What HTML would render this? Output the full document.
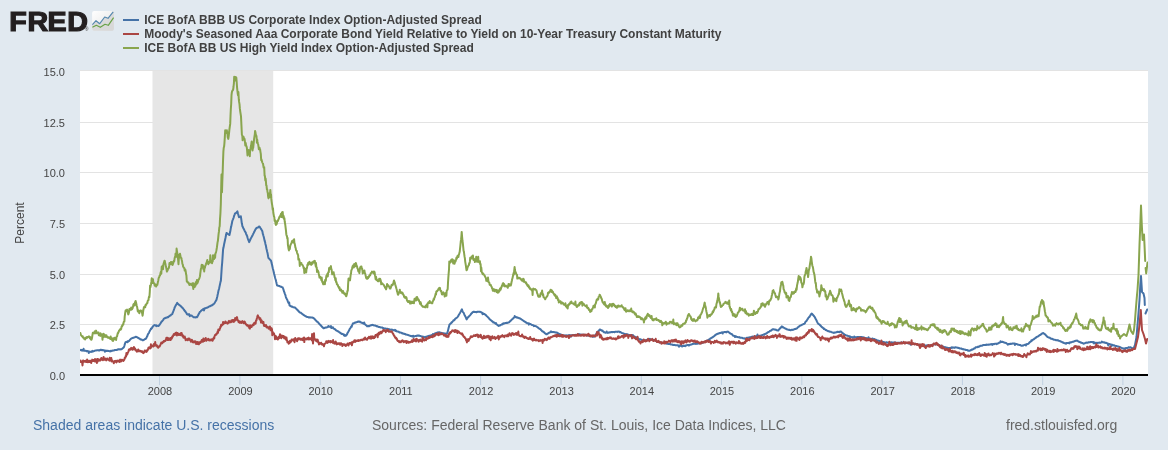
<!DOCTYPE html>
<html><head><meta charset="utf-8"><title>FRED Graph</title>
<style>
html,body{margin:0;padding:0;background:#e1e9f0;}
body{width:1168px;height:450px;overflow:hidden;}
svg text{font-family:"Liberation Sans",sans-serif;}
.ax{font-size:11px;fill:#444;}
.yt{font-size:12px;fill:#444;}
.lg{font-size:12px;font-weight:bold;fill:#414141;}
.ft{font-size:14px;}
.logo{font-size:27.3px;font-weight:bold;fill:#231f20;stroke:#231f20;stroke-width:1.2px;stroke-linejoin:miter;}
</style></head><body>
<svg width="1168" height="450" viewBox="0 0 1168 450" style="display:block">
<defs><linearGradient id="ig" x1="0" y1="0" x2="1" y2="1"><stop offset="0" stop-color="#ffffff"/><stop offset="0.6" stop-color="#eeeeee"/><stop offset="1" stop-color="#dddddd"/></linearGradient><clipPath id="pc"><rect x="80" y="71" width="1068" height="305"/></clipPath></defs>
<rect width="1168" height="450" fill="#e1e9f0"/>
<rect x="80" y="71" width="1068" height="304" fill="#ffffff"/>
<rect x="80" y="70" width="1068" height="1" fill="#e3e3e3"/>
<rect x="80" y="122.0" width="1068" height="1" fill="#e3e3e3"/>
<rect x="80" y="172.0" width="1068" height="1" fill="#e3e3e3"/>
<rect x="80" y="223.0" width="1068" height="1" fill="#e3e3e3"/>
<rect x="80" y="274.0" width="1068" height="1" fill="#e3e3e3"/>
<rect x="80" y="324.0" width="1068" height="1" fill="#e3e3e3"/>
<rect x="152.5" y="71" width="120.7" height="304" fill="#e6e6e6"/>
<rect x="159.0" y="376" width="1" height="9" fill="#c0d0e0"/>
<text x="160.0" y="394.7" text-anchor="middle" class="ax">2008</text>
<rect x="239.4" y="376" width="1" height="9" fill="#c0d0e0"/>
<text x="240.4" y="394.7" text-anchor="middle" class="ax">2009</text>
<rect x="319.7" y="376" width="1" height="9" fill="#c0d0e0"/>
<text x="320.7" y="394.7" text-anchor="middle" class="ax">2010</text>
<rect x="399.9" y="376" width="1" height="9" fill="#c0d0e0"/>
<text x="400.9" y="394.7" text-anchor="middle" class="ax">2011</text>
<rect x="480.1" y="376" width="1" height="9" fill="#c0d0e0"/>
<text x="481.1" y="394.7" text-anchor="middle" class="ax">2012</text>
<rect x="560.6" y="376" width="1" height="9" fill="#c0d0e0"/>
<text x="561.6" y="394.7" text-anchor="middle" class="ax">2013</text>
<rect x="640.8" y="376" width="1" height="9" fill="#c0d0e0"/>
<text x="641.8" y="394.7" text-anchor="middle" class="ax">2014</text>
<rect x="721.0" y="376" width="1" height="9" fill="#c0d0e0"/>
<text x="722.0" y="394.7" text-anchor="middle" class="ax">2015</text>
<rect x="801.3" y="376" width="1" height="9" fill="#c0d0e0"/>
<text x="802.3" y="394.7" text-anchor="middle" class="ax">2016</text>
<rect x="881.7" y="376" width="1" height="9" fill="#c0d0e0"/>
<text x="882.7" y="394.7" text-anchor="middle" class="ax">2017</text>
<rect x="961.9" y="376" width="1" height="9" fill="#c0d0e0"/>
<text x="962.9" y="394.7" text-anchor="middle" class="ax">2018</text>
<rect x="1042.2" y="376" width="1" height="9" fill="#c0d0e0"/>
<text x="1043.2" y="394.7" text-anchor="middle" class="ax">2019</text>
<rect x="1122.4" y="376" width="1" height="9" fill="#c0d0e0"/>
<text x="1123.4" y="394.7" text-anchor="middle" class="ax">2020</text>
<text x="65" y="76.0" text-anchor="end" class="ax">15.0</text>
<text x="65" y="126.7" text-anchor="end" class="ax">12.5</text>
<text x="65" y="177.3" text-anchor="end" class="ax">10.0</text>
<text x="65" y="228.0" text-anchor="end" class="ax">7.5</text>
<text x="65" y="278.7" text-anchor="end" class="ax">5.0</text>
<text x="65" y="329.3" text-anchor="end" class="ax">2.5</text>
<text x="65" y="380.0" text-anchor="end" class="ax">0.0</text>
<text transform="translate(24,223) rotate(-90)" text-anchor="middle" class="yt">Percent</text>
<g clip-path="url(#pc)" fill="none" stroke-width="2" stroke-linejoin="round" stroke-linecap="round">
<path d="M80.0 349.8 L80.3 350.1 L80.7 350.1 L81.0 350.2 L81.3 350.2 L81.6 349.9 L82.0 350.6 L82.3 350.1 L82.6 350.1 L82.9 350.4 L83.3 350.5 L83.6 348.8 L83.9 350.7 L84.2 350.6 L84.6 350.8 L84.9 350.8 L85.2 350.8 L85.5 350.8 L85.9 350.8 L86.2 351.1 L86.5 351.1 L86.8 351.4 L87.1 351.3 L87.5 351.0 L87.8 351.1 L88.1 351.3 L88.4 351.3 L88.8 353.0 L89.1 351.4 L89.4 351.5 L89.7 351.5 L90.0 351.7 L90.4 351.8 L90.7 351.9 L91.0 352.0 L91.3 351.9 L91.7 351.5 L92.0 351.7 L92.3 350.9 L92.6 351.4 L93.0 351.4 L93.3 351.2 L93.6 351.2 L93.9 351.1 L94.3 350.9 L94.6 350.9 L94.9 350.6 L95.2 350.6 L95.6 350.5 L95.9 350.4 L96.2 350.5 L96.5 350.4 L96.9 350.3 L97.2 350.3 L97.5 350.2 L97.8 350.2 L98.1 350.2 L98.5 350.2 L98.8 350.5 L99.1 350.2 L99.4 350.2 L99.8 350.4 L100.1 350.1 L100.4 349.7 L100.7 349.7 L101.0 350.0 L101.4 349.8 L101.7 350.2 L102.0 350.0 L102.3 350.1 L102.6 350.2 L103.0 350.0 L103.3 350.3 L103.6 350.2 L103.9 350.2 L104.2 350.4 L104.5 350.4 L104.9 351.8 L105.2 350.5 L105.5 350.6 L105.8 350.7 L106.1 350.7 L106.4 350.9 L106.8 350.9 L107.1 350.8 L107.4 350.8 L107.7 351.0 L108.0 350.8 L108.3 351.1 L108.7 351.1 L109.0 351.0 L109.3 351.1 L109.6 351.2 L109.9 351.2 L110.2 351.4 L110.6 350.9 L110.9 351.2 L111.2 351.1 L111.5 350.8 L111.8 350.8 L112.2 350.8 L112.5 350.6 L112.8 350.6 L113.1 350.5 L113.5 350.5 L113.8 350.5 L114.1 350.2 L114.4 350.2 L114.7 349.9 L115.1 350.0 L115.4 349.9 L115.7 350.0 L116.0 350.0 L116.4 350.1 L116.7 349.9 L117.0 349.9 L117.3 349.7 L117.7 349.6 L118.0 349.3 L118.3 349.4 L118.6 349.2 L119.0 349.3 L119.3 349.3 L119.6 349.4 L119.9 349.4 L120.3 349.3 L120.6 349.4 L120.9 349.2 L121.2 349.2 L121.6 349.2 L121.9 349.0 L122.3 348.6 L122.6 348.4 L123.0 348.0 L123.3 347.8 L123.7 347.3 L124.0 347.0 L124.4 345.8 L124.7 344.6 L125.1 343.4 L125.5 342.2 L125.8 342.1 L126.1 342.0 L126.4 342.0 L126.7 341.9 L127.0 341.7 L127.3 341.5 L127.7 342.1 L128.0 341.1 L128.3 341.2 L128.6 341.1 L128.9 341.0 L129.2 340.9 L129.6 340.3 L129.9 339.9 L130.3 339.4 L130.6 339.0 L131.0 338.9 L131.3 338.5 L131.7 338.2 L132.0 338.2 L132.3 338.0 L132.6 338.1 L133.0 337.8 L133.3 337.8 L133.6 337.6 L134.0 337.5 L134.3 337.5 L134.6 337.4 L134.9 337.3 L135.3 337.0 L135.6 336.8 L135.9 336.8 L136.2 336.8 L136.6 337.0 L136.9 337.2 L137.2 337.4 L137.6 337.5 L137.9 337.7 L138.2 338.0 L138.6 338.2 L138.9 338.4 L139.2 338.5 L139.6 338.7 L139.9 338.9 L140.2 339.2 L140.6 339.6 L140.9 339.6 L141.3 339.5 L141.6 339.5 L141.9 339.8 L142.3 340.1 L142.6 340.3 L143.0 340.3 L143.3 339.9 L143.6 339.9 L144.0 339.9 L144.3 339.6 L144.7 339.1 L145.0 339.0 L145.3 339.0 L145.7 338.8 L146.0 338.7 L146.3 338.0 L146.7 337.2 L147.0 336.5 L147.3 336.1 L147.7 334.9 L148.0 334.2 L148.3 333.6 L148.7 333.2 L149.0 332.6 L149.3 331.9 L149.7 331.1 L150.0 330.7 L150.3 330.0 L150.7 329.5 L151.0 328.5 L151.3 328.9 L151.7 328.4 L152.0 327.9 L152.3 327.3 L152.6 327.0 L153.0 326.4 L153.3 326.0 L153.6 325.6 L154.0 325.2 L154.3 325.2 L154.6 325.0 L154.9 325.2 L155.3 325.4 L155.6 325.6 L155.9 325.2 L156.2 325.3 L156.6 326.2 L156.9 325.6 L157.2 325.8 L157.5 325.8 L157.9 325.8 L158.2 325.7 L158.5 326.0 L158.9 325.7 L159.2 325.0 L159.5 324.8 L159.9 324.3 L160.2 323.8 L160.6 323.3 L160.9 322.6 L161.3 322.1 L161.6 321.5 L162.0 321.4 L162.3 320.9 L162.7 320.5 L163.0 320.0 L163.3 319.8 L163.7 319.0 L164.0 318.6 L164.4 318.4 L164.7 318.3 L165.0 318.2 L165.4 317.9 L165.7 317.9 L166.0 317.6 L166.4 317.7 L166.7 317.6 L167.0 317.5 L167.4 317.1 L167.7 317.3 L168.0 317.3 L168.3 317.0 L168.7 316.6 L169.0 316.3 L169.3 316.1 L169.7 315.8 L170.0 315.6 L170.3 315.6 L170.7 315.4 L171.0 315.0 L171.3 314.4 L171.6 314.4 L172.0 314.2 L172.3 314.1 L172.6 313.0 L173.0 312.2 L173.3 311.2 L173.7 310.4 L174.0 309.5 L174.4 308.4 L174.7 307.4 L175.1 306.8 L175.4 306.0 L175.8 305.4 L176.1 304.8 L176.5 304.3 L176.8 303.5 L177.2 302.9 L177.6 303.4 L178.0 303.8 L178.3 304.2 L178.7 304.5 L179.0 304.7 L179.3 305.1 L179.6 305.1 L180.0 305.5 L180.3 305.7 L180.6 306.1 L180.9 306.3 L181.3 306.7 L181.6 306.9 L181.9 307.3 L182.2 307.8 L182.6 307.9 L182.9 308.2 L183.2 308.6 L183.5 309.1 L183.9 309.7 L184.2 310.0 L184.5 310.7 L184.9 311.2 L185.2 311.0 L185.5 311.9 L185.9 312.2 L186.2 312.7 L186.5 313.2 L186.8 313.9 L187.2 314.5 L187.5 314.5 L187.8 314.4 L188.2 314.6 L188.5 314.7 L188.8 314.8 L189.1 314.1 L189.5 314.7 L189.8 316.2 L190.1 315.3 L190.5 315.5 L190.8 315.6 L191.1 315.5 L191.4 315.4 L191.8 315.8 L192.1 315.9 L192.5 316.3 L192.8 316.5 L193.2 317.0 L193.5 317.2 L193.9 317.3 L194.2 317.3 L194.6 317.3 L194.9 317.4 L195.3 317.5 L195.6 317.4 L195.9 317.1 L196.3 317.1 L196.6 317.2 L196.9 317.2 L197.3 316.8 L197.6 316.1 L198.0 315.5 L198.3 314.8 L198.6 314.2 L199.0 313.6 L199.3 313.0 L199.7 312.4 L200.0 311.8 L200.3 311.8 L200.7 311.2 L201.0 310.7 L201.3 310.6 L201.7 310.3 L202.0 310.0 L202.3 309.9 L202.7 309.7 L203.0 309.2 L203.3 309.0 L203.7 308.7 L204.0 310.4 L204.3 308.5 L204.7 308.6 L205.0 308.6 L205.3 308.3 L205.6 308.0 L206.0 308.0 L206.3 307.7 L206.6 307.7 L206.9 307.7 L207.3 307.7 L207.6 307.3 L207.9 307.3 L208.2 307.1 L208.6 306.9 L208.9 306.7 L209.2 306.5 L209.5 306.3 L209.9 306.3 L210.2 306.1 L210.5 305.9 L210.8 305.8 L211.2 305.6 L211.5 305.3 L211.8 305.4 L212.1 305.2 L212.4 305.1 L212.8 304.8 L213.1 304.4 L213.4 304.2 L213.7 304.0 L214.1 303.9 L214.4 303.3 L214.8 302.7 L215.1 302.0 L215.5 301.5 L215.8 300.9 L216.2 300.2 L216.5 299.8 L216.9 298.1 L217.4 296.2 L217.7 294.4 L218.0 293.2 L218.3 291.6 L218.6 290.3 L219.0 289.0 L219.3 287.6 L219.6 286.1 L219.9 284.8 L220.2 283.4 L220.5 281.9 L220.9 280.6 L221.2 276.0 L221.5 271.4 L221.8 266.8 L222.2 262.5 L222.5 258.0 L222.8 253.6 L223.1 249.2 L223.5 247.6 L223.8 246.0 L224.1 244.3 L224.5 242.5 L224.8 241.0 L225.2 239.2 L225.5 237.8 L225.8 236.2 L226.2 234.6 L226.5 233.0 L226.9 233.2 L227.2 233.5 L227.5 233.7 L227.8 233.9 L228.2 234.1 L228.5 234.4 L228.8 234.6 L229.1 234.9 L229.5 235.0 L229.8 233.4 L230.2 231.8 L230.5 230.1 L230.8 228.3 L231.2 226.6 L231.5 225.1 L231.9 223.3 L232.2 221.5 L232.5 220.4 L232.9 219.6 L233.2 218.7 L233.6 217.8 L233.9 216.7 L234.2 215.6 L234.6 214.6 L234.9 213.7 L235.2 213.4 L235.5 213.2 L235.9 213.2 L236.2 212.7 L236.5 212.4 L236.8 212.0 L237.1 211.8 L237.4 211.4 L237.7 212.5 L238.0 213.7 L238.4 215.0 L238.7 216.2 L239.0 217.2 L239.4 217.1 L239.7 216.8 L240.1 216.7 L240.4 216.5 L240.8 216.2 L241.1 218.2 L241.4 220.2 L241.8 223.3 L242.1 224.4 L242.4 226.4 L242.7 226.7 L243.1 227.5 L243.4 228.5 L243.8 228.9 L244.1 229.5 L244.4 230.3 L244.8 231.2 L245.1 231.6 L245.5 232.2 L245.8 232.8 L246.1 233.8 L246.5 234.8 L246.8 235.4 L247.2 236.2 L247.5 237.5 L247.8 238.5 L248.2 239.6 L248.5 240.4 L248.9 241.2 L249.2 242.1 L249.5 241.4 L249.9 240.6 L250.2 239.9 L250.6 239.0 L250.9 238.2 L251.2 237.9 L251.6 237.1 L251.9 236.5 L252.3 235.9 L252.6 235.2 L252.9 234.6 L253.3 233.7 L253.6 233.2 L254.0 232.3 L254.3 231.7 L254.6 231.1 L255.0 230.5 L255.3 229.7 L255.7 229.2 L256.0 228.6 L256.3 228.2 L256.7 228.0 L257.0 227.7 L257.4 227.6 L257.7 227.6 L258.0 227.5 L258.4 227.1 L258.7 226.9 L259.1 226.5 L259.4 226.4 L259.7 227.0 L260.1 227.3 L260.4 228.0 L260.8 228.7 L261.1 229.1 L261.4 229.6 L261.8 230.1 L262.1 230.7 L262.5 231.8 L262.8 233.9 L263.1 234.5 L263.4 235.8 L263.8 237.0 L264.1 238.4 L264.4 239.7 L264.7 241.1 L265.1 242.1 L265.4 243.9 L265.8 245.3 L266.1 246.8 L266.4 248.5 L266.8 250.1 L267.1 251.5 L267.5 252.9 L267.8 254.7 L268.1 256.4 L268.5 257.9 L268.8 258.4 L269.2 258.6 L269.5 259.0 L269.8 259.4 L270.2 259.8 L270.5 260.3 L270.9 260.7 L271.2 261.1 L271.5 262.8 L271.9 264.2 L272.2 265.5 L272.5 267.1 L272.8 268.4 L273.2 269.8 L273.5 271.1 L273.8 272.3 L274.1 273.8 L274.5 275.2 L274.8 276.4 L275.1 277.7 L275.4 278.8 L275.8 280.0 L276.1 281.4 L276.4 282.5 L276.7 284.0 L277.1 285.4 L277.4 285.5 L277.7 285.5 L278.0 285.7 L278.3 285.7 L278.6 285.7 L279.0 286.0 L279.3 286.1 L279.6 286.1 L279.9 286.3 L280.2 286.5 L280.5 286.6 L280.8 286.7 L281.2 286.9 L281.5 286.8 L281.8 287.1 L282.1 287.2 L282.4 287.2 L282.7 287.5 L283.1 288.5 L283.4 289.4 L283.8 290.7 L284.1 291.7 L284.4 292.4 L284.8 293.6 L285.1 294.4 L285.5 295.4 L285.8 296.7 L286.1 297.8 L286.5 298.4 L286.8 299.0 L287.2 299.7 L287.5 300.5 L287.8 301.4 L288.2 302.3 L288.5 302.9 L288.9 303.6 L289.2 302.5 L289.5 305.5 L289.9 305.6 L290.2 305.7 L290.5 306.1 L290.8 306.1 L291.1 306.2 L291.4 306.6 L291.7 306.7 L292.1 306.6 L292.4 306.8 L292.7 306.9 L293.0 306.9 L293.3 307.3 L293.6 307.3 L294.0 307.2 L294.3 307.5 L294.6 307.4 L294.9 307.5 L295.2 307.7 L295.5 308.0 L295.9 308.3 L296.2 308.7 L296.5 309.0 L296.8 309.4 L297.2 309.7 L297.5 309.9 L297.8 310.4 L298.1 310.5 L298.5 311.1 L298.8 311.3 L299.1 311.8 L299.4 312.2 L299.7 312.3 L300.1 312.5 L300.4 312.6 L300.7 312.7 L301.0 312.9 L301.4 313.3 L301.7 313.6 L302.0 313.7 L302.3 314.0 L302.7 314.3 L303.0 314.4 L303.3 314.8 L303.6 315.1 L304.0 315.1 L304.3 315.5 L304.6 315.7 L304.9 315.9 L305.3 316.0 L305.6 316.2 L305.9 316.4 L306.2 316.5 L306.5 316.8 L306.9 316.9 L307.2 317.0 L307.5 317.0 L307.8 317.0 L308.2 317.0 L308.5 317.4 L308.8 317.4 L309.1 317.4 L309.5 317.3 L309.8 317.5 L310.1 317.6 L310.4 317.5 L310.8 317.6 L311.1 317.5 L311.4 317.4 L311.7 317.6 L312.1 317.5 L312.4 317.7 L312.7 317.6 L313.0 317.8 L313.4 317.9 L313.7 318.2 L314.0 318.5 L314.3 318.7 L314.6 319.0 L314.9 319.5 L315.2 319.7 L315.6 320.2 L315.9 320.5 L316.2 320.7 L316.5 321.1 L316.8 321.3 L317.1 321.8 L317.4 321.9 L317.8 322.0 L318.1 322.5 L318.4 322.8 L318.7 323.1 L319.0 323.5 L319.3 324.1 L319.7 324.2 L320.0 324.5 L320.3 324.9 L320.6 325.3 L321.0 325.7 L321.3 325.9 L321.6 326.3 L321.9 326.8 L322.3 327.0 L322.6 327.3 L322.9 327.6 L323.2 328.1 L323.6 328.3 L323.9 328.1 L324.2 328.1 L324.5 327.9 L324.8 327.8 L325.1 327.7 L325.4 327.4 L325.8 327.5 L326.1 327.4 L326.4 327.4 L326.7 327.5 L327.0 327.3 L327.3 327.1 L327.6 327.0 L328.0 326.8 L328.3 326.0 L328.6 326.7 L328.9 326.7 L329.2 326.5 L329.5 326.7 L329.9 326.8 L330.2 326.2 L330.5 327.0 L330.8 327.1 L331.1 326.3 L331.4 328.1 L331.7 327.3 L332.1 327.4 L332.4 327.7 L332.7 327.8 L333.0 327.3 L333.3 328.3 L333.6 328.5 L333.9 328.7 L334.3 329.0 L334.6 329.1 L334.9 329.1 L335.2 329.3 L335.5 329.8 L335.8 330.2 L336.2 330.3 L336.5 330.5 L336.8 330.8 L337.1 330.8 L337.4 331.0 L337.7 331.2 L338.0 331.3 L338.4 331.5 L338.7 331.8 L339.0 331.8 L339.3 332.2 L339.6 332.3 L339.9 332.6 L340.2 332.8 L340.6 333.2 L340.9 333.4 L341.2 333.6 L341.5 333.7 L341.8 334.0 L342.1 333.8 L342.5 334.0 L342.8 334.1 L343.1 334.4 L343.4 334.3 L343.7 334.4 L344.0 335.5 L344.3 334.8 L344.7 334.8 L345.0 336.0 L345.3 335.3 L345.6 335.4 L345.9 335.5 L346.2 335.6 L346.6 334.9 L346.9 334.5 L347.3 333.7 L347.6 332.8 L347.9 332.5 L348.3 331.8 L348.6 331.3 L349.0 330.6 L349.3 329.9 L349.6 329.2 L350.0 328.7 L350.3 328.2 L350.7 327.5 L351.0 326.9 L351.3 326.4 L351.7 326.8 L352.0 325.3 L352.4 324.7 L352.7 324.0 L353.0 323.3 L353.3 323.3 L353.7 323.3 L354.0 323.2 L354.3 323.0 L354.6 322.8 L354.9 322.6 L355.2 322.7 L355.6 322.6 L355.9 322.4 L356.2 322.2 L356.5 322.2 L356.8 322.1 L357.1 322.1 L357.4 321.8 L357.8 321.9 L358.1 321.6 L358.4 321.5 L358.7 321.5 L359.0 321.7 L359.4 321.8 L359.7 321.5 L360.0 321.7 L360.3 322.2 L360.6 322.1 L361.0 322.3 L361.3 322.6 L361.6 322.8 L361.9 322.7 L362.3 322.9 L362.6 323.1 L362.9 323.3 L363.2 323.3 L363.6 323.6 L363.9 323.8 L364.2 322.4 L364.5 324.0 L364.9 324.1 L365.2 324.5 L365.5 324.8 L365.8 325.1 L366.2 325.3 L366.5 325.5 L366.8 325.6 L367.1 326.3 L367.4 326.0 L367.8 326.3 L368.1 326.1 L368.4 326.1 L368.7 325.9 L369.1 326.2 L369.4 325.9 L369.7 325.8 L370.0 325.7 L370.4 325.5 L370.7 325.4 L371.0 325.3 L371.3 325.1 L371.7 325.2 L372.0 325.0 L372.3 324.8 L372.6 325.0 L373.0 325.0 L373.3 325.1 L373.6 325.3 L373.9 325.3 L374.3 325.5 L374.6 325.5 L374.9 325.5 L375.2 325.6 L375.5 325.6 L375.9 325.8 L376.2 326.1 L376.5 326.2 L376.8 326.1 L377.2 326.4 L377.5 326.3 L377.8 326.4 L378.1 326.6 L378.5 326.8 L378.8 327.1 L379.1 327.0 L379.4 326.9 L379.8 327.0 L380.1 327.3 L380.4 327.4 L380.7 327.4 L381.1 327.4 L381.4 327.4 L381.7 327.4 L382.0 327.4 L382.4 327.7 L382.7 327.9 L383.0 327.9 L383.3 328.1 L383.6 328.2 L384.0 328.4 L384.3 328.4 L384.6 328.4 L384.9 328.4 L385.3 328.4 L385.6 328.6 L385.9 328.7 L386.2 328.7 L386.6 328.7 L386.9 328.8 L387.2 328.8 L387.5 328.8 L387.9 330.9 L388.2 329.1 L388.5 329.3 L388.8 329.4 L389.2 329.5 L389.5 329.3 L389.8 329.4 L390.1 329.4 L390.4 329.7 L390.8 329.6 L391.1 329.5 L391.4 329.7 L391.7 329.6 L392.1 329.7 L392.4 329.7 L392.7 329.7 L393.0 330.0 L393.4 330.1 L393.7 330.3 L394.0 330.3 L394.3 330.4 L394.7 330.5 L395.0 329.8 L395.3 330.7 L395.6 330.9 L396.0 330.5 L396.3 331.1 L396.6 331.3 L396.9 331.3 L397.3 331.5 L397.6 331.4 L397.9 331.5 L398.2 331.6 L398.5 331.7 L398.9 331.8 L399.2 332.2 L399.5 332.5 L399.8 332.5 L400.2 332.4 L400.5 332.5 L400.8 332.6 L401.1 332.7 L401.5 332.8 L401.8 333.1 L402.1 333.5 L402.4 333.3 L402.8 333.4 L403.1 333.6 L403.4 333.5 L403.7 333.8 L404.1 333.9 L404.4 333.8 L404.7 334.1 L405.0 334.0 L405.4 334.2 L405.7 334.5 L406.0 334.4 L406.3 334.6 L406.6 334.6 L407.0 334.7 L407.3 334.8 L407.6 334.9 L407.9 335.0 L408.3 335.1 L408.6 335.1 L408.9 335.4 L409.2 335.5 L409.6 335.5 L409.9 335.7 L410.2 335.9 L410.5 336.0 L410.9 335.9 L411.2 336.1 L411.5 336.2 L411.8 336.1 L412.2 336.0 L412.5 336.2 L412.8 336.6 L413.1 335.8 L413.4 336.8 L413.8 336.6 L414.1 336.4 L414.4 336.4 L414.7 336.2 L415.0 336.1 L415.3 336.1 L415.6 336.1 L416.0 335.9 L416.3 335.9 L416.6 335.7 L416.9 335.8 L417.2 335.6 L417.5 335.6 L417.8 335.5 L418.2 335.7 L418.5 335.7 L418.8 335.5 L419.1 335.4 L419.4 335.7 L419.7 335.9 L420.1 336.0 L420.4 336.1 L420.7 336.0 L421.0 336.1 L421.3 336.5 L421.6 336.4 L421.9 336.4 L422.3 336.6 L422.6 336.6 L422.9 336.9 L423.2 336.7 L423.5 336.9 L423.8 337.3 L424.1 337.3 L424.5 337.4 L424.8 337.0 L425.1 336.8 L425.4 337.0 L425.8 336.8 L426.1 336.8 L426.4 336.7 L426.7 336.6 L427.1 336.4 L427.4 336.3 L427.7 336.3 L428.0 336.2 L428.3 336.1 L428.7 336.3 L429.0 335.7 L429.3 335.9 L429.6 335.9 L430.0 335.8 L430.3 335.8 L430.6 335.6 L430.9 335.9 L431.3 335.2 L431.6 335.1 L431.9 335.9 L432.2 334.8 L432.6 334.9 L432.9 334.0 L433.2 334.4 L433.5 334.3 L433.9 334.1 L434.2 334.0 L434.5 333.9 L434.8 333.5 L435.2 333.4 L435.5 333.2 L435.8 333.3 L436.1 333.1 L436.4 333.0 L436.8 332.9 L437.1 332.7 L437.4 332.7 L437.7 332.4 L438.1 332.3 L438.4 332.4 L438.7 332.6 L439.0 332.4 L439.4 332.3 L439.7 332.4 L440.0 332.6 L440.3 332.6 L440.7 332.8 L441.0 332.8 L441.3 332.9 L441.6 333.1 L442.0 333.0 L442.3 333.1 L442.6 333.2 L442.9 333.3 L443.3 333.3 L443.6 333.2 L443.9 333.2 L444.2 333.5 L444.5 333.4 L444.9 333.6 L445.2 333.6 L445.5 333.6 L445.8 333.7 L446.2 333.6 L446.5 333.7 L446.8 333.6 L447.1 333.7 L447.5 332.4 L447.8 331.4 L448.1 330.1 L448.4 328.7 L448.8 327.4 L449.1 326.1 L449.4 324.8 L449.7 324.5 L450.1 324.0 L450.4 323.7 L450.7 323.5 L451.0 323.3 L451.3 322.7 L451.7 322.3 L452.0 322.4 L452.3 321.6 L452.6 321.5 L453.0 321.1 L453.3 320.6 L453.6 320.2 L453.9 320.1 L454.3 320.3 L454.6 319.7 L454.9 319.4 L455.2 318.8 L455.6 318.5 L455.9 318.3 L456.2 318.1 L456.5 317.8 L456.9 317.6 L457.2 317.4 L457.5 317.1 L457.8 316.6 L458.2 316.0 L458.5 315.6 L458.8 314.8 L459.2 314.2 L459.5 313.7 L459.8 313.2 L460.2 312.6 L460.5 312.1 L460.9 311.4 L461.2 310.7 L461.5 310.0 L461.9 309.4 L462.2 310.4 L462.5 310.9 L462.8 311.6 L463.1 312.2 L463.5 312.6 L463.8 313.0 L464.1 313.9 L464.4 314.7 L464.7 315.3 L465.0 315.9 L465.4 316.5 L465.7 317.2 L466.0 317.9 L466.3 318.7 L466.6 319.4 L466.9 318.9 L467.3 318.3 L467.6 317.7 L467.9 317.3 L468.2 317.2 L468.6 316.8 L468.9 316.5 L469.2 315.9 L469.5 315.8 L469.8 315.5 L470.2 315.1 L470.5 314.8 L470.8 314.3 L471.1 314.0 L471.5 313.4 L471.8 313.2 L472.1 313.0 L472.4 312.4 L472.7 312.0 L473.1 312.0 L473.4 311.8 L473.7 311.7 L474.0 311.9 L474.3 311.7 L474.6 312.0 L475.0 311.9 L475.3 311.9 L475.6 311.9 L475.9 311.9 L476.2 312.1 L476.5 312.3 L476.9 311.9 L477.2 311.9 L477.5 311.7 L477.8 311.8 L478.1 311.7 L478.5 311.7 L478.8 311.8 L479.1 311.8 L479.4 311.8 L479.7 311.9 L480.0 311.8 L480.4 311.9 L480.7 312.0 L481.0 312.2 L481.3 312.4 L481.6 312.6 L482.0 312.8 L482.3 312.8 L482.6 314.2 L482.9 313.3 L483.3 313.4 L483.6 313.7 L483.9 314.0 L484.2 313.9 L484.6 314.2 L484.9 314.4 L485.2 314.4 L485.5 314.8 L485.9 315.2 L486.2 315.5 L486.5 315.9 L486.8 316.2 L487.2 316.4 L487.5 316.8 L487.8 317.1 L488.1 317.5 L488.5 317.8 L488.8 318.0 L489.1 318.4 L489.4 318.9 L489.7 319.3 L490.1 319.6 L490.4 319.9 L490.7 320.1 L491.0 320.4 L491.4 320.5 L491.7 320.9 L492.0 321.1 L492.3 321.5 L492.7 321.7 L493.0 321.9 L493.3 322.4 L493.6 322.3 L494.0 322.4 L494.3 322.6 L494.6 323.0 L494.9 323.0 L495.3 323.5 L495.6 323.8 L495.9 323.0 L496.2 324.1 L496.5 324.4 L496.9 324.5 L497.2 324.7 L497.5 325.0 L497.8 325.3 L498.2 325.6 L498.5 325.9 L498.8 325.9 L499.1 325.4 L499.4 325.6 L499.8 325.4 L500.1 325.4 L500.4 325.3 L500.7 325.0 L501.0 324.7 L501.3 324.7 L501.7 324.5 L502.0 324.6 L502.3 324.0 L502.6 324.2 L502.9 323.7 L503.2 323.3 L503.5 323.8 L503.9 323.6 L504.2 323.5 L504.5 323.3 L504.8 323.3 L505.1 323.0 L505.5 323.1 L505.8 322.9 L506.1 323.0 L506.4 322.8 L506.8 322.8 L507.1 323.0 L507.4 322.9 L507.7 322.7 L508.0 322.6 L508.4 322.5 L508.7 322.6 L509.0 322.3 L509.3 322.0 L509.7 321.7 L510.0 321.3 L510.3 321.0 L510.6 320.9 L510.9 320.6 L511.2 320.2 L511.5 319.9 L511.9 319.5 L512.2 319.2 L512.5 318.8 L512.8 318.8 L513.1 318.5 L513.4 318.1 L513.7 317.8 L514.1 317.6 L514.4 317.3 L514.7 316.0 L515.0 317.0 L515.3 317.1 L515.6 317.1 L515.9 317.1 L516.3 317.4 L516.6 317.4 L516.9 317.3 L517.2 317.6 L517.5 317.7 L517.8 317.6 L518.2 317.8 L518.5 317.9 L518.8 318.0 L519.1 318.3 L519.4 318.2 L519.7 318.2 L520.0 318.6 L520.4 318.6 L520.7 318.8 L521.0 319.1 L521.3 319.4 L521.6 319.5 L521.9 319.7 L522.2 319.7 L522.6 320.3 L522.9 320.3 L523.2 320.7 L523.5 320.7 L523.8 321.1 L524.1 321.2 L524.5 321.7 L524.8 321.7 L525.1 321.8 L525.4 322.0 L525.7 322.0 L526.0 322.5 L526.3 322.8 L526.7 322.8 L527.0 323.1 L527.3 323.3 L527.6 323.3 L527.9 323.3 L528.2 323.3 L528.5 323.4 L528.9 324.6 L529.2 323.5 L529.5 323.8 L529.8 323.7 L530.1 324.0 L530.4 324.0 L530.8 324.1 L531.1 324.5 L531.4 324.7 L531.7 324.9 L532.0 325.0 L532.3 325.0 L532.6 325.1 L533.0 325.2 L533.3 325.4 L533.6 325.5 L533.9 326.2 L534.2 325.8 L534.5 325.8 L534.8 326.0 L535.2 326.1 L535.5 326.1 L535.8 326.2 L536.1 326.3 L536.4 326.5 L536.7 326.7 L537.1 327.0 L537.4 327.2 L537.7 327.4 L538.0 327.4 L538.3 327.7 L538.6 328.2 L538.9 328.4 L539.3 328.4 L539.6 328.7 L539.9 329.0 L540.2 329.0 L540.5 329.2 L540.8 329.7 L541.1 330.1 L541.5 330.3 L541.8 330.7 L542.1 331.1 L542.4 331.3 L542.7 331.5 L543.0 331.6 L543.4 331.9 L543.7 331.8 L544.1 332.4 L544.4 332.7 L544.7 333.2 L545.1 333.3 L545.4 333.5 L545.8 333.9 L546.1 334.1 L546.4 334.3 L546.8 334.3 L547.1 334.0 L547.4 333.8 L547.7 333.4 L548.1 333.4 L548.4 333.3 L548.7 333.1 L549.0 332.8 L549.4 332.5 L549.7 332.6 L550.0 332.3 L550.3 332.1 L550.6 332.0 L551.0 331.4 L551.3 331.7 L551.6 331.7 L551.9 332.1 L552.2 331.9 L552.5 331.9 L552.9 332.0 L553.2 332.0 L553.5 332.1 L553.8 332.1 L554.1 332.1 L554.4 332.3 L554.7 332.2 L555.1 332.3 L555.4 332.5 L555.7 332.4 L556.0 332.4 L556.3 332.4 L556.6 332.6 L557.0 332.6 L557.3 332.8 L557.6 333.5 L557.9 333.2 L558.2 333.2 L558.5 333.5 L558.8 334.4 L559.2 333.8 L559.5 334.1 L559.8 334.1 L560.1 334.3 L560.4 334.3 L560.7 334.6 L561.0 334.6 L561.4 334.7 L561.7 334.9 L562.0 335.0 L562.3 335.2 L562.6 335.4 L562.9 335.3 L563.2 335.3 L563.6 335.3 L563.9 335.6 L564.2 335.5 L564.5 335.4 L564.8 335.6 L565.1 335.6 L565.4 335.6 L565.7 335.5 L566.1 335.3 L566.4 335.4 L566.7 335.6 L567.0 335.5 L567.3 335.4 L567.6 335.6 L567.9 335.4 L568.3 335.3 L568.6 335.3 L568.9 335.3 L569.2 335.3 L569.5 335.1 L569.8 335.3 L570.1 335.4 L570.4 335.5 L570.8 336.8 L571.1 335.4 L571.4 335.3 L571.7 335.3 L572.0 335.3 L572.3 335.2 L572.6 335.1 L572.9 335.3 L573.3 335.4 L573.6 335.1 L573.9 335.1 L574.2 335.1 L574.5 335.0 L574.8 335.0 L575.1 334.9 L575.4 334.8 L575.8 335.0 L576.1 335.1 L576.4 334.9 L576.7 334.9 L577.0 334.8 L577.3 334.9 L577.6 334.9 L577.9 335.0 L578.3 334.9 L578.6 334.8 L578.9 334.0 L579.2 334.7 L579.5 334.6 L579.8 334.5 L580.1 334.5 L580.4 334.4 L580.8 334.7 L581.1 334.8 L581.4 334.8 L581.7 334.8 L582.0 334.8 L582.4 334.8 L582.7 334.9 L583.0 334.9 L583.3 334.7 L583.6 334.7 L583.9 334.7 L584.3 334.8 L584.6 334.8 L584.9 335.0 L585.2 335.0 L585.5 334.9 L585.8 335.0 L586.2 335.1 L586.5 335.1 L586.8 335.3 L587.1 335.4 L587.4 335.5 L587.8 335.4 L588.1 335.6 L588.4 335.3 L588.7 335.3 L589.0 335.4 L589.3 335.5 L589.6 335.4 L590.0 335.5 L590.3 335.7 L590.6 335.9 L590.9 336.2 L591.2 336.2 L591.5 336.2 L591.8 336.2 L592.2 336.4 L592.5 336.7 L592.8 336.5 L593.1 336.5 L593.4 336.6 L593.7 336.7 L594.1 336.7 L594.4 336.4 L594.7 335.9 L595.0 335.4 L595.3 335.0 L595.6 334.7 L595.9 334.3 L596.3 333.7 L596.6 333.3 L596.9 334.5 L597.2 332.7 L597.5 332.3 L597.8 331.9 L598.1 331.3 L598.5 331.2 L598.8 330.8 L599.1 330.4 L599.4 329.9 L599.7 329.4 L600.0 329.5 L600.4 329.9 L600.7 329.8 L601.0 330.2 L601.3 330.2 L601.6 330.4 L601.9 330.7 L602.2 330.8 L602.6 330.6 L602.9 331.3 L603.2 331.6 L603.5 331.6 L603.8 332.1 L604.1 332.3 L604.4 332.2 L604.8 332.4 L605.1 332.6 L605.4 332.7 L605.7 332.6 L606.0 332.7 L606.4 332.6 L606.7 331.5 L607.0 332.6 L607.3 332.6 L607.7 332.8 L608.0 333.0 L608.3 332.6 L608.6 332.4 L609.0 332.5 L609.3 332.3 L609.6 332.4 L609.9 332.5 L610.3 332.4 L610.6 332.2 L610.9 332.2 L611.2 332.0 L611.5 331.9 L611.9 332.0 L612.2 332.2 L612.5 332.1 L612.8 332.0 L613.2 332.1 L613.5 332.1 L613.8 332.1 L614.1 332.1 L614.5 332.2 L614.8 332.1 L615.1 331.8 L615.4 331.8 L615.8 331.7 L616.1 331.8 L616.4 331.8 L616.7 331.8 L617.1 331.9 L617.4 331.9 L617.7 331.6 L618.0 331.7 L618.3 331.6 L618.7 331.5 L619.0 331.5 L619.3 331.7 L619.6 331.8 L620.0 332.3 L620.3 332.1 L620.6 332.3 L620.9 332.4 L621.3 332.5 L621.6 332.9 L621.9 333.0 L622.2 333.1 L622.6 333.2 L622.9 333.3 L623.2 333.4 L623.5 333.5 L623.9 333.7 L624.2 333.9 L624.5 334.0 L624.8 333.9 L625.2 334.0 L625.5 334.2 L625.8 334.2 L626.1 334.3 L626.4 334.4 L626.8 334.4 L627.1 334.2 L627.4 334.4 L627.7 334.6 L628.1 334.8 L628.4 334.7 L628.7 334.9 L629.0 335.1 L629.4 335.2 L629.7 335.1 L630.0 335.2 L630.3 335.0 L630.7 336.1 L631.0 335.3 L631.3 335.2 L631.6 335.2 L632.0 335.1 L632.3 335.1 L632.6 335.2 L632.9 335.6 L633.3 335.4 L633.6 336.1 L633.9 336.4 L634.2 336.4 L634.5 337.5 L634.9 336.7 L635.2 337.0 L635.5 337.1 L635.8 337.4 L636.2 337.3 L636.5 337.4 L636.8 337.8 L637.1 338.1 L637.5 338.3 L637.8 338.1 L638.1 338.3 L638.4 338.5 L638.8 339.0 L639.1 338.9 L639.4 339.2 L639.7 339.5 L640.1 339.4 L640.4 339.3 L640.7 339.4 L641.0 339.8 L641.3 339.7 L641.7 339.8 L642.0 339.9 L642.3 340.2 L642.6 340.4 L643.0 340.2 L643.3 340.4 L643.6 340.4 L643.9 340.6 L644.3 340.4 L644.6 340.5 L644.9 340.5 L645.2 340.2 L645.5 340.2 L645.8 340.2 L646.1 340.1 L646.5 340.2 L646.8 340.1 L647.1 339.8 L647.4 339.7 L647.7 339.8 L648.0 339.7 L648.4 339.6 L648.7 339.2 L649.0 339.2 L649.3 339.1 L649.6 339.1 L649.9 338.9 L650.2 339.3 L650.6 339.4 L650.9 339.4 L651.2 339.7 L651.5 339.7 L651.8 339.7 L652.1 339.8 L652.4 339.7 L652.8 339.7 L653.1 339.9 L653.4 340.0 L653.7 340.3 L654.0 340.3 L654.3 340.2 L654.6 340.2 L655.0 340.2 L655.3 340.4 L655.6 340.7 L656.0 341.0 L656.4 341.3 L656.7 341.5 L657.1 341.9 L657.4 341.8 L657.7 341.8 L658.0 342.1 L658.3 342.1 L658.6 342.0 L658.9 342.0 L659.3 342.2 L659.6 342.5 L659.9 342.5 L660.2 342.6 L660.5 342.5 L660.8 342.5 L661.1 342.6 L661.4 342.8 L661.8 342.7 L662.1 342.9 L662.4 342.6 L662.7 342.9 L663.0 342.9 L663.3 343.0 L663.6 343.1 L664.0 343.1 L664.3 343.1 L664.6 343.1 L664.9 343.1 L665.2 343.3 L665.5 343.3 L665.8 343.3 L666.1 343.5 L666.5 343.5 L666.8 343.6 L667.1 343.8 L667.4 343.7 L667.7 343.8 L668.0 343.9 L668.3 344.0 L668.6 343.9 L669.0 344.0 L669.3 344.1 L669.6 344.0 L669.9 344.1 L670.2 344.1 L670.5 344.3 L670.8 344.4 L671.1 344.6 L671.5 344.6 L671.8 344.4 L672.1 344.6 L672.4 344.6 L672.7 344.8 L673.0 345.0 L673.3 345.0 L673.6 345.0 L674.0 344.7 L674.3 345.0 L674.6 345.0 L674.9 345.0 L675.2 345.1 L675.5 345.2 L675.8 345.3 L676.1 345.2 L676.5 345.2 L676.8 345.2 L677.1 345.3 L677.4 345.2 L677.7 345.4 L678.0 345.4 L678.3 345.6 L678.7 345.5 L679.0 346.8 L679.3 345.4 L679.6 345.4 L679.9 345.6 L680.2 345.7 L680.5 345.6 L680.8 345.2 L681.2 346.0 L681.5 345.9 L681.8 345.9 L682.1 346.5 L682.4 345.8 L682.7 345.8 L683.0 346.0 L683.3 346.0 L683.7 346.0 L684.0 346.0 L684.3 345.9 L684.6 345.7 L684.9 345.6 L685.2 346.1 L685.5 345.5 L685.8 345.5 L686.2 345.6 L686.5 345.5 L686.8 345.2 L687.1 345.1 L687.4 345.1 L687.7 345.1 L688.0 345.1 L688.3 344.9 L688.7 344.9 L689.0 345.6 L689.3 345.0 L689.6 345.0 L689.9 344.8 L690.2 344.7 L690.5 344.7 L690.8 344.6 L691.2 344.6 L691.5 344.6 L691.8 344.4 L692.1 344.1 L692.4 344.1 L692.7 344.1 L693.0 344.0 L693.4 343.9 L693.7 343.8 L694.0 343.7 L694.3 343.8 L694.6 343.8 L694.9 343.7 L695.2 343.6 L695.5 343.6 L695.9 343.9 L696.2 343.7 L696.5 343.8 L696.8 343.7 L697.1 343.8 L697.4 343.7 L697.7 343.6 L698.0 343.5 L698.4 343.4 L698.7 343.3 L699.0 343.5 L699.3 343.5 L699.6 343.2 L699.9 343.1 L700.2 343.0 L700.5 343.1 L700.9 343.1 L701.2 343.2 L701.5 343.2 L701.8 343.0 L702.1 342.6 L702.4 342.7 L702.7 342.8 L703.1 342.5 L703.4 342.3 L703.7 342.5 L704.0 342.1 L704.4 341.9 L704.7 341.8 L705.0 341.4 L705.3 341.4 L705.7 341.2 L706.0 341.2 L706.3 340.9 L706.6 340.8 L707.0 340.7 L707.3 340.5 L707.6 340.3 L707.9 340.2 L708.3 340.1 L708.6 340.0 L708.9 339.5 L709.2 340.3 L709.5 338.9 L709.9 338.9 L710.2 338.7 L710.5 338.4 L710.8 338.3 L711.2 338.1 L711.5 337.8 L711.8 337.6 L712.1 337.5 L712.5 337.3 L712.8 337.1 L713.1 336.9 L713.4 336.7 L713.8 336.4 L714.1 336.2 L714.4 336.0 L714.7 335.7 L715.1 335.2 L715.4 335.1 L715.7 334.6 L716.0 334.5 L716.3 334.5 L716.7 334.3 L717.0 334.0 L717.3 333.7 L717.6 333.9 L717.9 333.8 L718.2 333.6 L718.5 333.6 L718.9 333.3 L719.2 333.3 L719.5 333.1 L719.8 333.1 L720.1 333.1 L720.4 333.0 L720.8 332.9 L721.1 332.7 L721.4 332.6 L721.7 332.5 L722.0 332.3 L722.3 332.5 L722.6 333.6 L723.0 332.4 L723.3 332.3 L723.6 332.3 L723.9 332.2 L724.2 332.1 L724.5 332.1 L724.8 331.9 L725.2 332.0 L725.5 332.0 L725.8 332.1 L726.1 332.4 L726.4 332.2 L726.7 331.7 L727.1 331.8 L727.4 331.6 L727.7 331.7 L728.0 331.7 L728.3 331.8 L728.6 332.2 L728.9 332.4 L729.3 332.6 L729.6 333.0 L729.9 333.3 L730.2 333.4 L730.5 333.5 L730.8 333.6 L731.1 334.0 L731.5 334.1 L731.8 334.1 L732.1 334.3 L732.4 334.9 L732.7 335.2 L733.0 335.6 L733.3 335.7 L733.7 335.7 L734.0 335.8 L734.3 335.8 L734.6 336.0 L734.9 337.1 L735.2 336.1 L735.6 336.2 L735.9 336.3 L736.2 336.5 L736.5 336.8 L736.8 336.9 L737.1 337.0 L737.4 337.1 L737.8 337.1 L738.1 337.2 L738.4 337.2 L738.7 337.2 L739.0 337.1 L739.4 337.4 L739.7 337.3 L740.0 337.4 L740.3 337.8 L740.6 337.7 L741.0 337.7 L741.3 337.7 L741.6 337.8 L741.9 337.8 L742.3 337.8 L742.6 338.2 L742.9 338.2 L743.2 338.3 L743.6 338.4 L743.9 338.4 L744.2 338.3 L744.5 338.4 L744.9 338.6 L745.2 338.8 L745.5 338.5 L745.8 338.4 L746.2 338.2 L746.5 338.0 L746.8 337.9 L747.1 337.7 L747.4 337.8 L747.8 337.8 L748.1 337.8 L748.4 337.7 L748.7 337.4 L749.1 337.5 L749.4 337.4 L749.7 337.4 L750.0 337.2 L750.4 337.2 L750.7 338.2 L751.0 337.3 L751.3 337.0 L751.7 336.7 L752.0 336.8 L752.3 336.6 L752.6 336.6 L753.0 336.7 L753.3 336.6 L753.6 336.8 L753.9 336.9 L754.3 336.6 L754.6 336.6 L754.9 336.6 L755.2 336.5 L755.5 336.5 L755.9 336.2 L756.2 336.5 L756.5 336.3 L756.8 336.2 L757.2 336.2 L757.5 334.4 L757.8 336.2 L758.1 336.3 L758.5 336.1 L758.8 336.1 L759.1 336.1 L759.4 335.9 L759.8 335.7 L760.1 335.6 L760.4 335.7 L760.7 335.6 L761.1 335.5 L761.4 335.3 L761.7 335.3 L762.0 335.1 L762.4 335.0 L762.7 334.9 L763.0 334.9 L763.3 334.6 L763.6 334.6 L764.0 334.4 L764.3 334.6 L764.6 334.1 L764.9 334.1 L765.3 333.9 L765.6 333.8 L765.9 333.8 L766.2 333.5 L766.6 333.3 L766.9 333.1 L767.2 332.8 L767.5 332.4 L767.9 332.3 L768.2 332.1 L768.5 331.9 L768.8 331.9 L769.2 331.7 L769.5 331.4 L769.8 331.0 L770.1 330.9 L770.4 330.8 L770.8 330.7 L771.1 330.4 L771.4 330.3 L771.7 329.9 L772.1 329.7 L772.4 329.6 L772.7 329.2 L773.0 329.2 L773.3 329.2 L773.7 329.3 L774.0 329.5 L774.3 329.6 L774.6 329.6 L774.9 329.5 L775.2 329.8 L775.6 329.8 L775.9 329.6 L776.2 330.0 L776.5 330.2 L776.8 330.3 L777.1 330.3 L777.4 330.4 L777.8 330.4 L778.1 330.4 L778.4 330.5 L778.7 329.9 L779.1 329.4 L779.4 328.9 L779.7 328.8 L780.1 328.4 L780.4 327.9 L780.8 327.7 L781.1 327.2 L781.4 326.8 L781.8 326.4 L782.1 326.7 L782.4 327.3 L782.8 326.9 L783.1 327.2 L783.4 327.6 L783.7 327.6 L784.1 327.8 L784.4 328.0 L784.7 328.3 L785.0 328.4 L785.4 328.5 L785.7 328.7 L786.0 328.8 L786.3 329.1 L786.6 329.3 L787.0 329.3 L787.3 329.5 L787.6 329.5 L787.9 329.6 L788.3 329.7 L788.6 329.8 L788.9 329.9 L789.2 329.7 L789.6 329.8 L789.9 330.0 L790.2 330.0 L790.5 330.2 L790.9 330.2 L791.2 330.0 L791.5 329.8 L791.8 329.8 L792.1 329.8 L792.4 329.9 L792.7 329.7 L793.1 329.7 L793.4 329.7 L793.7 329.5 L794.0 329.3 L794.3 329.3 L794.6 329.1 L795.0 329.1 L795.3 329.1 L795.6 328.9 L795.9 328.7 L796.2 328.7 L796.5 328.6 L796.8 328.4 L797.2 328.1 L797.5 327.8 L797.8 327.3 L798.1 327.1 L798.5 326.9 L798.8 326.7 L799.1 326.5 L799.4 326.3 L799.7 325.8 L800.1 325.6 L800.4 325.4 L800.7 325.5 L801.0 325.4 L801.3 325.1 L801.6 325.1 L802.0 324.7 L802.3 324.6 L802.6 324.5 L802.9 324.5 L803.2 324.1 L803.5 324.0 L803.8 323.9 L804.1 323.9 L804.5 323.7 L804.8 323.3 L805.1 322.6 L805.4 321.9 L805.7 321.6 L806.0 321.3 L806.3 321.1 L806.7 320.7 L807.0 320.0 L807.3 319.6 L807.6 319.1 L807.9 319.0 L808.2 318.2 L808.5 317.6 L808.9 317.2 L809.2 316.9 L809.5 317.0 L809.8 316.2 L810.1 315.8 L810.4 315.2 L810.8 314.6 L811.1 314.2 L811.4 313.8 L811.7 313.6 L812.0 313.8 L812.4 314.2 L812.7 314.7 L813.0 314.8 L813.4 315.3 L813.7 315.7 L814.0 316.2 L814.3 316.5 L814.7 316.9 L815.0 317.6 L815.3 318.3 L815.7 319.0 L816.0 319.5 L816.4 320.2 L816.7 321.0 L817.0 321.7 L817.4 322.3 L817.7 323.0 L818.1 323.5 L818.4 323.9 L818.7 324.1 L819.0 324.2 L819.4 324.5 L819.7 324.7 L820.0 325.2 L820.3 325.3 L820.7 325.7 L821.0 326.2 L821.3 326.5 L821.6 326.9 L822.0 327.2 L822.3 327.3 L822.6 327.7 L822.9 327.9 L823.3 328.2 L823.6 328.3 L823.9 329.0 L824.2 328.5 L824.5 328.9 L824.9 329.3 L825.2 329.6 L825.5 329.9 L825.8 330.1 L826.2 330.2 L826.5 330.1 L826.8 330.5 L827.1 330.7 L827.5 330.9 L827.8 330.9 L828.1 331.1 L828.4 331.3 L828.8 331.2 L829.1 331.2 L829.4 331.5 L829.7 331.6 L830.1 331.8 L830.4 331.7 L830.7 331.7 L831.0 331.9 L831.3 332.0 L831.7 332.1 L832.0 332.4 L832.3 332.4 L832.6 332.6 L833.0 332.6 L833.3 332.6 L833.6 332.7 L833.9 332.9 L834.3 332.6 L834.6 332.5 L834.9 332.4 L835.2 332.5 L835.6 332.5 L835.9 332.4 L836.2 332.3 L836.5 332.3 L836.9 332.1 L837.2 331.8 L837.5 331.8 L837.8 331.9 L838.2 332.1 L838.5 332.0 L838.8 331.8 L839.1 331.8 L839.4 332.2 L839.8 331.8 L840.1 331.7 L840.4 331.4 L840.7 331.5 L841.1 331.7 L841.4 332.0 L841.7 332.2 L842.0 332.5 L842.4 332.8 L842.7 333.1 L843.0 333.3 L843.3 333.5 L843.7 333.9 L844.0 334.2 L844.3 334.3 L844.6 334.5 L845.0 334.9 L845.3 334.9 L845.6 335.1 L845.9 335.4 L846.3 335.5 L846.6 335.5 L846.9 335.4 L847.2 335.6 L847.6 335.8 L847.9 335.9 L848.2 336.0 L848.5 336.2 L848.8 336.3 L849.1 336.3 L849.5 336.3 L849.8 336.3 L850.1 338.2 L850.4 336.7 L850.7 336.9 L851.0 337.0 L851.4 337.3 L851.7 337.2 L852.0 337.1 L852.3 337.1 L852.6 337.5 L852.9 337.6 L853.2 337.8 L853.6 337.7 L853.9 337.6 L854.2 336.4 L854.5 337.5 L854.8 337.5 L855.2 337.4 L855.5 337.3 L855.8 337.2 L856.1 337.1 L856.5 337.2 L856.8 337.2 L857.1 337.1 L857.4 337.2 L857.8 337.0 L858.1 337.0 L858.4 337.1 L858.7 337.1 L859.1 337.0 L859.4 337.1 L859.7 337.3 L860.0 337.2 L860.4 337.0 L860.7 337.0 L861.0 337.1 L861.3 337.0 L861.6 337.1 L862.0 337.1 L862.3 337.4 L862.6 337.3 L862.9 337.4 L863.3 337.5 L863.6 337.3 L863.9 337.5 L864.2 337.6 L864.6 337.8 L864.9 337.9 L865.2 338.0 L865.5 338.1 L865.9 338.2 L866.2 338.1 L866.5 338.3 L866.8 338.3 L867.2 338.4 L867.5 338.5 L867.8 338.6 L868.1 338.5 L868.5 337.3 L868.8 338.4 L869.1 338.5 L869.4 338.6 L869.7 338.6 L870.1 338.6 L870.4 338.8 L870.7 338.8 L871.0 339.0 L871.4 338.8 L871.7 338.8 L872.0 338.7 L872.3 338.6 L872.7 338.6 L873.0 338.8 L873.3 339.0 L873.6 339.2 L874.0 339.1 L874.3 339.1 L874.6 339.1 L874.9 339.4 L875.3 339.4 L875.6 339.7 L875.9 339.6 L876.2 339.9 L876.5 340.1 L876.9 340.2 L877.2 340.5 L877.5 340.4 L877.8 340.5 L878.2 340.7 L878.5 340.8 L878.8 340.8 L879.1 340.9 L879.5 341.2 L879.8 341.1 L880.1 341.5 L880.4 341.6 L880.8 341.7 L881.1 342.9 L881.4 341.9 L881.7 341.7 L882.1 341.8 L882.4 341.7 L882.7 341.9 L883.0 342.0 L883.4 342.0 L883.7 342.0 L884.0 342.1 L884.3 342.3 L884.6 342.3 L885.0 342.5 L885.3 342.4 L885.6 342.5 L885.9 342.4 L886.3 342.3 L886.6 342.2 L886.9 342.5 L887.2 342.5 L887.6 342.5 L887.9 342.7 L888.2 342.7 L888.5 342.5 L888.8 342.4 L889.1 342.6 L889.5 342.5 L889.8 342.5 L890.1 342.5 L890.4 342.6 L890.7 342.6 L891.0 342.5 L891.3 342.4 L891.6 342.3 L892.0 342.6 L892.3 342.6 L892.6 342.6 L892.9 342.7 L893.2 342.4 L893.5 342.4 L893.8 342.6 L894.1 342.4 L894.5 342.4 L894.8 342.7 L895.1 342.4 L895.4 342.8 L895.7 343.0 L896.0 342.8 L896.3 342.8 L896.6 342.8 L897.0 342.7 L897.3 342.9 L897.6 342.8 L897.9 342.8 L898.2 343.0 L898.5 342.8 L898.8 342.7 L899.1 342.8 L899.5 342.8 L899.8 342.7 L900.1 342.7 L900.4 342.9 L900.7 342.8 L901.0 342.9 L901.3 343.0 L901.6 343.1 L902.0 342.3 L902.3 342.8 L902.6 343.0 L902.9 342.8 L903.2 342.7 L903.5 343.0 L903.8 343.1 L904.2 343.0 L904.5 342.8 L904.8 343.0 L905.1 343.0 L905.4 343.1 L905.7 343.0 L906.0 343.0 L906.3 343.1 L906.7 343.0 L907.0 342.9 L907.3 343.1 L907.6 343.1 L907.9 343.2 L908.2 342.7 L908.5 343.2 L908.8 343.3 L909.2 343.6 L909.5 343.4 L909.8 343.1 L910.1 343.3 L910.4 343.4 L910.7 344.8 L911.0 343.3 L911.3 343.4 L911.7 343.6 L912.0 343.8 L912.3 343.8 L912.6 343.8 L912.9 343.9 L913.2 343.9 L913.5 343.8 L913.8 344.0 L914.2 344.0 L914.5 343.9 L914.8 344.0 L915.1 343.7 L915.4 343.8 L915.7 344.0 L916.1 344.1 L916.4 344.4 L916.7 344.4 L917.0 344.4 L917.4 344.4 L917.7 344.4 L918.0 344.5 L918.3 344.5 L918.7 344.8 L919.0 344.8 L919.3 344.9 L919.6 344.8 L920.0 344.8 L920.3 344.9 L920.6 344.9 L920.9 345.0 L921.3 345.0 L921.6 345.3 L921.9 345.1 L922.2 345.2 L922.5 345.1 L922.9 345.1 L923.2 345.4 L923.5 345.4 L923.8 345.5 L924.2 345.5 L924.5 345.5 L924.8 345.2 L925.1 345.5 L925.5 345.6 L925.8 345.7 L926.1 345.6 L926.4 345.5 L926.8 345.6 L927.1 345.3 L927.4 345.3 L927.7 345.4 L928.1 345.5 L928.4 345.7 L928.7 345.7 L929.0 345.8 L929.3 345.8 L929.7 345.8 L930.0 345.7 L930.3 345.7 L930.6 345.5 L930.9 345.2 L931.2 345.3 L931.6 345.2 L931.9 345.1 L932.2 345.0 L932.5 344.8 L932.8 344.7 L933.1 344.7 L933.5 344.6 L933.8 344.3 L934.1 344.3 L934.4 344.3 L934.7 344.4 L935.1 344.4 L935.4 344.6 L935.7 344.4 L936.0 344.3 L936.3 344.3 L936.6 344.2 L937.0 344.2 L937.3 344.4 L937.6 344.3 L937.9 344.6 L938.2 344.7 L938.5 344.9 L938.8 345.0 L939.2 345.1 L939.5 345.3 L939.8 345.5 L940.1 345.7 L940.4 345.8 L940.7 345.8 L941.0 345.8 L941.4 345.9 L941.7 346.1 L942.0 346.4 L942.3 346.5 L942.6 346.3 L943.0 346.4 L943.3 346.7 L943.6 346.8 L943.9 347.0 L944.3 347.1 L944.6 347.2 L944.9 347.1 L945.2 347.3 L945.5 347.3 L945.9 347.4 L946.2 347.7 L946.5 347.6 L946.8 347.8 L947.2 347.7 L947.5 347.8 L947.8 347.9 L948.1 347.9 L948.5 348.0 L948.8 347.9 L949.1 348.0 L949.4 348.2 L949.8 348.1 L950.1 348.0 L950.4 348.1 L950.7 348.0 L951.1 348.1 L951.4 347.4 L951.7 347.9 L952.0 347.8 L952.4 347.4 L952.7 347.8 L953.0 347.6 L953.3 347.5 L953.6 347.6 L954.0 347.6 L954.3 347.9 L954.6 347.6 L954.9 347.4 L955.3 347.4 L955.6 347.3 L955.9 347.4 L956.2 347.6 L956.6 347.4 L956.9 347.5 L957.2 347.6 L957.5 347.7 L957.9 347.7 L958.2 347.9 L958.5 347.9 L958.8 347.9 L959.2 348.2 L959.5 348.4 L959.8 348.5 L960.1 348.5 L960.4 348.4 L960.8 348.4 L961.1 348.4 L961.4 348.5 L961.7 348.8 L962.1 349.0 L962.4 349.1 L962.7 349.2 L963.0 349.0 L963.4 349.1 L963.7 349.4 L964.0 349.4 L964.3 349.5 L964.7 349.6 L965.0 349.5 L965.3 349.7 L965.6 349.8 L966.0 350.0 L966.3 349.9 L966.6 350.0 L966.9 350.1 L967.3 350.0 L967.6 350.2 L967.9 350.6 L968.2 350.7 L968.5 350.6 L968.9 350.7 L969.2 350.8 L969.5 350.8 L969.8 350.6 L970.2 350.4 L970.5 350.4 L970.8 350.3 L971.1 350.0 L971.5 349.5 L971.8 349.8 L972.1 349.6 L972.4 349.6 L972.8 349.3 L973.1 349.1 L973.4 349.0 L973.7 348.7 L974.1 348.5 L974.4 348.5 L974.7 348.6 L975.0 348.1 L975.4 347.5 L975.7 347.4 L976.0 347.2 L976.3 347.2 L976.6 347.2 L977.0 347.3 L977.3 347.1 L977.6 346.9 L977.9 346.7 L978.3 346.6 L978.6 347.0 L978.9 346.5 L979.2 346.6 L979.6 346.4 L979.9 346.2 L980.2 345.9 L980.5 345.7 L980.9 345.8 L981.2 345.7 L981.5 345.8 L981.8 345.8 L982.2 345.6 L982.5 345.4 L982.8 345.3 L983.1 345.0 L983.4 345.1 L983.8 345.1 L984.1 345.0 L984.4 345.0 L984.7 345.1 L985.1 345.1 L985.4 345.0 L985.7 344.8 L986.0 345.0 L986.4 344.8 L986.7 344.6 L987.0 344.6 L987.3 344.7 L987.7 344.7 L988.0 344.7 L988.3 344.5 L988.6 344.6 L989.0 344.7 L989.3 344.6 L989.6 344.5 L989.9 344.6 L990.3 344.3 L990.6 344.4 L990.9 344.3 L991.2 344.2 L991.5 344.0 L991.9 344.3 L992.2 344.9 L992.5 344.4 L992.8 344.0 L993.2 344.1 L993.5 344.0 L993.8 344.2 L994.1 343.9 L994.5 344.0 L994.8 343.7 L995.1 343.8 L995.4 343.7 L995.8 343.7 L996.1 343.7 L996.4 343.8 L996.7 344.2 L997.0 343.7 L997.4 343.6 L997.7 343.5 L998.0 343.5 L998.3 343.3 L998.6 343.0 L998.9 342.8 L999.2 342.7 L999.6 342.8 L999.9 342.5 L1000.2 342.2 L1000.5 341.2 L1000.8 342.0 L1001.1 342.0 L1001.5 342.1 L1001.8 342.0 L1002.1 341.9 L1002.4 341.7 L1002.7 341.7 L1003.0 342.0 L1003.3 342.1 L1003.7 342.2 L1004.0 342.5 L1004.3 342.5 L1004.6 342.6 L1004.9 342.8 L1005.2 342.8 L1005.5 342.9 L1005.9 342.9 L1006.2 343.1 L1006.5 343.3 L1006.8 343.5 L1007.1 343.9 L1007.4 343.9 L1007.8 344.6 L1008.1 344.2 L1008.4 344.1 L1008.7 344.1 L1009.0 344.2 L1009.4 343.9 L1009.7 344.0 L1010.0 343.7 L1010.3 343.9 L1010.7 343.9 L1011.0 343.9 L1011.3 343.7 L1011.6 343.7 L1012.0 343.7 L1012.3 343.6 L1012.6 343.4 L1012.9 343.5 L1013.3 343.5 L1013.6 343.5 L1013.9 343.4 L1014.2 343.5 L1014.5 343.6 L1014.9 345.0 L1015.2 343.8 L1015.5 343.7 L1015.8 344.1 L1016.2 344.1 L1016.5 344.1 L1016.8 344.1 L1017.1 344.2 L1017.5 344.4 L1017.8 344.6 L1018.1 344.7 L1018.4 344.7 L1018.8 344.8 L1019.1 344.9 L1019.4 345.0 L1019.7 344.9 L1020.1 344.9 L1020.4 345.1 L1020.7 345.4 L1021.0 345.4 L1021.3 345.7 L1021.7 345.6 L1022.0 345.8 L1022.3 345.7 L1022.6 345.5 L1023.0 345.6 L1023.3 345.5 L1023.6 345.2 L1023.9 345.1 L1024.3 345.0 L1024.6 344.9 L1024.9 344.8 L1025.2 344.7 L1025.6 344.6 L1025.9 345.5 L1026.2 344.2 L1026.5 344.3 L1026.9 344.1 L1027.2 344.2 L1027.5 344.0 L1027.8 344.0 L1028.2 343.9 L1028.5 343.8 L1028.8 343.3 L1029.1 343.0 L1029.4 342.5 L1029.8 342.3 L1030.1 342.0 L1030.4 341.6 L1030.7 341.5 L1031.1 341.3 L1031.4 340.3 L1031.7 340.9 L1032.0 340.5 L1032.4 340.2 L1032.7 340.0 L1033.0 339.7 L1033.3 339.5 L1033.7 339.4 L1034.0 339.2 L1034.3 338.8 L1034.6 338.5 L1034.9 338.4 L1035.3 338.1 L1035.6 338.1 L1035.9 337.7 L1036.2 337.3 L1036.5 337.0 L1036.9 336.9 L1037.2 336.8 L1037.5 336.7 L1037.8 336.5 L1038.1 336.4 L1038.5 336.1 L1038.8 335.9 L1039.1 335.6 L1039.4 335.3 L1039.7 335.2 L1040.1 335.0 L1040.4 334.8 L1040.7 334.6 L1041.0 334.3 L1041.4 334.2 L1041.7 333.7 L1042.0 333.5 L1042.3 333.5 L1042.6 333.3 L1043.0 333.0 L1043.3 333.0 L1043.6 333.3 L1043.9 333.5 L1044.2 333.8 L1044.5 334.0 L1044.9 334.2 L1045.2 334.5 L1045.5 334.7 L1045.8 335.2 L1046.1 335.5 L1046.4 335.8 L1046.7 336.1 L1047.1 336.5 L1047.4 337.0 L1047.7 337.1 L1048.0 337.1 L1048.3 337.4 L1048.6 337.4 L1048.9 337.4 L1049.3 337.6 L1049.6 337.7 L1049.9 337.8 L1050.2 338.0 L1050.5 338.4 L1050.8 338.6 L1051.1 338.7 L1051.5 338.8 L1051.8 338.9 L1052.1 338.8 L1052.4 338.9 L1052.7 339.0 L1053.0 339.2 L1053.3 339.5 L1053.7 339.5 L1054.0 339.8 L1054.3 339.8 L1054.6 339.8 L1054.9 339.8 L1055.2 339.9 L1055.6 340.0 L1055.9 340.2 L1056.2 340.3 L1056.5 340.2 L1056.8 340.1 L1057.1 340.0 L1057.4 340.2 L1057.8 340.4 L1058.1 340.6 L1058.4 340.4 L1058.7 340.7 L1059.0 340.8 L1059.4 340.9 L1059.7 340.9 L1060.0 341.0 L1060.3 341.4 L1060.6 341.5 L1061.0 341.5 L1061.3 341.7 L1061.6 341.8 L1061.9 341.9 L1062.3 342.2 L1062.6 342.5 L1062.9 342.4 L1063.2 342.5 L1063.6 342.7 L1063.9 343.0 L1064.2 343.0 L1064.5 343.2 L1064.9 343.3 L1065.2 343.3 L1065.5 343.5 L1065.8 343.2 L1066.1 343.7 L1066.5 343.1 L1066.8 343.1 L1067.1 343.0 L1067.4 343.0 L1067.7 343.0 L1068.0 343.0 L1068.3 343.0 L1068.7 342.8 L1069.0 342.8 L1069.3 343.4 L1069.6 342.6 L1069.9 342.6 L1070.2 342.5 L1070.5 342.3 L1070.9 342.4 L1071.2 342.2 L1071.5 342.2 L1071.8 342.0 L1072.1 342.0 L1072.4 341.8 L1072.7 341.8 L1073.1 341.8 L1073.4 341.7 L1073.7 341.6 L1074.0 341.4 L1074.3 341.3 L1074.6 341.1 L1075.0 340.9 L1075.3 341.0 L1075.6 340.8 L1075.9 340.7 L1076.2 340.7 L1076.5 340.8 L1076.8 340.6 L1077.2 340.6 L1077.5 340.8 L1077.8 341.1 L1078.1 341.4 L1078.5 341.5 L1078.8 341.8 L1079.1 341.7 L1079.4 341.8 L1079.8 342.0 L1080.1 342.2 L1080.4 342.3 L1080.7 342.6 L1081.1 342.7 L1081.4 342.6 L1081.7 342.8 L1082.0 343.0 L1082.4 343.1 L1082.7 343.1 L1083.0 343.2 L1083.3 343.6 L1083.6 343.7 L1084.0 343.5 L1084.3 343.4 L1084.6 343.4 L1084.9 343.3 L1085.3 343.0 L1085.6 342.9 L1085.9 342.7 L1086.2 342.8 L1086.6 342.6 L1086.9 342.6 L1087.2 342.7 L1087.5 342.7 L1087.9 342.6 L1088.2 342.4 L1088.5 342.4 L1088.8 342.2 L1089.2 342.2 L1089.5 342.2 L1089.8 342.3 L1090.1 342.2 L1090.4 342.0 L1090.8 342.1 L1091.1 342.0 L1091.4 342.1 L1091.7 342.0 L1092.1 342.0 L1092.4 342.0 L1092.7 342.4 L1093.0 342.3 L1093.4 342.1 L1093.7 342.0 L1094.0 343.5 L1094.3 342.5 L1094.7 342.5 L1095.0 342.7 L1095.3 342.7 L1095.6 343.3 L1096.0 342.7 L1096.3 342.8 L1096.6 343.0 L1096.9 342.9 L1097.3 343.0 L1097.6 342.8 L1097.9 342.9 L1098.2 342.8 L1098.5 342.7 L1098.9 342.7 L1099.2 342.7 L1099.5 342.5 L1099.8 342.6 L1100.2 342.7 L1100.5 342.7 L1100.8 342.6 L1101.1 342.5 L1101.5 342.1 L1101.8 341.6 L1102.1 342.3 L1102.4 342.0 L1102.8 342.1 L1103.1 342.2 L1103.4 342.4 L1103.7 342.3 L1104.1 342.3 L1104.4 342.4 L1104.7 342.6 L1105.0 342.9 L1105.4 342.9 L1105.7 342.8 L1106.0 342.8 L1106.3 342.8 L1106.6 343.2 L1107.0 343.2 L1107.3 343.4 L1107.6 343.6 L1107.9 343.9 L1108.3 345.6 L1108.6 343.8 L1108.9 344.0 L1109.2 344.1 L1109.6 344.1 L1109.9 344.2 L1110.2 344.3 L1110.5 344.4 L1110.9 344.6 L1111.2 344.5 L1111.5 345.9 L1111.8 344.8 L1112.2 344.9 L1112.5 345.1 L1112.8 344.9 L1113.1 345.3 L1113.4 345.4 L1113.8 345.5 L1114.1 345.3 L1114.4 345.7 L1114.7 345.6 L1115.1 345.8 L1115.4 345.9 L1115.7 346.0 L1116.0 346.1 L1116.4 345.9 L1116.7 346.0 L1117.0 346.1 L1117.3 346.4 L1117.7 346.4 L1118.0 346.4 L1118.3 346.5 L1118.6 346.6 L1118.9 346.7 L1119.2 346.8 L1119.5 347.0 L1119.9 347.2 L1120.2 347.2 L1120.5 347.4 L1120.8 347.4 L1121.1 347.7 L1121.4 347.9 L1121.8 348.0 L1122.1 348.1 L1122.4 348.3 L1122.7 348.2 L1123.0 348.5 L1123.3 348.7 L1123.6 348.6 L1124.0 348.4 L1124.3 348.4 L1124.6 348.6 L1124.9 349.1 L1125.2 348.3 L1125.5 348.2 L1125.8 347.9 L1126.2 347.9 L1126.5 348.0 L1126.8 348.0 L1127.1 348.1 L1127.4 347.9 L1127.7 347.9 L1128.1 347.8 L1128.4 347.4 L1128.7 347.2 L1129.0 347.4 L1129.3 347.6 L1129.6 347.5 L1130.0 347.4 L1130.3 347.3 L1130.6 347.3 L1130.9 347.6 L1131.3 347.9 L1131.6 348.0 L1131.9 348.1 L1132.2 348.1 L1132.6 348.2 L1132.9 348.4 L1133.2 348.6 L1133.5 348.6 L1135.0 345.0 L1136.5 337.0 L1137.5 325.0 L1138.5 313.0 L1139.5 300.0 L1140.3 285.0 L1141.0 276.0 L1141.5 284.0 L1142.0 292.0 L1143.5 293.5 L1144.5 298.0 L1144.8 305.0 M1145.5 313.5 L1147.2 309.5" stroke="#4572a7"/>
<path d="M80.3 361.0 L80.6 360.6 L80.9 362.1 L81.2 361.8 L81.5 362.1 L81.8 361.8 L82.1 362.3 L82.5 365.4 L82.8 362.2 L83.1 360.5 L83.4 360.4 L83.7 360.9 L84.0 361.2 L84.3 361.7 L84.6 361.2 L85.0 361.3 L85.3 360.8 L85.6 361.1 L85.9 362.0 L86.2 361.8 L86.5 360.6 L86.8 362.0 L87.1 359.6 L87.5 361.0 L87.8 362.3 L88.1 361.0 L88.4 361.0 L88.7 360.8 L89.0 362.0 L89.3 361.4 L89.7 360.8 L90.0 361.9 L90.3 360.8 L90.6 361.5 L90.9 362.0 L91.2 363.1 L91.5 361.4 L91.9 360.9 L92.2 359.6 L92.5 360.9 L92.8 360.5 L93.1 360.9 L93.4 359.9 L93.7 360.1 L94.1 360.4 L94.4 361.3 L94.7 360.5 L95.0 359.1 L95.3 361.6 L95.6 361.0 L96.0 360.4 L96.3 359.8 L96.6 359.6 L96.9 362.9 L97.2 358.9 L97.5 359.0 L97.8 361.5 L98.2 360.0 L98.5 359.4 L98.8 359.6 L99.1 359.9 L99.4 360.3 L99.7 360.6 L100.0 360.7 L100.4 359.4 L100.7 359.2 L101.0 359.1 L101.3 358.0 L101.6 359.8 L102.0 358.9 L102.3 358.7 L102.6 359.4 L102.9 360.2 L103.3 359.2 L103.6 356.9 L103.9 359.5 L104.2 359.8 L104.6 359.8 L104.9 359.7 L105.2 358.8 L105.5 358.5 L105.9 359.8 L106.2 360.4 L106.5 360.2 L106.8 359.3 L107.2 358.5 L107.5 359.4 L107.8 359.4 L108.1 359.2 L108.4 359.6 L108.7 359.8 L109.1 360.2 L109.4 360.6 L109.7 357.8 L110.0 360.5 L110.3 359.0 L110.6 360.2 L110.9 360.6 L111.3 358.0 L111.6 361.4 L111.9 360.5 L112.2 360.3 L112.5 361.0 L112.8 361.1 L113.1 361.4 L113.5 362.2 L113.8 363.3 L114.1 361.5 L114.4 361.9 L114.7 361.0 L115.1 361.2 L115.4 361.7 L115.7 361.7 L116.0 360.9 L116.3 362.4 L116.7 361.3 L117.0 361.7 L117.3 360.6 L117.6 361.3 L117.9 360.7 L118.2 360.5 L118.6 361.0 L118.9 361.5 L119.2 360.8 L119.5 362.1 L119.8 360.8 L120.2 359.6 L120.5 361.2 L120.8 361.5 L121.1 361.1 L121.4 361.2 L121.8 359.7 L122.1 359.9 L122.4 360.5 L122.7 360.6 L123.0 360.4 L123.4 360.9 L123.7 360.5 L124.0 359.9 L124.4 359.6 L124.7 357.8 L125.0 357.6 L125.4 357.7 L125.7 355.9 L126.1 356.3 L126.4 353.0 L126.7 354.8 L127.1 354.6 L127.4 354.1 L127.8 352.6 L128.2 352.0 L128.5 351.5 L128.9 349.4 L129.2 349.7 L129.6 349.3 L129.9 349.1 L130.2 349.8 L130.6 348.9 L130.9 348.7 L131.2 347.9 L131.6 349.2 L131.9 348.5 L132.2 349.3 L132.6 349.8 L132.9 348.1 L133.2 349.2 L133.6 348.8 L133.9 347.1 L134.2 349.3 L134.6 348.5 L134.9 348.3 L135.2 348.8 L135.6 350.4 L135.9 349.9 L136.2 349.9 L136.6 350.5 L136.9 351.7 L137.2 351.3 L137.6 350.4 L137.9 350.4 L138.2 349.5 L138.6 351.2 L138.9 350.5 L139.2 350.8 L139.6 351.3 L139.9 350.7 L140.2 351.4 L140.6 351.5 L140.9 351.1 L141.3 351.6 L141.6 351.4 L141.9 351.9 L142.3 351.3 L142.6 352.6 L143.0 352.5 L143.3 353.2 L143.6 352.3 L144.0 352.6 L144.3 352.1 L144.6 350.6 L145.0 351.0 L145.3 351.6 L145.6 350.9 L146.0 350.5 L146.3 351.1 L146.6 351.9 L147.0 351.1 L147.3 350.0 L147.6 350.4 L147.9 349.8 L148.3 348.2 L148.6 347.5 L148.9 348.3 L149.3 348.4 L149.6 347.9 L149.9 347.9 L150.2 346.7 L150.6 348.4 L150.9 344.3 L151.2 347.1 L151.6 346.6 L151.9 345.8 L152.2 346.1 L152.6 345.7 L152.9 345.3 L153.2 346.6 L153.6 346.0 L153.9 343.9 L154.2 345.7 L154.6 345.7 L154.9 344.7 L155.2 342.0 L155.6 345.6 L155.9 345.6 L156.2 345.7 L156.6 345.3 L156.9 345.3 L157.2 346.7 L157.6 346.2 L157.9 347.4 L158.2 347.7 L158.6 347.1 L158.9 346.5 L159.3 346.1 L159.6 346.5 L159.9 345.8 L160.3 344.9 L160.6 344.4 L161.0 343.5 L161.3 342.4 L161.6 343.2 L162.0 343.0 L162.3 343.3 L162.7 342.6 L163.0 341.7 L163.3 342.0 L163.7 341.0 L164.0 341.8 L164.4 341.1 L164.7 340.9 L165.0 340.7 L165.4 340.9 L165.7 340.1 L166.0 339.4 L166.4 337.8 L166.7 339.4 L167.1 338.9 L167.4 340.1 L167.7 337.8 L168.1 338.3 L168.4 340.1 L168.8 338.6 L169.1 338.7 L169.4 338.6 L169.8 339.8 L170.1 340.0 L170.5 337.9 L170.8 339.9 L171.1 338.5 L171.5 338.2 L171.8 338.5 L172.2 336.5 L172.5 336.8 L172.8 336.6 L173.2 335.7 L173.5 334.8 L173.9 334.0 L174.2 334.1 L174.5 333.9 L174.9 334.9 L175.2 333.7 L175.6 333.1 L175.9 332.9 L176.2 332.5 L176.6 332.8 L176.9 335.4 L177.3 334.0 L177.6 332.9 L178.0 333.8 L178.3 333.7 L178.7 335.1 L179.0 334.8 L179.3 334.4 L179.6 334.1 L180.0 334.5 L180.3 335.1 L180.6 333.3 L181.0 334.5 L181.3 334.7 L181.6 332.9 L181.9 334.2 L182.3 336.0 L182.6 335.0 L183.0 335.6 L183.3 337.4 L183.6 337.0 L184.0 337.8 L184.3 337.5 L184.7 336.5 L185.0 337.4 L185.3 338.5 L185.7 340.2 L186.0 339.4 L186.3 339.7 L186.7 339.3 L187.0 339.7 L187.3 339.2 L187.6 340.2 L188.0 339.8 L188.3 338.4 L188.6 339.7 L189.0 338.7 L189.3 339.8 L189.6 338.8 L189.9 339.8 L190.3 340.3 L190.6 340.8 L190.9 341.8 L191.3 340.8 L191.6 340.1 L191.9 339.7 L192.2 340.7 L192.6 341.6 L192.9 342.2 L193.2 341.5 L193.6 341.4 L193.9 342.4 L194.2 341.2 L194.6 342.0 L194.9 342.0 L195.2 342.5 L195.6 341.4 L195.9 341.9 L196.2 344.0 L196.6 343.2 L196.9 343.5 L197.2 341.9 L197.6 344.0 L197.9 343.1 L198.2 342.2 L198.5 343.2 L198.9 344.3 L199.2 343.2 L199.5 342.4 L199.8 342.1 L200.2 342.1 L200.5 342.9 L200.8 341.4 L201.1 342.0 L201.5 341.3 L201.8 339.9 L202.1 340.7 L202.4 341.0 L202.8 341.8 L203.1 340.2 L203.4 338.4 L203.8 341.2 L204.1 339.1 L204.4 340.9 L204.7 340.1 L205.1 339.6 L205.4 339.6 L205.7 338.0 L206.0 340.3 L206.4 340.8 L206.7 339.9 L207.0 339.5 L207.3 339.4 L207.7 339.8 L208.0 339.1 L208.3 338.7 L208.6 340.2 L209.0 339.8 L209.3 339.9 L209.6 339.8 L209.9 340.5 L210.3 339.6 L210.6 340.3 L210.9 340.3 L211.2 339.7 L211.5 339.3 L211.9 339.8 L212.2 339.6 L212.5 340.7 L212.8 340.4 L213.2 338.4 L213.5 338.8 L213.9 337.5 L214.2 338.5 L214.5 336.3 L214.9 335.7 L215.2 334.8 L215.6 334.9 L215.9 334.3 L216.2 334.7 L216.6 334.3 L216.9 333.2 L217.3 333.3 L217.6 331.6 L218.0 332.8 L218.3 329.6 L218.7 329.6 L219.0 330.1 L219.4 330.2 L219.7 329.0 L220.1 328.4 L220.4 326.7 L220.8 327.0 L221.1 324.8 L221.5 325.9 L221.8 325.3 L222.1 324.6 L222.5 324.9 L222.8 323.7 L223.1 322.0 L223.5 323.9 L223.8 323.5 L224.1 322.8 L224.5 322.3 L224.8 323.2 L225.1 322.8 L225.4 321.5 L225.8 322.9 L226.1 322.1 L226.4 322.5 L226.7 322.6 L227.1 323.4 L227.4 322.8 L227.7 323.6 L228.0 323.3 L228.4 322.6 L228.7 321.2 L229.0 320.9 L229.3 321.2 L229.7 322.4 L230.0 321.7 L230.3 322.2 L230.6 321.4 L231.0 322.1 L231.3 320.6 L231.6 321.8 L232.0 321.4 L232.3 320.0 L232.6 321.4 L232.9 320.6 L233.3 321.4 L233.6 320.0 L233.9 321.9 L234.2 320.3 L234.5 320.4 L234.9 319.8 L235.2 317.9 L235.5 320.5 L235.8 320.0 L236.1 319.3 L236.4 318.9 L236.7 318.2 L237.0 317.1 L237.4 318.9 L237.8 320.3 L238.1 320.6 L238.5 322.0 L238.8 321.0 L239.2 321.4 L239.5 322.7 L239.8 322.2 L240.2 321.5 L240.5 322.7 L240.8 322.1 L241.1 322.4 L241.5 322.9 L241.8 321.4 L242.1 321.5 L242.5 321.1 L242.8 321.7 L243.1 322.0 L243.5 323.1 L243.8 322.2 L244.1 323.3 L244.5 321.5 L244.8 321.9 L245.1 322.7 L245.5 323.3 L245.8 324.3 L246.1 324.5 L246.5 324.4 L246.8 325.5 L247.1 324.9 L247.5 325.2 L247.8 325.4 L248.2 326.3 L248.5 326.7 L248.8 325.5 L249.2 327.8 L249.5 328.4 L249.9 328.6 L250.2 325.2 L250.5 326.0 L250.9 326.7 L251.2 327.1 L251.6 327.0 L251.9 325.9 L252.2 325.7 L252.6 324.7 L252.9 324.5 L253.3 325.3 L253.6 325.2 L253.9 324.1 L254.3 322.7 L254.6 323.9 L254.9 323.6 L255.3 323.5 L255.6 323.6 L256.0 320.6 L256.4 320.6 L256.7 319.0 L257.1 317.7 L257.5 315.9 L257.8 315.4 L258.2 316.4 L258.6 317.1 L258.9 317.2 L259.3 318.6 L259.6 319.5 L260.0 319.3 L260.3 318.3 L260.7 320.1 L261.0 322.6 L261.3 320.0 L261.7 322.1 L262.0 321.3 L262.4 322.9 L262.7 322.1 L263.0 321.8 L263.4 322.0 L263.7 324.3 L264.0 325.9 L264.4 325.0 L264.7 325.1 L265.0 326.0 L265.4 325.5 L265.7 326.3 L266.0 325.0 L266.3 326.1 L266.7 327.5 L267.0 327.5 L267.3 326.6 L267.6 327.3 L268.0 327.1 L268.3 327.5 L268.6 328.6 L269.0 328.8 L269.3 327.9 L269.6 328.6 L269.9 326.5 L270.3 327.6 L270.6 330.3 L270.9 328.6 L271.3 329.6 L271.6 328.3 L272.0 329.3 L272.3 335.2 L272.7 332.0 L273.0 334.1 L273.4 334.1 L273.7 333.1 L274.0 333.5 L274.3 334.8 L274.7 335.6 L275.0 339.2 L275.3 335.8 L275.7 336.0 L276.0 337.0 L276.3 336.9 L276.7 338.1 L277.0 339.1 L277.3 338.0 L277.7 339.6 L278.0 339.2 L278.3 339.0 L278.7 336.8 L279.0 336.8 L279.3 338.0 L279.6 335.9 L280.0 334.3 L280.3 335.4 L280.6 336.8 L280.9 337.0 L281.3 338.2 L281.6 335.5 L281.9 335.8 L282.3 335.9 L282.6 335.7 L282.9 336.8 L283.2 337.3 L283.5 336.0 L283.9 337.6 L284.2 338.3 L284.5 337.9 L284.8 336.7 L285.2 337.7 L285.5 338.8 L285.8 339.6 L286.1 339.6 L286.5 337.5 L286.8 340.2 L287.1 340.5 L287.4 342.3 L287.8 342.3 L288.1 341.7 L288.4 342.5 L288.7 343.7 L289.1 343.1 L289.4 343.1 L289.7 342.1 L290.0 340.7 L290.4 341.7 L290.7 342.1 L291.0 340.7 L291.3 341.1 L291.6 339.6 L292.0 340.1 L292.3 339.6 L292.6 339.8 L292.9 340.2 L293.3 340.7 L293.6 339.3 L293.9 340.0 L294.2 339.5 L294.6 342.2 L294.9 339.5 L295.2 338.0 L295.5 339.7 L295.8 339.1 L296.1 339.1 L296.5 339.5 L296.8 339.6 L297.1 341.2 L297.4 340.3 L297.7 338.6 L298.0 339.1 L298.3 338.3 L298.7 339.4 L299.0 339.3 L299.3 338.8 L299.6 338.4 L299.9 338.7 L300.2 338.8 L300.5 339.7 L300.8 339.6 L301.2 338.8 L301.5 339.8 L301.8 339.1 L302.1 338.8 L302.4 339.3 L302.7 340.1 L303.0 338.9 L303.3 338.1 L303.7 338.9 L304.0 337.4 L304.3 342.1 L304.6 338.7 L304.9 339.1 L305.2 338.6 L305.5 339.2 L305.8 339.1 L306.2 339.1 L306.5 338.5 L306.8 339.5 L307.1 338.6 L307.4 339.1 L307.7 338.0 L308.0 338.0 L308.3 339.0 L308.7 337.6 L309.0 339.5 L309.3 338.6 L309.6 339.1 L309.9 338.5 L310.2 338.7 L310.5 338.2 L310.8 339.1 L311.2 338.9 L311.5 337.8 L311.8 340.3 L312.1 334.0 L312.4 337.5 L312.7 339.6 L313.0 343.4 L313.4 338.3 L313.7 338.9 L314.0 333.2 L314.3 339.3 L314.6 338.7 L314.9 339.4 L315.2 339.4 L315.5 340.6 L315.9 339.7 L316.2 339.7 L316.5 341.2 L316.8 339.6 L317.1 340.4 L317.4 341.8 L317.7 339.8 L318.0 341.1 L318.4 342.0 L318.7 343.4 L319.0 344.4 L319.3 344.3 L319.6 343.0 L319.9 343.3 L320.2 343.5 L320.5 343.6 L320.9 343.8 L321.2 342.7 L321.5 343.7 L321.8 344.2 L322.1 344.7 L322.4 344.7 L322.7 344.1 L323.1 344.3 L323.4 344.5 L323.7 344.5 L324.0 346.3 L324.4 343.9 L324.7 343.8 L325.0 343.7 L325.3 343.3 L325.7 343.3 L326.0 342.3 L326.3 341.2 L326.6 342.4 L327.0 342.4 L327.3 342.1 L327.6 342.9 L327.9 342.1 L328.3 340.9 L328.6 341.8 L328.9 341.9 L329.2 341.9 L329.5 341.6 L329.9 341.1 L330.2 341.8 L330.5 342.4 L330.8 341.0 L331.2 341.4 L331.5 341.6 L331.8 342.0 L332.1 341.9 L332.5 342.0 L332.8 342.8 L333.1 340.0 L333.4 342.6 L333.8 343.0 L334.1 342.8 L334.4 343.6 L334.7 342.3 L335.1 343.5 L335.4 343.1 L335.7 341.5 L336.0 343.0 L336.3 343.1 L336.7 344.4 L337.0 343.3 L337.3 344.1 L337.6 343.8 L337.9 343.7 L338.3 343.2 L338.6 343.9 L338.9 344.0 L339.2 343.2 L339.5 344.3 L339.9 344.2 L340.2 344.8 L340.5 343.6 L340.8 343.2 L341.1 343.3 L341.4 344.0 L341.8 344.4 L342.1 344.0 L342.4 346.1 L342.7 344.6 L343.0 344.4 L343.4 344.2 L343.7 344.6 L344.0 344.4 L344.3 344.3 L344.6 345.3 L345.0 345.4 L345.3 344.6 L345.6 345.3 L345.9 346.0 L346.2 345.1 L346.5 344.9 L346.9 344.4 L347.2 344.5 L347.5 343.4 L347.8 344.9 L348.1 343.9 L348.5 345.6 L348.8 343.8 L349.1 343.8 L349.4 343.0 L349.7 343.7 L350.0 343.7 L350.4 343.1 L350.7 343.0 L351.0 343.7 L351.3 342.7 L351.6 342.2 L351.9 345.3 L352.3 342.8 L352.6 343.0 L352.9 342.2 L353.2 341.7 L353.5 341.5 L353.9 341.9 L354.2 340.6 L354.5 340.9 L354.8 340.2 L355.1 341.9 L355.4 340.9 L355.7 340.5 L356.0 340.4 L356.4 340.8 L356.7 341.2 L357.0 340.8 L357.3 340.5 L357.6 340.6 L357.9 340.2 L358.2 340.1 L358.5 341.1 L358.9 340.5 L359.2 340.3 L359.5 340.6 L359.8 340.6 L360.1 340.6 L360.4 340.0 L360.7 340.0 L361.0 339.7 L361.4 339.9 L361.7 339.7 L362.0 340.1 L362.3 339.7 L362.6 340.2 L362.9 339.7 L363.2 339.7 L363.6 338.8 L363.9 338.6 L364.2 338.4 L364.5 339.4 L364.8 339.4 L365.1 337.5 L365.4 338.8 L365.8 339.2 L366.1 339.0 L366.4 339.1 L366.7 339.0 L367.0 339.8 L367.3 339.4 L367.6 338.2 L368.0 338.0 L368.3 337.9 L368.6 337.5 L368.9 336.9 L369.2 338.2 L369.5 338.1 L369.9 338.3 L370.2 338.4 L370.5 336.4 L370.8 338.1 L371.1 338.6 L371.4 337.9 L371.7 338.1 L372.1 336.2 L372.4 337.3 L372.7 336.7 L373.0 337.7 L373.3 338.1 L373.6 336.8 L373.9 337.6 L374.3 338.0 L374.6 337.4 L374.9 336.2 L375.2 337.1 L375.5 335.1 L375.8 335.3 L376.2 335.1 L376.5 334.7 L376.8 335.3 L377.1 334.3 L377.4 334.9 L377.7 337.2 L378.0 333.7 L378.4 334.8 L378.7 332.7 L379.0 333.8 L379.3 333.5 L379.6 334.1 L379.9 333.0 L380.2 332.1 L380.6 331.8 L380.9 332.1 L381.2 332.4 L381.5 333.2 L381.9 331.4 L382.2 332.0 L382.5 331.6 L382.8 331.6 L383.2 330.0 L383.5 330.9 L383.8 330.6 L384.1 330.1 L384.5 330.5 L384.8 330.5 L385.1 331.1 L385.4 330.7 L385.8 332.2 L386.1 330.4 L386.4 330.6 L386.7 330.8 L387.0 330.1 L387.4 330.7 L387.7 329.8 L388.0 329.9 L388.3 331.3 L388.7 331.0 L389.0 331.8 L389.3 331.2 L389.6 331.6 L390.0 331.5 L390.3 331.6 L390.6 331.8 L390.9 331.5 L391.3 331.7 L391.6 331.3 L391.9 331.7 L392.2 332.0 L392.5 332.8 L392.8 333.7 L393.2 333.7 L393.5 334.5 L393.8 335.3 L394.1 335.9 L394.4 335.8 L394.7 336.8 L395.0 337.3 L395.4 337.8 L395.7 338.4 L396.0 337.6 L396.3 338.0 L396.6 338.6 L396.9 339.1 L397.3 340.6 L397.6 340.4 L397.9 341.0 L398.2 340.8 L398.5 341.1 L398.9 341.2 L399.2 342.2 L399.5 341.2 L399.8 341.7 L400.2 341.8 L400.5 342.0 L400.8 342.3 L401.1 341.6 L401.5 340.8 L401.8 340.9 L402.1 340.7 L402.4 340.3 L402.8 340.6 L403.1 341.6 L403.4 341.3 L403.7 342.3 L404.1 341.3 L404.4 341.6 L404.7 341.4 L405.0 341.8 L405.3 341.8 L405.6 341.1 L405.9 341.3 L406.3 341.1 L406.6 343.0 L406.9 342.1 L407.2 341.5 L407.5 341.7 L407.8 341.4 L408.1 342.0 L408.5 342.6 L408.8 342.8 L409.1 342.4 L409.4 341.9 L409.7 342.0 L410.0 341.9 L410.4 342.1 L410.7 342.2 L411.0 341.8 L411.3 341.6 L411.6 340.8 L411.9 340.3 L412.2 341.9 L412.6 340.6 L412.9 340.3 L413.2 340.2 L413.5 338.9 L413.8 341.2 L414.1 339.5 L414.4 339.9 L414.8 340.6 L415.1 339.6 L415.4 339.5 L415.7 340.1 L416.0 341.5 L416.4 338.7 L416.7 338.7 L417.0 340.4 L417.3 340.4 L417.7 340.3 L418.0 340.3 L418.3 340.4 L418.6 341.8 L419.0 339.9 L419.3 339.9 L419.6 340.8 L419.9 340.3 L420.3 339.6 L420.6 340.8 L420.9 341.0 L421.2 340.5 L421.5 340.3 L421.9 340.4 L422.2 341.7 L422.5 337.7 L422.8 340.4 L423.2 338.2 L423.5 339.4 L423.8 339.9 L424.1 339.7 L424.5 340.5 L424.8 340.1 L425.1 339.4 L425.4 339.3 L425.8 339.8 L426.1 340.2 L426.4 338.0 L426.7 338.4 L427.1 338.4 L427.4 338.8 L427.7 338.8 L428.0 338.1 L428.3 338.2 L428.7 337.1 L429.0 337.5 L429.3 336.9 L429.6 337.9 L430.0 337.7 L430.3 336.8 L430.6 336.6 L430.9 336.9 L431.3 336.9 L431.6 337.0 L431.9 336.2 L432.2 337.2 L432.6 335.6 L432.9 336.8 L433.2 336.7 L433.5 335.6 L433.9 335.2 L434.2 335.3 L434.5 336.3 L434.8 334.8 L435.2 335.5 L435.5 334.9 L435.8 333.7 L436.1 333.9 L436.4 334.0 L436.7 334.4 L437.1 334.0 L437.4 333.8 L437.7 333.8 L438.0 334.1 L438.3 335.2 L438.6 334.1 L438.9 333.1 L439.3 333.6 L439.6 334.7 L439.9 334.6 L440.2 334.2 L440.5 333.7 L440.8 333.8 L441.2 333.7 L441.5 334.1 L441.8 333.5 L442.1 333.6 L442.4 333.9 L442.7 333.9 L443.0 334.3 L443.4 334.4 L443.7 334.8 L444.0 335.5 L444.3 335.5 L444.6 335.2 L444.9 335.2 L445.2 336.0 L445.6 334.8 L445.9 335.6 L446.2 336.7 L446.5 336.5 L446.8 335.5 L447.1 336.9 L447.5 336.7 L447.8 336.4 L448.1 336.6 L448.4 336.8 L448.8 335.1 L449.1 333.5 L449.4 334.1 L449.7 333.1 L450.1 332.3 L450.4 333.3 L450.7 331.9 L451.0 332.3 L451.3 332.0 L451.7 331.3 L452.0 331.2 L452.3 330.4 L452.6 330.7 L453.0 330.4 L453.3 330.4 L453.6 331.3 L453.9 331.3 L454.3 330.6 L454.6 332.1 L454.9 331.7 L455.2 330.1 L455.6 330.9 L455.9 331.8 L456.2 331.7 L456.5 330.5 L456.9 330.4 L457.2 331.2 L457.5 333.0 L457.8 331.9 L458.2 331.3 L458.5 331.3 L458.8 332.3 L459.1 332.0 L459.4 332.6 L459.7 332.8 L460.0 333.3 L460.3 333.3 L460.7 333.2 L461.0 333.7 L461.3 333.9 L461.6 333.5 L461.9 333.4 L462.2 333.5 L462.5 335.2 L462.8 334.7 L463.2 335.4 L463.5 336.4 L463.8 336.8 L464.1 337.1 L464.4 337.0 L464.7 337.1 L465.0 338.2 L465.4 338.4 L465.7 338.6 L466.0 340.1 L466.3 340.6 L466.6 340.8 L466.9 342.4 L467.2 339.4 L467.6 340.3 L467.9 339.4 L468.2 340.9 L468.5 340.2 L468.8 340.6 L469.1 338.9 L469.4 338.8 L469.7 338.7 L470.0 338.2 L470.4 337.3 L470.7 336.5 L471.0 336.2 L471.3 336.3 L471.6 336.3 L471.9 337.1 L472.2 336.9 L472.6 336.4 L472.9 336.4 L473.2 335.9 L473.5 336.0 L473.8 335.3 L474.1 335.4 L474.4 335.7 L474.8 335.9 L475.1 335.8 L475.4 335.1 L475.7 336.0 L476.0 335.7 L476.3 334.7 L476.6 334.9 L477.0 335.0 L477.3 335.0 L477.6 334.5 L477.9 335.7 L478.2 337.2 L478.5 335.9 L478.8 335.3 L479.2 336.0 L479.5 336.3 L479.8 336.1 L480.1 336.8 L480.4 337.1 L480.7 334.7 L481.1 336.0 L481.4 336.5 L481.7 337.3 L482.0 338.0 L482.3 337.4 L482.6 338.7 L482.9 337.3 L483.3 336.8 L483.6 338.1 L483.9 335.8 L484.2 337.1 L484.6 336.8 L484.9 338.0 L485.2 337.3 L485.5 337.6 L485.9 336.8 L486.2 336.2 L486.5 337.6 L486.8 337.3 L487.2 336.3 L487.5 336.3 L487.8 337.2 L488.1 335.8 L488.5 336.5 L488.8 336.2 L489.1 336.4 L489.4 338.9 L489.7 337.4 L490.1 336.6 L490.4 337.3 L490.7 340.3 L491.0 338.1 L491.4 337.9 L491.7 336.7 L492.0 336.7 L492.3 336.2 L492.7 337.4 L493.0 338.4 L493.3 338.1 L493.6 337.7 L494.0 337.7 L494.3 337.8 L494.6 336.9 L494.9 337.7 L495.3 339.1 L495.6 338.8 L495.9 337.8 L496.2 337.9 L496.5 338.1 L496.9 338.1 L497.2 337.0 L497.5 337.0 L497.8 337.0 L498.2 335.9 L498.5 336.6 L498.8 339.4 L499.1 337.5 L499.5 336.5 L499.8 337.5 L500.1 337.1 L500.4 337.2 L500.8 337.1 L501.1 336.0 L501.4 335.9 L501.7 335.9 L502.1 336.0 L502.4 335.1 L502.7 336.5 L503.0 336.3 L503.4 336.0 L503.7 336.3 L504.0 336.0 L504.3 337.2 L504.6 335.8 L505.0 335.9 L505.3 335.5 L505.6 335.6 L505.9 335.9 L506.3 335.6 L506.6 336.2 L506.9 336.1 L507.2 335.0 L507.6 334.6 L507.9 336.2 L508.2 335.8 L508.5 336.1 L508.9 334.3 L509.2 334.7 L509.5 333.2 L509.8 334.7 L510.2 334.2 L510.5 334.5 L510.8 335.4 L511.1 335.6 L511.4 334.0 L511.8 333.5 L512.1 333.1 L512.4 333.9 L512.7 334.3 L513.1 333.5 L513.4 334.6 L513.7 335.0 L514.0 334.5 L514.4 333.8 L514.7 334.3 L515.0 334.4 L515.3 333.8 L515.7 334.1 L516.0 333.1 L516.3 333.7 L516.6 333.1 L517.0 335.1 L517.3 334.0 L517.6 334.4 L517.9 334.0 L518.3 331.6 L518.6 333.7 L518.9 335.0 L519.2 335.4 L519.5 335.9 L519.9 335.8 L520.2 336.2 L520.5 335.9 L520.8 336.0 L521.2 336.0 L521.5 336.3 L521.8 336.1 L522.1 334.4 L522.5 336.2 L522.8 336.3 L523.1 336.7 L523.4 337.1 L523.8 336.4 L524.1 337.2 L524.4 338.0 L524.7 337.0 L525.1 336.9 L525.4 337.5 L525.7 336.7 L526.0 337.6 L526.4 337.7 L526.7 338.1 L527.0 337.9 L527.3 338.0 L527.6 338.0 L528.0 338.5 L528.3 339.1 L528.6 339.0 L528.9 338.3 L529.3 338.2 L529.6 338.6 L529.9 338.9 L530.2 336.9 L530.6 338.6 L530.9 339.0 L531.2 339.2 L531.5 339.5 L531.8 339.1 L532.1 339.1 L532.5 340.0 L532.8 340.7 L533.1 339.4 L533.4 338.8 L533.7 339.0 L534.1 338.6 L534.4 340.0 L534.7 339.8 L535.0 340.1 L535.3 340.4 L535.6 339.8 L536.0 340.3 L536.3 340.5 L536.6 339.9 L536.9 340.3 L537.2 340.4 L537.5 340.3 L537.9 340.2 L538.2 340.3 L538.5 340.4 L538.8 341.3 L539.1 340.1 L539.5 340.8 L539.8 340.6 L540.1 340.8 L540.4 340.8 L540.7 340.1 L541.0 340.3 L541.4 340.6 L541.7 340.4 L542.0 340.0 L542.3 340.3 L542.6 342.9 L542.9 339.8 L543.3 340.6 L543.6 339.9 L543.9 340.6 L544.2 340.2 L544.5 339.8 L544.8 338.8 L545.2 339.0 L545.5 339.2 L545.8 339.8 L546.1 339.3 L546.4 339.4 L546.8 340.1 L547.1 339.1 L547.4 338.8 L547.7 338.3 L548.1 338.4 L548.4 337.5 L548.7 338.6 L549.0 338.9 L549.4 338.4 L549.7 338.7 L550.0 337.9 L550.3 337.2 L550.6 337.1 L551.0 337.2 L551.3 337.3 L551.6 336.9 L551.9 336.9 L552.3 336.8 L552.6 336.2 L552.9 336.5 L553.2 336.3 L553.6 336.1 L553.9 335.9 L554.2 335.6 L554.5 335.5 L554.9 335.7 L555.2 336.2 L555.5 336.0 L555.8 335.6 L556.2 334.8 L556.5 336.2 L556.8 336.8 L557.1 335.8 L557.4 335.8 L557.8 334.8 L558.1 336.1 L558.4 335.3 L558.7 335.8 L559.1 335.9 L559.4 336.2 L559.7 335.7 L560.0 335.9 L560.4 335.4 L560.7 335.5 L561.0 336.3 L561.3 335.0 L561.7 335.5 L562.0 336.8 L562.3 334.9 L562.6 335.0 L563.0 335.5 L563.3 336.7 L563.6 336.2 L563.9 335.7 L564.3 336.1 L564.6 336.2 L564.9 335.7 L565.2 336.3 L565.5 336.8 L565.9 336.8 L566.2 337.0 L566.5 336.8 L566.8 336.2 L567.2 336.1 L567.5 336.0 L567.8 336.6 L568.1 336.7 L568.4 336.6 L568.7 335.8 L569.0 338.0 L569.3 336.3 L569.7 336.3 L570.0 336.5 L570.3 335.7 L570.6 335.9 L570.9 335.9 L571.2 335.8 L571.5 336.1 L571.8 335.8 L572.2 335.4 L572.5 335.3 L572.8 335.3 L573.1 335.3 L573.4 335.3 L573.7 335.3 L574.0 335.4 L574.3 335.6 L574.7 335.0 L575.0 335.3 L575.3 335.3 L575.6 335.8 L575.9 335.0 L576.2 335.8 L576.5 335.3 L576.9 335.7 L577.2 334.9 L577.5 335.5 L577.8 334.0 L578.1 334.8 L578.4 335.6 L578.7 335.2 L579.0 335.5 L579.4 335.6 L579.7 335.5 L580.0 335.1 L580.3 335.4 L580.6 335.4 L580.9 335.8 L581.2 335.8 L581.5 334.7 L581.9 334.9 L582.2 335.1 L582.5 335.2 L582.8 335.4 L583.1 334.5 L583.4 334.7 L583.7 335.3 L584.0 335.9 L584.4 335.7 L584.7 335.4 L585.0 334.4 L585.3 335.1 L585.6 334.9 L585.9 334.8 L586.2 335.8 L586.5 335.5 L586.9 335.5 L587.2 334.5 L587.5 335.3 L587.8 335.1 L588.1 335.1 L588.4 333.7 L588.7 335.5 L589.1 334.5 L589.4 334.9 L589.7 336.2 L590.0 335.4 L590.3 335.8 L590.6 336.4 L590.9 335.6 L591.2 336.2 L591.6 336.2 L591.9 336.3 L592.2 335.4 L592.5 335.8 L592.8 336.4 L593.1 335.6 L593.4 335.4 L593.7 336.0 L594.1 336.0 L594.4 335.9 L594.7 335.7 L595.0 335.5 L595.4 336.5 L595.7 335.1 L596.0 335.6 L596.3 335.1 L596.6 335.0 L597.0 332.0 L597.3 335.6 L597.6 333.9 L597.9 333.8 L598.3 332.9 L598.6 332.2 L598.9 333.6 L599.2 334.3 L599.6 334.6 L599.9 337.5 L600.2 335.3 L600.5 334.7 L600.9 335.7 L601.2 335.9 L601.5 336.8 L601.8 338.7 L602.2 337.9 L602.5 338.9 L602.8 339.4 L603.1 338.7 L603.4 339.8 L603.8 339.1 L604.1 339.5 L604.4 339.4 L604.7 338.7 L605.1 338.6 L605.4 338.6 L605.7 339.0 L606.0 339.4 L606.4 338.8 L606.7 338.6 L607.0 338.1 L607.3 337.8 L607.7 339.2 L608.0 338.4 L608.3 338.5 L608.6 338.0 L609.0 337.7 L609.3 338.3 L609.6 337.5 L609.9 338.0 L610.3 337.7 L610.6 338.3 L610.9 337.4 L611.2 338.0 L611.5 338.4 L611.9 338.8 L612.2 338.9 L612.5 338.8 L612.8 338.6 L613.2 338.2 L613.5 338.5 L613.8 338.7 L614.1 338.7 L614.5 338.9 L614.8 338.8 L615.1 338.4 L615.4 339.1 L615.8 339.4 L616.1 338.9 L616.4 339.2 L616.7 338.8 L617.1 338.2 L617.4 338.1 L617.7 337.9 L618.0 336.5 L618.3 338.3 L618.7 336.2 L619.0 337.6 L619.3 337.4 L619.6 337.7 L620.0 337.6 L620.3 337.2 L620.6 337.2 L620.9 337.1 L621.3 336.4 L621.6 336.1 L621.9 336.1 L622.2 336.5 L622.6 336.2 L622.9 335.7 L623.2 336.4 L623.5 337.7 L623.9 336.7 L624.2 334.9 L624.5 336.0 L624.8 336.4 L625.1 336.4 L625.4 336.1 L625.8 336.0 L626.1 335.2 L626.4 334.8 L626.7 335.7 L627.0 334.9 L627.3 335.7 L627.7 335.5 L628.0 335.6 L628.3 337.9 L628.6 336.5 L628.9 336.0 L629.2 335.7 L629.6 335.3 L629.9 335.3 L630.2 335.5 L630.5 335.8 L630.8 335.9 L631.2 335.0 L631.5 335.0 L631.8 337.3 L632.1 338.4 L632.4 337.1 L632.7 337.5 L633.0 337.4 L633.4 337.4 L633.7 336.4 L634.0 337.6 L634.3 337.4 L634.6 338.0 L634.9 337.9 L635.2 338.1 L635.6 338.9 L635.9 338.6 L636.2 339.3 L636.5 339.3 L636.8 338.6 L637.1 338.7 L637.5 336.7 L637.8 339.7 L638.2 340.7 L638.5 340.8 L638.8 341.6 L639.2 341.0 L639.5 341.9 L639.9 342.1 L640.2 342.5 L640.5 343.5 L640.9 342.1 L641.2 342.2 L641.5 342.1 L641.8 341.2 L642.1 341.1 L642.4 341.6 L642.7 342.1 L643.1 341.0 L643.4 341.2 L643.7 339.5 L644.0 340.9 L644.3 341.0 L644.6 340.4 L644.9 340.3 L645.3 341.5 L645.6 341.0 L645.9 341.1 L646.2 341.2 L646.5 340.4 L646.8 340.6 L647.2 340.8 L647.5 340.1 L647.8 340.1 L648.1 338.8 L648.4 339.8 L648.7 340.3 L649.0 340.3 L649.4 341.3 L649.7 340.2 L650.0 339.8 L650.3 339.9 L650.6 339.6 L650.9 339.5 L651.2 340.0 L651.6 339.5 L651.9 339.4 L652.2 338.9 L652.5 339.5 L652.9 339.9 L653.2 340.9 L653.5 341.0 L653.8 340.7 L654.2 340.6 L654.5 340.1 L654.8 340.3 L655.1 340.8 L655.4 340.8 L655.7 338.8 L656.1 341.1 L656.4 340.6 L656.7 340.9 L657.0 342.0 L657.3 342.1 L657.6 342.1 L657.9 342.0 L658.2 341.1 L658.6 340.9 L658.9 341.8 L659.2 341.8 L659.5 342.5 L659.8 342.1 L660.1 342.2 L660.4 342.3 L660.7 342.2 L661.1 342.0 L661.4 343.7 L661.7 342.4 L662.0 343.4 L662.3 342.8 L662.6 342.6 L662.9 343.0 L663.2 343.3 L663.6 343.1 L663.9 343.0 L664.2 341.3 L664.5 342.2 L664.8 343.5 L665.1 342.4 L665.4 343.0 L665.7 341.7 L666.1 342.3 L666.4 342.6 L666.7 341.9 L667.0 342.4 L667.3 341.8 L667.6 342.4 L667.9 341.8 L668.3 341.6 L668.6 341.4 L668.9 340.6 L669.2 341.0 L669.5 341.1 L669.8 341.1 L670.1 341.5 L670.4 342.4 L670.8 341.3 L671.1 340.8 L671.4 340.2 L671.7 340.7 L672.0 340.7 L672.3 340.2 L672.6 340.3 L672.9 341.7 L673.3 340.7 L673.6 340.3 L673.9 340.8 L674.2 340.0 L674.5 340.8 L674.8 339.9 L675.1 341.6 L675.4 340.5 L675.8 339.5 L676.1 340.1 L676.4 340.4 L676.7 340.7 L677.0 341.8 L677.3 342.2 L677.6 341.2 L677.9 341.4 L678.3 341.7 L678.6 342.1 L678.9 341.1 L679.2 342.1 L679.5 342.4 L679.8 341.3 L680.1 341.5 L680.4 342.9 L680.8 342.8 L681.1 344.4 L681.4 342.1 L681.7 341.3 L682.0 341.7 L682.3 341.4 L682.6 342.1 L683.0 342.0 L683.3 343.5 L683.6 342.2 L683.9 341.2 L684.2 342.5 L684.5 342.3 L684.8 341.6 L685.1 341.6 L685.5 340.4 L685.8 340.6 L686.1 341.3 L686.4 342.6 L686.7 341.4 L687.0 341.2 L687.3 341.4 L687.6 340.0 L688.0 340.7 L688.3 341.3 L688.6 340.9 L688.9 341.3 L689.2 341.7 L689.5 341.7 L689.8 341.8 L690.1 341.4 L690.5 340.5 L690.8 340.7 L691.1 340.2 L691.4 340.6 L691.7 340.8 L692.0 340.6 L692.3 341.1 L692.6 340.6 L693.0 340.7 L693.3 340.9 L693.6 341.7 L693.9 341.6 L694.2 341.8 L694.5 341.4 L694.8 340.4 L695.1 341.8 L695.5 341.8 L695.8 342.3 L696.1 342.2 L696.4 342.0 L696.7 341.5 L697.0 341.0 L697.3 342.0 L697.7 341.5 L698.0 342.2 L698.3 342.3 L698.6 342.3 L698.9 342.8 L699.2 342.6 L699.5 342.7 L699.8 343.0 L700.2 343.6 L700.5 342.7 L700.8 343.5 L701.1 343.0 L701.4 341.7 L701.8 342.4 L702.1 342.8 L702.4 342.7 L702.7 342.3 L703.1 341.8 L703.4 342.5 L703.7 342.4 L704.0 342.5 L704.4 342.2 L704.7 342.2 L705.0 341.3 L705.3 342.4 L705.7 341.4 L706.0 342.0 L706.3 341.7 L706.6 340.7 L707.0 340.6 L707.3 340.8 L707.6 341.5 L707.9 341.0 L708.2 341.2 L708.5 342.0 L708.8 340.8 L709.1 341.6 L709.5 341.3 L709.8 341.9 L710.1 342.1 L710.4 341.2 L710.7 342.6 L711.0 343.6 L711.3 341.9 L711.6 342.1 L712.0 341.9 L712.3 342.1 L712.6 341.9 L712.9 342.0 L713.2 342.4 L713.5 342.3 L713.8 343.0 L714.2 341.9 L714.5 341.8 L714.8 340.9 L715.1 342.0 L715.4 342.2 L715.7 341.6 L716.0 341.8 L716.3 341.1 L716.7 340.5 L717.0 341.1 L717.3 342.0 L717.6 342.3 L717.9 342.2 L718.2 342.2 L718.5 341.8 L718.8 342.0 L719.2 342.6 L719.5 342.7 L719.8 342.8 L720.1 342.1 L720.4 342.4 L720.7 342.4 L721.0 343.1 L721.3 343.7 L721.7 342.4 L722.0 343.0 L722.3 343.2 L722.6 343.0 L722.9 343.7 L723.2 342.5 L723.5 342.1 L723.8 342.5 L724.2 342.4 L724.5 342.3 L724.8 342.7 L725.1 342.9 L725.4 342.5 L725.7 343.6 L726.0 343.0 L726.3 343.2 L726.7 342.8 L727.0 342.6 L727.3 342.9 L727.6 343.0 L727.9 343.4 L728.2 342.2 L728.5 342.4 L728.9 341.4 L729.2 343.3 L729.5 341.5 L729.8 344.8 L730.1 343.3 L730.4 342.8 L730.7 342.3 L731.0 342.0 L731.4 341.7 L731.7 341.8 L732.0 342.5 L732.3 342.3 L732.6 342.1 L732.9 342.2 L733.2 341.6 L733.5 343.3 L733.9 342.5 L734.2 342.3 L734.5 341.8 L734.8 342.6 L735.1 343.1 L735.4 342.9 L735.7 343.8 L736.0 343.0 L736.4 342.3 L736.7 342.4 L737.0 342.5 L737.3 342.5 L737.6 342.8 L737.9 343.2 L738.2 342.3 L738.5 343.2 L738.9 341.0 L739.2 342.6 L739.5 342.0 L739.8 342.3 L740.1 343.6 L740.4 342.7 L740.7 342.9 L741.0 343.5 L741.4 343.6 L741.7 343.8 L742.0 343.5 L742.3 343.3 L742.6 342.9 L742.9 343.8 L743.2 343.9 L743.6 343.3 L743.9 343.5 L744.2 343.1 L744.5 341.9 L744.9 342.3 L745.2 342.9 L745.5 341.9 L745.8 340.9 L746.2 338.8 L746.5 340.7 L746.8 339.9 L747.1 340.9 L747.4 338.7 L747.8 340.0 L748.1 339.2 L748.4 340.0 L748.7 339.5 L749.1 340.0 L749.4 340.3 L749.7 339.0 L750.0 338.5 L750.4 338.4 L750.7 338.6 L751.0 338.5 L751.3 338.1 L751.6 338.3 L751.9 338.2 L752.2 337.4 L752.5 337.8 L752.9 337.9 L753.2 338.5 L753.5 338.6 L753.8 338.2 L754.1 337.3 L754.4 338.9 L754.7 335.9 L755.0 337.6 L755.4 337.8 L755.7 337.7 L756.0 338.3 L756.3 337.7 L756.6 337.6 L756.9 337.4 L757.2 337.0 L757.5 338.1 L757.9 337.5 L758.2 336.3 L758.5 336.8 L758.8 337.1 L759.1 337.4 L759.4 336.2 L759.7 336.5 L760.0 338.0 L760.4 337.0 L760.7 338.0 L761.0 337.7 L761.3 337.3 L761.6 336.6 L761.9 337.2 L762.2 337.7 L762.6 337.8 L762.9 338.1 L763.2 338.1 L763.5 338.1 L763.8 336.8 L764.1 337.4 L764.4 337.4 L764.7 337.3 L765.1 337.6 L765.4 337.5 L765.7 338.4 L766.0 336.8 L766.3 336.9 L766.6 337.8 L766.9 337.2 L767.2 336.0 L767.6 337.8 L767.9 337.7 L768.2 337.5 L768.5 337.5 L768.8 337.1 L769.2 336.7 L769.5 337.9 L769.8 337.3 L770.1 337.2 L770.4 336.9 L770.8 337.2 L771.1 337.1 L771.4 336.1 L771.7 336.2 L772.1 337.0 L772.4 336.4 L772.7 335.5 L773.0 335.9 L773.4 336.0 L773.7 337.2 L774.0 335.8 L774.3 336.0 L774.7 336.1 L775.0 335.7 L775.3 335.4 L775.6 334.8 L775.9 335.9 L776.2 335.6 L776.5 335.6 L776.9 337.9 L777.2 335.7 L777.5 336.4 L777.8 335.9 L778.1 336.4 L778.4 335.7 L778.7 335.8 L779.1 336.3 L779.4 334.3 L779.7 334.2 L780.0 335.9 L780.3 336.9 L780.6 336.4 L780.9 336.8 L781.2 336.6 L781.6 336.3 L781.9 335.9 L782.2 336.4 L782.5 335.8 L782.8 336.3 L783.1 336.8 L783.4 336.0 L783.7 337.7 L784.1 336.2 L784.4 336.4 L784.7 336.5 L785.0 337.2 L785.3 337.5 L785.6 336.8 L785.9 337.7 L786.2 337.6 L786.6 338.9 L786.9 337.9 L787.2 338.3 L787.5 337.8 L787.8 337.6 L788.1 338.7 L788.4 338.6 L788.7 337.8 L789.1 338.3 L789.4 338.0 L789.7 337.7 L790.0 338.4 L790.3 338.9 L790.6 338.3 L790.9 337.7 L791.2 337.8 L791.6 338.4 L791.9 339.7 L792.2 339.6 L792.5 339.5 L792.8 339.2 L793.1 338.4 L793.4 339.6 L793.8 338.9 L794.1 338.4 L794.4 339.5 L794.7 339.0 L795.0 339.5 L795.3 340.5 L795.6 337.6 L795.9 338.4 L796.3 337.9 L796.6 340.8 L796.9 337.3 L797.2 337.7 L797.5 338.5 L797.8 338.5 L798.1 338.7 L798.4 338.5 L798.8 339.4 L799.1 338.9 L799.4 340.1 L799.7 337.4 L800.0 339.0 L800.3 338.2 L800.6 338.2 L800.9 337.4 L801.3 338.3 L801.6 338.4 L801.9 338.2 L802.2 337.6 L802.5 337.9 L802.8 337.5 L803.1 337.1 L803.5 336.3 L803.8 336.6 L804.1 337.3 L804.4 336.7 L804.7 335.7 L805.0 335.3 L805.3 335.7 L805.7 335.5 L806.0 335.5 L806.3 334.0 L806.6 333.3 L806.9 333.2 L807.2 334.0 L807.5 332.7 L807.9 332.5 L808.2 331.7 L808.5 332.7 L808.8 332.8 L809.1 330.1 L809.5 330.7 L809.8 330.6 L810.1 330.6 L810.4 330.8 L810.8 330.5 L811.1 329.7 L811.4 330.1 L811.7 328.9 L812.0 331.3 L812.3 330.5 L812.7 330.2 L813.0 329.8 L813.3 330.2 L813.6 331.7 L813.9 331.0 L814.2 331.6 L814.5 332.3 L814.9 332.9 L815.2 333.7 L815.5 333.1 L815.8 333.5 L816.1 334.8 L816.4 334.7 L816.8 335.0 L817.1 334.1 L817.4 336.0 L817.7 336.2 L818.1 337.0 L818.4 336.6 L818.7 337.1 L819.0 337.2 L819.4 337.4 L819.7 337.6 L820.0 338.0 L820.3 338.5 L820.7 340.3 L821.0 338.4 L821.3 337.7 L821.6 337.8 L822.0 337.4 L822.3 336.5 L822.6 338.2 L822.9 338.6 L823.3 338.6 L823.6 338.0 L823.9 338.0 L824.2 338.5 L824.5 338.8 L824.9 338.8 L825.2 338.3 L825.5 339.7 L825.8 338.4 L826.2 338.6 L826.5 338.6 L826.8 339.1 L827.1 338.5 L827.5 340.1 L827.8 339.5 L828.1 338.8 L828.4 339.4 L828.8 341.6 L829.1 338.5 L829.4 338.7 L829.7 339.3 L830.1 339.0 L830.4 338.5 L830.7 338.2 L831.0 337.5 L831.3 338.2 L831.7 338.5 L832.0 338.2 L832.3 337.6 L832.6 337.8 L833.0 337.2 L833.3 337.3 L833.6 337.5 L833.9 336.5 L834.3 336.8 L834.6 337.5 L834.9 337.2 L835.2 337.5 L835.6 336.7 L835.9 337.4 L836.2 336.6 L836.5 337.0 L836.9 336.9 L837.2 336.8 L837.5 336.4 L837.8 336.2 L838.2 337.4 L838.5 335.6 L838.8 335.9 L839.1 335.6 L839.4 336.2 L839.8 335.2 L840.1 335.1 L840.4 336.1 L840.7 335.4 L841.1 335.3 L841.4 334.5 L841.7 336.4 L842.0 336.4 L842.4 337.3 L842.7 337.9 L843.0 336.6 L843.3 337.4 L843.7 337.6 L844.0 335.7 L844.3 337.1 L844.6 337.1 L845.0 337.6 L845.3 338.5 L845.6 338.8 L845.9 338.4 L846.2 339.0 L846.5 339.4 L846.9 338.9 L847.2 338.4 L847.5 339.8 L847.8 340.6 L848.1 340.2 L848.4 338.4 L848.8 340.6 L849.1 339.9 L849.4 338.7 L849.7 340.0 L850.0 340.1 L850.3 339.0 L850.7 340.2 L851.0 340.4 L851.3 339.9 L851.6 339.5 L851.9 340.1 L852.3 340.2 L852.6 339.3 L852.9 339.7 L853.2 340.4 L853.5 339.7 L853.9 339.8 L854.2 340.1 L854.5 339.2 L854.8 339.9 L855.2 339.9 L855.5 339.6 L855.8 339.3 L856.1 338.9 L856.5 338.8 L856.8 339.7 L857.1 338.6 L857.4 338.3 L857.8 338.4 L858.1 338.6 L858.4 338.6 L858.7 339.1 L859.1 338.3 L859.4 338.6 L859.7 338.7 L860.0 337.4 L860.4 338.0 L860.7 340.5 L861.0 339.6 L861.3 339.5 L861.6 338.2 L862.0 338.3 L862.3 339.0 L862.6 338.7 L862.9 338.3 L863.3 339.4 L863.6 338.1 L863.9 338.8 L864.2 338.8 L864.6 338.1 L864.9 339.3 L865.2 340.1 L865.5 338.6 L865.9 340.3 L866.2 339.7 L866.5 340.5 L866.8 339.3 L867.2 340.2 L867.5 340.1 L867.8 340.2 L868.1 338.9 L868.5 340.1 L868.8 339.7 L869.1 339.3 L869.4 339.4 L869.7 339.9 L870.1 339.5 L870.4 340.9 L870.7 339.0 L871.0 341.2 L871.4 339.4 L871.7 339.7 L872.0 339.9 L872.3 339.9 L872.7 339.8 L873.0 340.6 L873.3 340.6 L873.6 340.6 L874.0 340.3 L874.3 340.1 L874.6 340.7 L874.9 341.1 L875.3 340.4 L875.6 341.6 L875.9 342.0 L876.2 342.3 L876.5 342.8 L876.9 341.5 L877.2 341.5 L877.5 341.9 L877.8 342.6 L878.2 342.5 L878.5 343.1 L878.8 344.0 L879.1 342.9 L879.5 343.1 L879.8 342.5 L880.1 343.3 L880.4 343.4 L880.8 342.6 L881.1 344.0 L881.4 340.5 L881.7 343.7 L882.1 344.3 L882.4 342.8 L882.7 343.9 L883.0 344.1 L883.4 344.7 L883.7 344.4 L884.0 343.4 L884.3 343.3 L884.6 344.0 L885.0 343.4 L885.3 344.7 L885.6 343.8 L885.9 345.0 L886.2 344.6 L886.6 344.9 L886.9 345.9 L887.2 345.5 L887.5 346.1 L887.8 345.4 L888.1 344.8 L888.4 345.6 L888.7 343.9 L889.1 344.1 L889.4 341.8 L889.7 344.5 L890.0 344.6 L890.3 343.7 L890.6 345.2 L890.9 344.5 L891.2 344.3 L891.6 343.7 L891.9 344.2 L892.2 344.9 L892.5 344.6 L892.8 343.8 L893.1 345.0 L893.4 343.7 L893.8 344.1 L894.1 344.0 L894.4 343.3 L894.7 344.1 L895.0 342.6 L895.3 343.1 L895.6 343.4 L895.9 344.0 L896.3 343.6 L896.6 343.8 L896.9 343.1 L897.2 344.0 L897.5 343.0 L897.8 343.2 L898.1 343.4 L898.4 343.1 L898.8 343.5 L899.1 343.6 L899.4 343.6 L899.7 343.3 L900.0 343.1 L900.3 343.6 L900.6 343.5 L900.9 343.0 L901.3 342.3 L901.6 343.6 L901.9 343.6 L902.2 343.5 L902.5 342.9 L902.8 342.9 L903.1 343.1 L903.4 342.9 L903.8 341.9 L904.1 342.8 L904.4 343.2 L904.7 343.6 L905.0 343.6 L905.3 343.2 L905.6 342.3 L905.9 342.8 L906.3 342.6 L906.6 342.4 L906.9 342.6 L907.2 343.0 L907.5 342.9 L907.8 342.5 L908.1 342.3 L908.5 343.3 L908.8 343.3 L909.1 343.2 L909.4 342.3 L909.7 343.3 L910.0 343.2 L910.3 343.7 L910.6 343.7 L911.0 343.8 L911.3 343.9 L911.6 340.2 L911.9 344.6 L912.2 344.1 L912.5 344.0 L912.8 343.1 L913.2 343.6 L913.5 343.2 L913.8 343.8 L914.1 343.9 L914.4 344.3 L914.8 344.5 L915.1 343.6 L915.4 344.0 L915.7 343.9 L916.1 343.9 L916.4 344.0 L916.7 344.5 L917.0 344.8 L917.4 344.0 L917.7 344.5 L918.0 344.6 L918.3 345.2 L918.7 345.4 L919.0 344.5 L919.3 345.1 L919.6 346.5 L920.0 348.1 L920.3 344.5 L920.6 344.6 L920.9 345.9 L921.3 345.5 L921.6 346.4 L921.9 346.0 L922.2 343.9 L922.5 346.0 L922.9 346.1 L923.2 345.9 L923.5 346.2 L923.8 344.3 L924.2 346.3 L924.5 346.2 L924.8 346.7 L925.1 347.4 L925.5 347.3 L925.8 348.0 L926.1 346.8 L926.4 346.4 L926.8 346.5 L927.1 346.1 L927.4 346.2 L927.7 346.2 L928.1 346.3 L928.4 344.9 L928.7 346.5 L929.0 346.5 L929.4 345.6 L929.7 346.8 L930.0 345.3 L930.3 346.6 L930.6 346.1 L931.0 345.7 L931.3 344.9 L931.6 345.4 L931.9 345.3 L932.3 345.5 L932.6 346.1 L932.9 344.8 L933.2 344.3 L933.6 343.5 L933.9 343.6 L934.3 343.6 L934.6 343.8 L934.9 344.1 L935.3 344.5 L935.6 344.1 L936.0 343.1 L936.3 343.9 L936.6 342.7 L937.0 343.5 L937.3 344.9 L937.6 344.6 L937.9 344.6 L938.2 344.4 L938.5 345.4 L938.8 345.3 L939.2 345.0 L939.5 346.4 L939.8 346.3 L940.1 347.2 L940.4 346.4 L940.7 346.3 L941.0 347.7 L941.4 346.9 L941.7 345.5 L942.0 348.2 L942.3 348.4 L942.6 348.3 L943.0 347.8 L943.3 348.0 L943.6 347.3 L943.9 348.6 L944.3 348.7 L944.6 348.5 L944.9 349.9 L945.2 350.0 L945.5 349.4 L945.9 349.2 L946.2 349.7 L946.5 348.8 L946.8 349.8 L947.2 349.4 L947.5 349.0 L947.8 349.4 L948.1 350.4 L948.5 350.3 L948.8 351.6 L949.1 351.4 L949.4 350.5 L949.8 348.7 L950.1 351.1 L950.4 351.4 L950.7 351.2 L951.1 350.8 L951.4 351.3 L951.7 352.1 L952.0 352.2 L952.4 350.7 L952.7 351.0 L953.0 351.4 L953.3 352.4 L953.6 352.1 L954.0 351.4 L954.3 351.3 L954.6 351.3 L954.9 351.8 L955.3 352.4 L955.6 351.4 L955.9 352.0 L956.2 352.0 L956.6 353.0 L956.9 352.7 L957.2 353.1 L957.5 352.9 L957.9 352.3 L958.2 352.9 L958.5 353.5 L958.8 352.9 L959.2 353.5 L959.5 352.6 L959.8 354.9 L960.1 354.5 L960.4 355.4 L960.8 354.3 L961.1 354.3 L961.4 354.0 L961.7 353.6 L962.1 353.7 L962.4 353.6 L962.7 354.1 L963.0 354.4 L963.4 354.8 L963.7 352.7 L964.0 355.1 L964.3 354.3 L964.6 355.2 L964.9 355.7 L965.3 356.9 L965.6 355.1 L965.9 355.5 L966.2 356.2 L966.5 356.6 L966.8 356.5 L967.2 356.1 L967.5 356.3 L967.8 355.9 L968.1 355.4 L968.4 356.5 L968.7 356.8 L969.1 356.7 L969.4 356.2 L969.7 356.1 L970.0 356.3 L970.3 355.5 L970.6 355.9 L970.9 354.5 L971.2 356.7 L971.6 354.8 L971.9 355.4 L972.2 355.3 L972.5 355.5 L972.8 355.3 L973.1 354.8 L973.4 354.5 L973.7 354.9 L974.1 354.5 L974.4 354.5 L974.7 355.1 L975.0 353.8 L975.4 354.1 L975.7 354.8 L976.0 354.8 L976.3 355.1 L976.6 355.0 L977.0 355.2 L977.3 354.0 L977.6 354.7 L977.9 355.0 L978.3 354.5 L978.6 354.2 L978.9 354.6 L979.2 353.0 L979.6 354.6 L979.9 354.1 L980.2 355.5 L980.5 355.9 L980.9 355.9 L981.2 354.9 L981.5 354.6 L981.8 354.7 L982.2 354.4 L982.5 354.5 L982.8 355.0 L983.1 354.9 L983.4 355.3 L983.8 355.2 L984.1 355.8 L984.4 355.7 L984.7 352.9 L985.1 354.6 L985.4 355.8 L985.7 356.2 L986.0 354.1 L986.4 355.5 L986.7 356.8 L987.0 355.1 L987.3 355.0 L987.7 354.9 L988.0 353.8 L988.3 355.1 L988.6 353.6 L989.0 355.4 L989.3 355.5 L989.6 355.2 L989.9 355.2 L990.3 354.7 L990.6 354.9 L990.9 355.3 L991.2 355.1 L991.5 354.7 L991.9 354.4 L992.2 354.3 L992.5 354.3 L992.8 353.1 L993.2 353.8 L993.5 354.3 L993.8 354.7 L994.1 356.6 L994.5 353.6 L994.8 353.9 L995.1 355.6 L995.4 355.1 L995.8 354.1 L996.1 353.5 L996.4 354.0 L996.7 353.6 L997.1 353.9 L997.4 353.9 L997.7 353.8 L998.0 353.5 L998.3 352.8 L998.7 353.7 L999.0 353.4 L999.3 353.2 L999.6 353.2 L1000.0 352.8 L1000.3 353.8 L1000.6 353.8 L1000.9 354.3 L1001.3 352.8 L1001.6 353.8 L1001.9 353.7 L1002.2 353.7 L1002.6 354.1 L1002.9 354.1 L1003.2 354.6 L1003.5 354.2 L1003.9 353.8 L1004.2 354.2 L1004.5 355.0 L1004.8 354.6 L1005.2 354.7 L1005.5 354.2 L1005.8 354.9 L1006.1 355.1 L1006.4 355.7 L1006.8 355.0 L1007.1 355.6 L1007.4 355.2 L1007.7 354.7 L1008.1 355.2 L1008.4 355.1 L1008.7 355.1 L1009.0 355.9 L1009.4 356.0 L1009.7 355.6 L1010.0 354.4 L1010.3 354.6 L1010.7 354.5 L1011.0 354.6 L1011.3 354.7 L1011.6 354.7 L1012.0 354.0 L1012.3 354.3 L1012.6 355.2 L1012.9 353.9 L1013.3 354.5 L1013.6 353.7 L1013.9 354.4 L1014.2 354.3 L1014.5 354.1 L1014.9 354.2 L1015.2 354.6 L1015.5 354.1 L1015.8 354.4 L1016.2 354.8 L1016.5 354.8 L1016.8 354.4 L1017.1 354.3 L1017.5 354.9 L1017.8 355.2 L1018.1 354.3 L1018.4 356.0 L1018.8 354.3 L1019.1 355.3 L1019.4 355.7 L1019.7 355.9 L1020.1 355.7 L1020.4 355.1 L1020.7 355.7 L1021.0 356.5 L1021.3 356.1 L1021.7 356.0 L1022.0 355.9 L1022.3 356.6 L1022.6 356.4 L1022.9 357.0 L1023.2 356.5 L1023.6 355.6 L1023.9 355.2 L1024.2 354.0 L1024.5 355.0 L1024.8 355.4 L1025.1 355.0 L1025.5 355.4 L1025.8 355.7 L1026.1 355.7 L1026.4 357.2 L1026.7 355.6 L1027.0 355.0 L1027.3 354.4 L1027.7 353.3 L1028.0 354.5 L1028.3 354.5 L1028.6 354.2 L1029.0 354.0 L1029.3 354.2 L1029.6 353.9 L1029.9 354.5 L1030.3 353.2 L1030.6 353.1 L1030.9 351.1 L1031.2 352.5 L1031.6 352.9 L1031.9 352.0 L1032.2 351.8 L1032.5 352.0 L1032.8 352.0 L1033.2 351.4 L1033.5 351.7 L1033.8 351.2 L1034.1 351.3 L1034.4 351.6 L1034.8 351.2 L1035.1 350.9 L1035.4 351.3 L1035.7 351.1 L1036.0 351.6 L1036.4 350.8 L1036.7 350.7 L1037.0 350.3 L1037.3 350.5 L1037.7 350.7 L1038.0 347.8 L1038.3 349.8 L1038.6 349.3 L1038.9 349.7 L1039.2 349.2 L1039.6 349.2 L1039.9 348.4 L1040.2 348.4 L1040.5 349.2 L1040.8 350.3 L1041.1 348.8 L1041.4 348.7 L1041.8 349.0 L1042.1 349.4 L1042.4 349.9 L1042.7 349.3 L1043.0 348.1 L1043.3 349.3 L1043.6 348.9 L1044.0 348.8 L1044.3 348.7 L1044.6 349.3 L1044.9 348.8 L1045.2 350.3 L1045.5 350.2 L1045.9 349.2 L1046.2 350.8 L1046.5 351.2 L1046.8 351.9 L1047.1 349.9 L1047.4 349.7 L1047.7 350.6 L1048.1 351.0 L1048.4 351.5 L1048.7 351.4 L1049.0 351.8 L1049.3 351.9 L1049.6 350.8 L1050.0 350.8 L1050.3 351.4 L1050.6 352.1 L1050.9 351.1 L1051.3 351.5 L1051.6 351.8 L1051.9 351.5 L1052.2 351.3 L1052.5 351.2 L1052.9 351.0 L1053.2 350.1 L1053.5 351.9 L1053.8 349.7 L1054.2 351.6 L1054.5 351.2 L1054.8 350.6 L1055.1 350.0 L1055.5 351.0 L1055.8 350.8 L1056.1 350.7 L1056.4 350.8 L1056.8 351.7 L1057.1 351.7 L1057.4 348.9 L1057.7 350.5 L1058.1 351.2 L1058.4 350.4 L1058.7 350.2 L1059.0 350.5 L1059.4 350.3 L1059.7 350.4 L1060.0 350.4 L1060.3 349.9 L1060.6 350.0 L1061.0 350.5 L1061.3 349.8 L1061.6 349.8 L1061.9 350.1 L1062.3 350.3 L1062.6 350.0 L1062.9 350.4 L1063.2 349.8 L1063.6 349.2 L1063.9 349.7 L1064.2 350.1 L1064.5 349.9 L1064.9 350.4 L1065.2 349.7 L1065.5 349.9 L1065.8 352.0 L1066.2 351.0 L1066.5 350.8 L1066.8 351.0 L1067.1 349.8 L1067.4 350.8 L1067.8 351.2 L1068.1 351.7 L1068.4 351.2 L1068.7 351.0 L1069.1 350.6 L1069.4 350.8 L1069.7 350.9 L1070.0 351.3 L1070.4 350.1 L1070.7 349.9 L1071.0 348.7 L1071.3 348.2 L1071.7 348.8 L1072.0 348.2 L1072.3 348.3 L1072.6 348.5 L1072.9 348.9 L1073.3 347.8 L1073.6 348.5 L1073.9 347.9 L1074.2 346.9 L1074.5 346.2 L1074.8 346.9 L1075.1 346.9 L1075.5 346.8 L1075.8 346.0 L1076.1 346.9 L1076.4 347.3 L1076.7 347.5 L1077.0 346.7 L1077.3 349.2 L1077.7 346.6 L1078.0 346.6 L1078.3 346.7 L1078.6 347.3 L1078.9 346.5 L1079.2 348.4 L1079.6 347.5 L1079.9 348.5 L1080.2 347.4 L1080.5 348.3 L1080.8 349.0 L1081.1 349.1 L1081.4 349.1 L1081.8 349.5 L1082.1 349.2 L1082.4 348.9 L1082.7 348.4 L1083.0 349.9 L1083.3 350.1 L1083.6 349.3 L1084.0 349.2 L1084.3 348.4 L1084.6 349.3 L1084.9 349.9 L1085.3 348.6 L1085.6 349.2 L1085.9 349.4 L1086.2 349.1 L1086.6 348.5 L1086.9 349.2 L1087.2 346.7 L1087.5 348.5 L1087.9 347.8 L1088.2 349.2 L1088.5 348.1 L1088.8 348.2 L1089.2 347.0 L1089.5 349.1 L1089.8 347.1 L1090.1 346.3 L1090.4 349.3 L1090.8 347.1 L1091.1 347.0 L1091.4 347.1 L1091.7 347.4 L1092.1 348.1 L1092.4 347.1 L1092.7 347.1 L1093.0 347.8 L1093.4 348.0 L1093.7 346.9 L1094.0 346.9 L1094.3 346.9 L1094.7 347.1 L1095.0 346.6 L1095.3 347.5 L1095.6 346.1 L1096.0 346.5 L1096.3 344.3 L1096.6 347.1 L1096.9 346.0 L1097.3 346.8 L1097.6 346.6 L1097.9 345.5 L1098.2 346.8 L1098.5 347.5 L1098.9 347.0 L1099.2 346.8 L1099.5 346.8 L1099.8 346.9 L1100.2 346.4 L1100.5 347.7 L1100.8 347.3 L1101.1 347.6 L1101.5 347.5 L1101.8 347.1 L1102.1 348.2 L1102.4 347.8 L1102.8 348.3 L1103.1 348.5 L1103.4 348.4 L1103.7 348.3 L1104.1 348.0 L1104.4 347.5 L1104.7 347.9 L1105.0 348.7 L1105.4 348.4 L1105.7 347.8 L1106.0 347.9 L1106.3 348.2 L1106.6 348.6 L1107.0 348.4 L1107.3 349.6 L1107.6 347.9 L1107.9 348.6 L1108.3 349.1 L1108.6 349.1 L1108.9 348.4 L1109.2 348.3 L1109.6 348.7 L1109.9 349.2 L1110.2 346.5 L1110.5 348.8 L1110.9 349.0 L1111.2 349.1 L1111.5 348.7 L1111.8 348.9 L1112.2 349.3 L1112.5 349.0 L1112.8 349.9 L1113.1 349.5 L1113.4 348.5 L1113.8 349.0 L1114.1 349.7 L1114.4 348.4 L1114.7 349.2 L1115.1 349.4 L1115.4 347.9 L1115.7 349.8 L1116.0 349.3 L1116.4 350.2 L1116.7 349.6 L1117.0 348.9 L1117.3 351.0 L1117.7 349.5 L1118.0 349.5 L1118.3 349.7 L1118.6 350.5 L1119.0 349.7 L1119.3 348.1 L1119.6 350.8 L1119.9 350.1 L1120.3 350.5 L1120.6 350.0 L1120.9 350.6 L1121.2 350.9 L1121.5 351.0 L1121.9 350.6 L1122.2 352.0 L1122.5 352.1 L1122.8 351.3 L1123.2 351.3 L1123.5 350.7 L1123.8 350.6 L1124.1 351.2 L1124.5 350.9 L1124.8 350.8 L1125.1 350.8 L1125.4 350.4 L1125.8 351.5 L1126.1 351.0 L1126.4 351.3 L1126.7 350.5 L1127.1 351.9 L1127.4 351.5 L1127.7 350.6 L1128.0 350.0 L1128.3 350.2 L1128.7 350.6 L1129.0 350.2 L1129.3 350.7 L1129.6 349.6 L1130.0 350.1 L1130.3 350.6 L1130.6 350.4 L1130.9 349.8 L1131.3 349.9 L1131.6 349.8 L1131.9 350.2 L1132.2 350.2 L1132.6 349.6 L1132.9 348.8 L1133.2 348.9 L1133.5 349.0 L1135.0 349.0 L1136.5 343.0 L1138.0 337.0 L1139.5 325.0 L1140.8 310.0 L1142.0 330.0 L1143.5 334.0 L1145.0 339.0 L1146.0 343.5 L1147.2 339.0" stroke="#aa4643"/>
<path d="M80.0 334.1 L80.3 332.9 L80.7 334.2 L81.0 335.1 L81.3 335.6 L81.6 335.9 L82.0 336.3 L82.3 336.7 L82.6 336.2 L82.9 337.4 L83.3 337.7 L83.6 337.4 L83.9 338.0 L84.2 338.8 L84.6 338.3 L84.9 338.9 L85.2 339.4 L85.6 338.1 L85.9 337.7 L86.2 337.5 L86.6 337.1 L86.9 337.9 L87.2 336.9 L87.6 337.4 L87.9 337.0 L88.2 337.1 L88.6 336.9 L88.9 336.4 L89.2 336.8 L89.6 336.7 L89.9 338.3 L90.3 337.3 L90.6 339.0 L90.9 339.5 L91.3 339.8 L91.6 339.5 L92.0 338.1 L92.4 335.3 L92.8 332.8 L93.2 333.2 L93.5 333.3 L93.8 333.2 L94.2 333.3 L94.5 331.8 L94.8 331.3 L95.1 333.4 L95.5 333.0 L95.8 331.9 L96.1 330.6 L96.5 332.6 L96.8 333.3 L97.1 332.6 L97.5 332.6 L97.8 332.5 L98.1 333.5 L98.5 332.5 L98.8 335.2 L99.2 334.4 L99.5 334.1 L99.8 333.7 L100.2 335.9 L100.5 333.3 L100.8 334.2 L101.2 335.0 L101.5 335.5 L101.8 334.8 L102.1 334.4 L102.5 339.7 L102.8 335.1 L103.1 337.5 L103.5 333.8 L103.8 334.2 L104.1 336.7 L104.4 335.3 L104.8 334.8 L105.1 335.5 L105.4 336.8 L105.8 336.9 L106.1 335.6 L106.4 335.3 L106.8 336.5 L107.1 336.7 L107.4 337.4 L107.7 337.0 L108.1 337.6 L108.4 337.3 L108.7 337.5 L109.1 338.0 L109.4 338.3 L109.7 337.6 L110.0 338.6 L110.4 339.0 L110.7 336.6 L111.0 338.9 L111.4 338.4 L111.7 338.3 L112.0 339.2 L112.3 340.4 L112.7 338.5 L113.0 341.0 L113.3 338.7 L113.7 338.3 L114.0 339.6 L114.4 339.0 L114.7 337.7 L115.0 338.5 L115.4 338.3 L115.7 338.6 L116.1 340.1 L116.4 337.7 L116.7 336.4 L117.1 336.2 L117.4 334.8 L117.8 332.9 L118.1 333.2 L118.4 332.4 L118.8 331.5 L119.1 330.5 L119.5 330.2 L119.8 330.0 L120.1 329.4 L120.5 328.9 L120.8 329.6 L121.2 328.8 L121.5 326.8 L121.8 326.1 L122.2 326.3 L122.5 324.9 L122.9 324.3 L123.3 324.6 L123.6 322.3 L124.0 321.4 L124.4 321.4 L124.7 316.6 L125.1 313.7 L125.5 310.9 L125.8 310.2 L126.1 310.7 L126.4 311.0 L126.7 310.6 L127.1 309.6 L127.5 311.4 L127.9 312.7 L128.3 314.4 L128.7 313.3 L129.0 312.3 L129.4 309.1 L129.8 309.3 L130.1 308.8 L130.5 308.9 L130.9 309.8 L131.2 307.4 L131.6 307.9 L132.0 309.4 L132.3 308.7 L132.7 308.0 L133.1 306.1 L133.4 304.4 L133.8 304.0 L134.2 303.6 L134.5 305.6 L134.9 303.0 L135.3 301.6 L135.6 301.0 L136.0 302.3 L136.4 304.2 L136.7 305.8 L137.1 306.8 L137.5 309.4 L137.8 311.4 L138.2 310.1 L138.6 310.7 L138.9 311.4 L139.3 313.3 L139.7 311.2 L140.0 311.3 L140.4 310.5 L140.8 311.0 L141.1 310.5 L141.5 311.1 L141.9 312.4 L142.2 313.5 L142.6 315.7 L142.9 313.7 L143.2 310.8 L143.5 309.6 L143.9 307.2 L144.2 307.0 L144.5 307.3 L144.9 306.3 L145.2 307.3 L145.6 304.8 L145.9 305.2 L146.3 304.7 L146.6 303.8 L147.0 303.1 L147.4 303.0 L147.7 301.0 L148.1 300.3 L148.5 300.1 L148.8 297.7 L149.1 296.5 L149.4 297.2 L149.8 291.6 L150.1 285.5 L150.4 287.3 L150.7 285.7 L151.0 284.5 L151.4 281.7 L151.7 278.3 L152.0 282.9 L152.3 282.1 L152.7 281.5 L153.0 279.3 L153.3 283.0 L153.6 282.3 L154.0 283.2 L154.3 283.8 L154.6 285.1 L154.9 285.8 L155.3 285.9 L155.6 284.4 L155.9 284.8 L156.2 286.5 L156.6 284.8 L156.9 284.7 L157.3 285.0 L157.6 283.6 L157.9 282.1 L158.3 280.4 L158.6 278.3 L159.0 277.6 L159.3 276.9 L159.6 275.6 L160.0 275.5 L160.3 274.1 L160.7 272.3 L161.0 271.5 L161.3 273.7 L161.7 266.7 L162.0 267.6 L162.4 266.0 L162.7 265.7 L163.0 269.3 L163.3 265.0 L163.6 263.6 L163.9 262.9 L164.2 261.8 L164.5 260.7 L164.8 261.0 L165.2 263.4 L165.5 264.3 L165.9 266.6 L166.2 267.5 L166.5 269.1 L166.9 271.6 L167.2 270.9 L167.5 270.6 L167.9 269.3 L168.2 268.8 L168.5 268.5 L168.9 267.8 L169.2 265.7 L169.5 262.9 L169.8 263.9 L170.2 263.4 L170.5 263.8 L170.9 262.1 L171.2 264.3 L171.5 264.0 L171.9 262.0 L172.2 262.6 L172.6 264.9 L172.9 264.2 L173.2 263.3 L173.6 262.1 L173.9 260.8 L174.3 261.0 L174.6 258.3 L174.9 257.4 L175.3 255.7 L175.6 253.5 L176.0 253.5 L176.3 256.8 L176.6 248.6 L177.0 251.3 L177.4 253.6 L177.7 256.4 L178.1 259.6 L178.5 264.2 L178.8 259.2 L179.1 257.2 L179.4 254.4 L179.7 254.9 L180.0 253.7 L180.4 255.6 L180.7 257.3 L181.1 258.0 L181.4 258.2 L181.7 259.8 L182.1 261.5 L182.4 264.0 L182.8 264.5 L183.1 266.5 L183.4 267.0 L183.8 267.7 L184.1 267.9 L184.4 268.2 L184.7 270.5 L185.1 270.0 L185.4 269.9 L185.7 271.5 L186.1 274.4 L186.4 275.4 L186.8 281.4 L187.2 281.2 L187.5 282.3 L187.8 282.5 L188.1 282.3 L188.5 282.6 L188.8 283.6 L189.1 283.6 L189.4 285.0 L189.8 284.0 L190.1 284.1 L190.4 283.8 L190.7 284.3 L191.1 284.8 L191.4 284.9 L191.7 285.1 L192.0 285.4 L192.4 283.3 L192.7 284.8 L193.0 286.3 L193.3 289.0 L193.6 283.3 L194.0 284.0 L194.3 285.4 L194.6 284.4 L194.9 286.9 L195.3 285.0 L195.6 285.6 L195.9 281.9 L196.3 284.1 L196.6 283.8 L196.9 280.0 L197.3 283.4 L197.6 282.5 L198.0 281.8 L198.3 280.5 L198.6 279.4 L199.0 279.3 L199.3 278.4 L199.6 277.5 L200.0 276.2 L200.3 273.4 L200.6 271.1 L200.9 268.8 L201.3 268.5 L201.6 265.1 L201.9 264.7 L202.2 267.0 L202.6 265.1 L202.9 266.3 L203.2 266.0 L203.5 269.4 L203.9 267.8 L204.2 271.4 L204.5 267.4 L204.9 267.9 L205.2 266.1 L205.6 265.3 L205.9 264.5 L206.2 263.1 L206.6 262.7 L206.9 261.5 L207.3 260.0 L207.6 261.8 L207.9 262.6 L208.3 264.2 L208.6 263.4 L209.0 262.5 L209.3 261.7 L209.6 262.8 L210.0 262.5 L210.3 255.2 L210.7 260.6 L211.0 261.4 L211.3 262.5 L211.7 262.2 L212.0 263.3 L212.4 260.8 L212.7 261.5 L213.0 255.2 L213.4 259.3 L213.7 258.6 L214.1 259.0 L214.4 258.1 L214.7 255.1 L215.1 257.8 L215.4 253.5 L215.8 252.9 L216.1 251.8 L216.4 250.4 L216.8 248.0 L217.1 245.8 L217.5 242.6 L217.9 240.8 L218.2 237.9 L218.6 233.9 L219.0 231.2 L219.3 227.5 L219.7 226.3 L220.0 219.1 L220.4 213.7 L220.8 204.5 L221.2 187.8 L221.5 174.4 L222.0 192.2 L222.3 181.6 L222.7 171.5 L223.0 161.8 L223.4 151.3 L223.7 148.1 L224.1 146.6 L224.4 143.6 L224.8 137.6 L225.2 130.2 L225.5 133.4 L225.8 132.5 L226.1 132.5 L226.4 131.5 L226.8 130.2 L227.1 132.7 L227.4 132.1 L227.7 137.2 L228.0 138.0 L228.3 138.9 L228.7 136.0 L229.1 132.6 L229.4 129.6 L229.8 126.7 L230.2 123.9 L230.5 116.2 L230.8 109.5 L231.2 103.8 L231.5 95.3 L231.8 92.7 L232.1 91.2 L232.5 90.6 L232.8 90.2 L233.1 89.9 L233.5 87.0 L233.9 83.3 L234.2 76.8 L234.6 80.2 L234.9 79.2 L235.3 79.2 L235.6 77.1 L235.9 80.7 L236.3 77.5 L236.7 82.2 L237.0 86.8 L237.4 90.6 L237.8 94.1 L238.1 95.6 L238.4 92.1 L238.8 99.2 L239.1 101.9 L239.5 104.1 L239.9 108.9 L240.3 111.8 L240.7 114.4 L241.0 116.4 L241.5 126.7 L241.9 135.0 L242.3 135.4 L242.6 140.3 L242.9 137.3 L243.2 137.1 L243.6 136.9 L243.9 138.7 L244.2 138.4 L244.6 139.0 L244.9 141.5 L245.3 145.5 L245.7 142.9 L246.0 145.2 L246.4 146.1 L246.8 147.4 L247.1 150.3 L247.5 155.5 L247.8 154.0 L248.2 153.2 L248.5 150.0 L248.8 151.1 L249.1 150.9 L249.5 150.6 L249.8 156.2 L250.1 150.4 L250.4 149.0 L250.7 147.3 L251.1 145.6 L251.4 143.5 L251.7 141.5 L252.1 144.4 L252.5 150.5 L252.8 148.5 L253.2 147.8 L253.5 144.8 L253.8 142.1 L254.1 138.8 L254.4 136.8 L254.8 134.5 L255.1 130.9 L255.5 132.6 L255.8 134.9 L256.2 135.2 L256.5 136.4 L256.9 142.8 L257.2 139.6 L257.5 141.9 L257.9 143.5 L258.2 144.5 L258.5 146.7 L258.8 149.2 L259.1 148.4 L259.5 147.7 L259.8 149.1 L260.1 149.3 L260.4 151.6 L260.8 153.9 L261.2 160.2 L261.5 159.4 L261.9 160.9 L262.3 162.6 L262.6 163.0 L263.0 163.5 L263.4 166.2 L263.7 167.8 L264.2 167.0 L264.6 175.6 L264.9 175.8 L265.3 180.3 L265.6 178.4 L265.9 181.2 L266.2 185.4 L266.5 185.4 L266.9 189.4 L267.2 189.3 L267.5 192.0 L267.8 193.1 L268.2 197.1 L268.5 198.4 L268.8 196.6 L269.2 195.3 L269.6 193.2 L269.9 197.1 L270.3 189.9 L270.6 193.9 L271.0 194.4 L271.3 198.9 L271.6 201.3 L272.0 204.1 L272.3 205.8 L272.7 209.7 L273.0 208.2 L273.3 212.7 L273.7 214.8 L274.0 216.6 L274.3 217.0 L274.6 220.8 L275.0 220.1 L275.3 221.8 L275.6 224.2 L275.9 224.9 L276.3 224.2 L276.6 224.1 L277.0 222.8 L277.3 220.7 L277.6 221.0 L278.0 221.0 L278.3 219.8 L278.7 219.1 L279.0 218.1 L279.3 217.2 L279.7 216.4 L280.0 216.1 L280.4 215.4 L280.7 215.0 L281.0 213.7 L281.4 217.1 L281.7 213.8 L282.1 212.3 L282.4 213.2 L282.7 212.0 L283.1 217.1 L283.4 217.9 L283.7 216.1 L284.0 219.0 L284.4 218.1 L284.7 221.5 L285.0 223.2 L285.3 225.0 L285.7 228.3 L286.0 230.9 L286.3 234.2 L286.6 235.5 L287.0 236.4 L287.3 238.7 L287.6 238.0 L287.9 244.8 L288.2 246.5 L288.5 248.5 L288.9 250.4 L289.2 249.3 L289.5 249.2 L289.8 249.1 L290.2 246.1 L290.5 245.0 L290.8 244.5 L291.2 243.5 L291.5 242.8 L291.8 241.8 L292.1 241.0 L292.5 240.6 L292.8 240.9 L293.1 240.9 L293.4 242.6 L293.8 240.3 L294.1 239.3 L294.4 243.0 L294.7 243.7 L295.1 245.6 L295.4 247.6 L295.7 248.1 L296.0 250.1 L296.4 250.8 L296.7 250.8 L297.0 252.4 L297.4 253.8 L297.7 254.4 L298.1 255.0 L298.4 259.6 L298.7 258.6 L299.1 259.2 L299.4 260.2 L299.8 265.9 L300.1 262.4 L300.4 262.8 L300.7 263.8 L301.1 263.2 L301.4 263.0 L301.7 264.1 L302.0 264.5 L302.4 265.1 L302.7 265.2 L303.0 265.9 L303.3 266.4 L303.6 268.1 L304.0 267.7 L304.3 273.0 L304.6 271.3 L304.9 268.7 L305.2 268.9 L305.5 268.7 L305.9 270.6 L306.2 272.5 L306.5 269.2 L306.8 268.6 L307.1 267.0 L307.5 264.5 L307.8 264.1 L308.1 263.0 L308.4 264.8 L308.7 262.8 L309.1 262.5 L309.4 261.8 L309.7 262.9 L310.0 263.1 L310.4 264.2 L310.7 264.0 L311.0 262.7 L311.3 264.8 L311.6 264.1 L312.0 263.4 L312.3 262.3 L312.6 263.7 L312.9 261.9 L313.2 262.0 L313.5 261.3 L313.8 262.1 L314.1 262.4 L314.4 261.5 L314.8 260.8 L315.1 262.8 L315.4 264.2 L315.7 266.2 L316.0 263.1 L316.3 267.4 L316.7 267.2 L317.0 271.9 L317.3 269.7 L317.6 271.3 L317.9 270.6 L318.2 271.3 L318.5 272.1 L318.8 273.9 L319.2 275.9 L319.5 277.6 L319.8 277.3 L320.1 276.7 L320.4 278.1 L320.7 278.0 L321.1 278.9 L321.4 280.3 L321.7 277.5 L322.0 280.9 L322.4 282.2 L322.7 282.3 L323.0 283.7 L323.3 284.3 L323.6 284.1 L324.0 282.4 L324.3 282.1 L324.6 281.3 L324.9 284.2 L325.2 279.9 L325.5 279.5 L325.8 280.8 L326.1 278.0 L326.4 275.7 L326.8 275.9 L327.1 274.6 L327.4 273.9 L327.8 276.5 L328.1 272.9 L328.4 272.1 L328.8 272.1 L329.1 268.1 L329.5 269.4 L329.8 268.6 L330.2 267.8 L330.5 266.9 L330.9 266.1 L331.2 268.7 L331.6 269.5 L331.9 272.0 L332.2 274.3 L332.6 274.1 L332.9 273.3 L333.2 273.3 L333.6 272.2 L333.9 274.2 L334.3 275.3 L334.6 277.5 L335.0 278.0 L335.3 280.1 L335.7 278.2 L336.0 282.0 L336.3 281.7 L336.6 282.5 L336.9 284.3 L337.2 284.3 L337.6 284.7 L337.9 285.3 L338.2 286.4 L338.5 286.9 L338.8 287.3 L339.1 288.2 L339.5 287.4 L339.8 289.9 L340.1 289.2 L340.4 290.5 L340.8 289.9 L341.1 289.5 L341.4 290.8 L341.8 291.6 L342.1 292.0 L342.4 292.8 L342.8 291.1 L343.1 291.1 L343.4 292.4 L343.7 293.1 L344.0 293.6 L344.3 293.4 L344.7 294.2 L345.0 293.5 L345.4 294.7 L345.7 295.0 L346.1 296.3 L346.4 296.0 L346.8 294.6 L347.1 293.0 L347.4 291.0 L347.8 290.9 L348.1 284.4 L348.5 278.7 L348.9 278.5 L349.2 279.4 L349.6 280.3 L350.0 280.3 L350.3 277.8 L350.7 274.5 L351.0 273.7 L351.3 270.5 L351.7 269.8 L352.0 268.8 L352.3 267.4 L352.7 266.0 L353.0 266.2 L353.3 265.2 L353.6 265.7 L353.9 267.5 L354.2 264.1 L354.5 265.0 L354.8 264.3 L355.2 264.2 L355.5 266.2 L355.8 262.9 L356.1 263.7 L356.4 265.2 L356.8 266.1 L357.1 266.6 L357.4 268.4 L357.8 268.7 L358.1 270.2 L358.4 271.6 L358.8 271.0 L359.1 270.5 L359.4 273.2 L359.8 269.6 L360.1 267.9 L360.4 267.0 L360.8 266.6 L361.1 267.3 L361.4 266.5 L361.7 268.5 L362.1 268.5 L362.4 270.1 L362.7 273.4 L363.0 271.2 L363.3 272.1 L363.7 272.7 L364.0 272.0 L364.4 270.4 L364.8 273.1 L365.1 273.3 L365.4 274.6 L365.8 276.3 L366.1 277.8 L366.4 278.4 L366.8 278.0 L367.1 278.8 L367.4 278.6 L367.8 277.1 L368.1 278.2 L368.4 277.3 L368.8 277.3 L369.1 276.2 L369.4 275.3 L369.7 275.7 L370.1 275.3 L370.4 274.7 L370.7 273.3 L371.0 273.2 L371.3 273.0 L371.7 272.7 L372.0 271.6 L372.3 272.6 L372.7 272.4 L373.0 271.7 L373.3 271.7 L373.7 273.6 L374.0 271.5 L374.3 271.6 L374.6 272.2 L375.0 275.4 L375.3 276.8 L375.6 279.1 L375.9 276.5 L376.2 277.8 L376.5 280.1 L376.9 279.5 L377.2 280.6 L377.5 280.5 L377.8 281.2 L378.1 281.2 L378.4 280.6 L378.8 281.3 L379.2 278.7 L379.5 279.7 L379.9 279.6 L380.2 278.9 L380.5 280.2 L380.9 281.2 L381.2 284.3 L381.5 283.0 L381.8 283.5 L382.2 283.3 L382.5 283.7 L382.8 284.0 L383.1 284.4 L383.5 284.6 L383.8 285.1 L384.1 285.5 L384.4 286.4 L384.7 286.6 L385.0 287.5 L385.4 288.1 L385.7 288.1 L386.0 289.4 L386.4 288.2 L386.7 287.1 L387.1 284.0 L387.4 285.9 L387.8 284.9 L388.1 285.3 L388.4 285.4 L388.8 286.3 L389.1 286.6 L389.4 287.4 L389.8 288.5 L390.1 287.2 L390.4 288.6 L390.8 287.4 L391.1 286.9 L391.4 285.4 L391.7 284.8 L392.1 284.8 L392.4 285.1 L392.7 284.9 L393.0 283.9 L393.4 283.2 L393.7 281.5 L394.0 280.4 L394.4 281.9 L394.7 282.5 L395.1 284.3 L395.4 285.0 L395.8 286.4 L396.1 287.4 L396.4 288.6 L396.7 289.3 L397.0 291.4 L397.4 292.2 L397.7 293.9 L398.0 294.8 L398.4 294.3 L398.8 292.8 L399.1 292.5 L399.5 291.0 L399.8 289.7 L400.2 292.6 L400.5 291.8 L400.8 292.9 L401.1 292.1 L401.5 292.8 L401.8 293.0 L402.1 293.5 L402.4 292.6 L402.8 293.5 L403.1 294.4 L403.4 294.8 L403.7 295.0 L404.1 296.8 L404.4 297.3 L404.7 297.6 L405.0 296.8 L405.3 297.0 L405.7 297.1 L406.0 298.2 L406.3 297.3 L406.6 298.1 L406.9 300.1 L407.2 300.8 L407.6 301.2 L407.9 301.9 L408.2 301.0 L408.5 302.0 L408.8 302.0 L409.2 302.3 L409.5 301.5 L409.8 301.0 L410.1 303.6 L410.4 303.5 L410.8 303.6 L411.1 302.1 L411.4 303.3 L411.7 303.3 L412.0 301.6 L412.3 301.8 L412.7 302.2 L413.0 302.9 L413.3 302.0 L413.6 301.8 L413.9 303.3 L414.2 300.6 L414.6 298.8 L414.9 299.8 L415.2 299.7 L415.5 299.0 L415.8 300.6 L416.1 298.2 L416.4 297.4 L416.8 300.2 L417.1 296.9 L417.4 298.3 L417.7 298.2 L418.0 299.4 L418.4 299.6 L418.7 299.6 L419.0 300.9 L419.3 301.7 L419.7 301.7 L420.0 303.8 L420.3 303.4 L420.6 302.2 L421.0 304.1 L421.3 304.9 L421.6 305.4 L421.9 305.6 L422.3 306.0 L422.6 306.7 L423.0 306.5 L423.3 306.5 L423.6 306.8 L424.0 306.7 L424.3 307.1 L424.7 307.0 L425.0 306.6 L425.3 307.4 L425.7 306.4 L426.0 305.7 L426.4 305.3 L426.7 304.7 L427.0 304.3 L427.4 307.3 L427.7 303.3 L428.1 303.1 L428.4 302.3 L428.7 303.0 L429.1 303.1 L429.4 302.9 L429.7 301.1 L430.0 302.3 L430.4 302.3 L430.7 302.5 L431.0 302.9 L431.3 303.0 L431.6 303.2 L432.0 302.2 L432.3 303.2 L432.6 301.8 L432.9 301.2 L433.3 300.1 L433.6 298.9 L434.0 299.6 L434.3 298.1 L434.6 297.6 L435.0 296.4 L435.3 295.1 L435.7 293.4 L436.0 294.6 L436.3 291.6 L436.7 291.1 L437.0 291.1 L437.3 291.2 L437.7 290.2 L438.0 290.2 L438.3 289.4 L438.6 288.7 L439.0 288.2 L439.3 287.8 L439.6 288.1 L440.0 288.0 L440.3 290.4 L440.7 290.7 L441.0 291.3 L441.3 291.1 L441.7 293.4 L442.0 294.4 L442.4 294.5 L442.7 293.2 L443.0 293.3 L443.4 292.4 L443.7 293.0 L444.1 293.9 L444.4 294.5 L444.7 296.5 L445.1 294.7 L445.4 294.1 L445.7 293.1 L446.1 292.8 L446.4 295.8 L446.7 291.0 L447.0 290.4 L447.4 289.9 L447.7 288.9 L448.0 282.9 L448.3 278.1 L448.6 274.1 L449.0 269.7 L449.3 261.4 L449.6 262.5 L449.9 263.0 L450.3 262.0 L450.6 261.4 L450.9 260.6 L451.2 259.9 L451.6 259.5 L451.9 261.7 L452.2 259.6 L452.5 259.4 L452.9 259.8 L453.2 263.5 L453.5 261.3 L453.8 261.8 L454.2 262.9 L454.5 263.7 L454.8 262.7 L455.1 260.3 L455.5 261.6 L455.8 260.4 L456.1 259.2 L456.5 257.4 L456.8 258.7 L457.1 257.8 L457.4 256.2 L457.8 255.7 L458.1 255.5 L458.4 257.1 L458.7 255.0 L459.1 254.1 L459.4 252.8 L459.7 251.9 L460.0 249.0 L460.4 245.4 L460.7 242.0 L461.1 239.4 L461.4 236.0 L461.7 231.9 L462.1 236.9 L462.5 241.0 L462.8 242.9 L463.2 246.9 L463.6 250.9 L463.9 251.4 L464.2 254.0 L464.5 256.2 L464.9 258.4 L465.2 261.6 L465.5 263.3 L465.8 265.1 L466.2 268.0 L466.5 270.2 L466.8 270.1 L467.2 269.2 L467.5 267.3 L467.9 267.0 L468.2 266.2 L468.5 265.4 L468.9 265.2 L469.2 263.1 L469.6 263.0 L469.9 261.4 L470.2 257.8 L470.6 258.9 L470.9 258.8 L471.3 258.4 L471.6 256.6 L471.9 257.2 L472.3 257.8 L472.6 257.0 L472.9 255.4 L473.3 259.7 L473.6 259.9 L473.9 258.6 L474.2 259.6 L474.6 259.8 L474.9 262.1 L475.2 260.7 L475.5 260.5 L475.9 260.3 L476.2 256.8 L476.5 259.7 L476.9 260.7 L477.2 261.9 L477.5 258.5 L477.8 260.4 L478.2 256.8 L478.5 261.3 L478.9 262.1 L479.2 262.4 L479.5 262.5 L479.9 261.2 L480.2 264.2 L480.6 264.1 L481.0 271.1 L481.3 267.6 L481.7 271.9 L482.0 272.7 L482.3 273.0 L482.7 274.1 L483.0 273.6 L483.3 273.5 L483.6 274.5 L484.0 275.0 L484.3 274.9 L484.6 275.4 L485.0 276.6 L485.3 277.0 L485.7 277.6 L486.0 278.7 L486.3 280.8 L486.7 280.1 L487.0 280.1 L487.4 281.2 L487.7 279.8 L488.0 277.6 L488.4 281.2 L488.7 282.3 L489.1 282.2 L489.4 283.0 L489.7 284.9 L490.1 285.0 L490.4 285.0 L490.8 284.9 L491.1 285.9 L491.4 286.4 L491.8 287.2 L492.1 288.4 L492.5 288.5 L492.8 290.7 L493.1 290.4 L493.5 290.3 L493.8 289.2 L494.2 290.9 L494.5 291.1 L494.8 289.8 L495.2 290.2 L495.5 290.3 L495.9 289.8 L496.2 290.1 L496.5 291.9 L496.9 290.1 L497.2 291.6 L497.6 292.6 L497.9 292.4 L498.2 292.2 L498.6 292.4 L498.9 290.2 L499.3 291.3 L499.6 290.8 L500.0 288.6 L500.3 289.4 L500.6 289.7 L501.0 288.5 L501.3 287.1 L501.6 287.0 L501.9 285.7 L502.3 285.4 L502.6 283.9 L502.9 284.0 L503.2 283.1 L503.6 285.7 L503.9 283.7 L504.2 285.1 L504.5 285.5 L504.9 286.5 L505.2 285.9 L505.5 285.9 L505.8 285.5 L506.2 286.0 L506.5 286.2 L506.8 286.6 L507.1 287.0 L507.4 286.7 L507.8 287.8 L508.1 285.9 L508.5 284.1 L508.8 286.1 L509.1 285.8 L509.5 284.2 L509.8 285.5 L510.2 285.0 L510.5 284.6 L510.8 285.6 L511.2 284.1 L511.5 282.2 L511.9 280.5 L512.2 279.0 L512.5 278.2 L512.9 276.3 L513.2 275.1 L513.6 272.9 L513.9 274.6 L514.2 270.6 L514.6 267.0 L514.9 269.8 L515.3 271.7 L515.6 272.0 L515.9 272.8 L516.3 274.3 L516.6 274.9 L517.0 274.8 L517.3 278.6 L517.6 277.8 L518.0 277.5 L518.3 278.1 L518.7 277.8 L519.0 278.4 L519.3 278.3 L519.7 277.8 L520.0 278.5 L520.4 279.0 L520.7 278.7 L521.0 279.3 L521.4 280.1 L521.7 280.1 L522.1 280.7 L522.4 279.9 L522.7 280.3 L523.1 278.8 L523.4 281.5 L523.8 279.3 L524.1 281.8 L524.4 281.3 L524.8 282.0 L525.1 282.2 L525.5 282.6 L525.8 283.1 L526.1 282.4 L526.5 283.8 L526.8 284.6 L527.2 284.4 L527.5 285.9 L527.8 285.7 L528.2 286.3 L528.5 285.4 L528.9 287.5 L529.2 286.9 L529.5 287.5 L529.9 288.8 L530.2 289.0 L530.6 288.6 L530.9 289.1 L531.2 289.7 L531.6 289.9 L531.9 290.4 L532.3 290.0 L532.6 295.0 L532.9 289.3 L533.3 288.6 L533.6 289.3 L534.0 289.2 L534.3 289.4 L534.6 289.5 L535.0 289.0 L535.3 289.1 L535.7 289.9 L536.0 290.0 L536.3 290.2 L536.7 291.1 L537.0 292.8 L537.4 293.7 L537.7 294.4 L538.0 295.8 L538.4 296.6 L538.7 296.1 L539.1 295.9 L539.4 296.7 L539.7 295.4 L540.1 296.5 L540.4 294.3 L540.8 293.2 L541.1 293.8 L541.4 292.5 L541.8 292.8 L542.1 290.6 L542.5 294.3 L542.8 295.1 L543.1 294.1 L543.5 297.0 L543.8 297.1 L544.2 297.7 L544.5 298.1 L544.8 298.4 L545.2 299.3 L545.5 298.6 L545.8 297.9 L546.1 297.6 L546.4 297.1 L546.8 296.7 L547.1 296.4 L547.4 295.8 L547.7 295.0 L548.0 292.8 L548.3 293.4 L548.7 292.4 L549.0 292.7 L549.3 292.6 L549.6 292.0 L549.9 291.1 L550.2 291.0 L550.5 289.9 L550.9 289.7 L551.2 290.5 L551.5 291.9 L551.9 290.4 L552.2 291.9 L552.6 291.9 L552.9 291.8 L553.2 293.1 L553.6 293.5 L553.9 293.8 L554.3 295.0 L554.6 294.9 L554.9 295.6 L555.2 294.6 L555.6 296.3 L555.9 296.4 L556.2 298.1 L556.5 297.3 L556.9 296.4 L557.2 298.4 L557.5 297.7 L557.8 298.7 L558.1 300.3 L558.5 299.6 L558.8 302.5 L559.1 301.2 L559.5 301.2 L559.8 301.7 L560.2 301.2 L560.5 301.4 L560.8 302.7 L561.2 303.6 L561.5 302.2 L561.9 302.5 L562.2 302.5 L562.5 302.8 L562.8 302.8 L563.2 303.6 L563.5 304.4 L563.8 304.3 L564.1 304.8 L564.5 304.7 L564.8 304.1 L565.1 305.2 L565.4 303.3 L565.8 306.2 L566.1 305.8 L566.4 306.5 L566.7 307.5 L567.1 305.9 L567.4 305.7 L567.7 308.4 L568.0 304.9 L568.3 305.6 L568.7 305.3 L569.0 304.3 L569.3 303.6 L569.6 303.5 L570.0 303.9 L570.3 302.6 L570.6 302.0 L570.9 302.9 L571.3 301.4 L571.6 302.3 L571.9 303.1 L572.2 303.4 L572.5 303.3 L572.8 303.2 L573.2 303.3 L573.5 303.9 L573.8 303.6 L574.1 303.8 L574.4 304.7 L574.7 304.6 L575.0 304.8 L575.4 301.6 L575.7 305.2 L576.0 305.2 L576.3 305.6 L576.6 306.9 L576.9 306.9 L577.3 306.2 L577.6 305.2 L577.9 305.2 L578.2 305.8 L578.6 305.1 L578.9 304.3 L579.2 305.4 L579.5 303.3 L579.8 302.9 L580.2 303.8 L580.5 302.8 L580.8 302.3 L581.1 303.2 L581.5 302.1 L581.8 303.2 L582.1 302.1 L582.4 305.7 L582.8 303.2 L583.1 303.2 L583.4 303.7 L583.7 303.9 L584.1 304.5 L584.4 305.0 L584.7 305.5 L585.0 305.7 L585.4 305.8 L585.7 306.2 L586.0 305.9 L586.3 306.5 L586.7 305.2 L587.0 307.5 L587.3 307.9 L587.6 308.0 L587.9 307.7 L588.3 307.9 L588.6 309.2 L588.9 310.0 L589.2 310.1 L589.6 309.7 L589.9 310.9 L590.2 311.9 L590.5 311.7 L590.9 311.1 L591.2 310.4 L591.5 311.1 L591.8 309.3 L592.2 309.0 L592.5 309.0 L592.8 308.0 L593.1 307.5 L593.5 305.8 L593.8 305.9 L594.1 306.1 L594.4 305.9 L594.8 307.6 L595.1 304.4 L595.4 304.1 L595.7 303.8 L596.0 302.6 L596.4 300.9 L596.7 299.8 L597.0 300.0 L597.3 299.1 L597.7 299.8 L598.0 299.6 L598.3 299.1 L598.6 296.9 L599.0 296.5 L599.3 295.8 L599.6 294.8 L599.9 294.9 L600.3 296.1 L600.6 296.2 L600.9 297.1 L601.2 298.1 L601.6 298.5 L601.9 299.9 L602.2 300.9 L602.5 301.8 L602.8 302.5 L603.2 302.3 L603.5 303.0 L603.8 303.9 L604.1 303.5 L604.5 304.8 L604.8 302.0 L605.1 304.5 L605.4 304.2 L605.8 306.1 L606.1 305.9 L606.4 306.7 L606.7 305.8 L607.0 306.2 L607.4 306.5 L607.7 306.4 L608.0 308.0 L608.3 306.1 L608.6 307.4 L609.0 305.0 L609.3 305.0 L609.6 306.1 L609.9 304.1 L610.3 304.9 L610.6 304.5 L610.9 305.2 L611.2 304.2 L611.5 304.3 L611.9 306.6 L612.2 304.2 L612.5 303.9 L612.8 304.4 L613.2 303.9 L613.5 305.3 L613.8 305.3 L614.1 304.5 L614.5 305.2 L614.8 306.2 L615.1 306.3 L615.4 306.1 L615.8 307.1 L616.1 307.0 L616.4 306.3 L616.7 307.7 L617.1 307.3 L617.4 307.4 L617.7 305.9 L618.0 305.7 L618.3 306.2 L618.7 305.6 L619.0 306.6 L619.3 306.6 L619.6 306.2 L620.0 306.2 L620.3 306.2 L620.6 306.4 L620.9 306.3 L621.3 305.7 L621.6 305.2 L621.9 306.2 L622.2 306.6 L622.6 307.3 L622.9 307.0 L623.2 307.4 L623.5 307.4 L623.9 309.0 L624.2 309.0 L624.5 310.1 L624.8 309.3 L625.2 310.3 L625.5 308.2 L625.8 310.9 L626.1 311.7 L626.4 310.5 L626.7 311.4 L627.1 311.0 L627.4 310.4 L627.7 310.7 L628.0 310.5 L628.3 310.7 L628.6 311.1 L628.9 310.5 L629.3 310.4 L629.6 311.1 L629.9 310.2 L630.2 310.7 L630.5 310.4 L630.8 311.1 L631.2 308.6 L631.5 310.9 L631.8 310.6 L632.1 311.9 L632.4 311.6 L632.7 312.2 L633.0 312.2 L633.4 311.5 L633.7 312.1 L634.0 312.2 L634.3 313.0 L634.6 313.6 L634.9 314.0 L635.2 314.5 L635.6 313.4 L635.9 314.2 L636.2 315.2 L636.5 315.5 L636.8 317.1 L637.1 316.3 L637.5 316.8 L637.8 316.3 L638.1 316.3 L638.4 317.0 L638.8 316.3 L639.1 316.6 L639.4 316.9 L639.7 317.3 L640.1 317.2 L640.4 317.4 L640.7 318.0 L641.0 319.1 L641.3 319.3 L641.7 318.2 L642.0 319.1 L642.3 318.9 L642.6 318.6 L643.0 319.4 L643.3 320.0 L643.6 319.6 L643.9 322.5 L644.3 319.8 L644.6 320.0 L644.9 319.3 L645.2 317.6 L645.6 317.7 L645.9 318.9 L646.2 316.6 L646.5 318.0 L646.9 315.4 L647.2 315.2 L647.5 315.3 L647.8 313.8 L648.2 315.1 L648.5 314.8 L648.8 316.0 L649.1 315.7 L649.4 315.2 L649.7 315.6 L650.0 315.9 L650.3 317.4 L650.7 317.5 L651.0 318.1 L651.3 318.0 L651.6 315.9 L651.9 318.9 L652.2 319.0 L652.5 320.1 L652.9 319.7 L653.2 320.4 L653.5 319.2 L653.8 320.3 L654.1 319.3 L654.4 319.5 L654.7 319.1 L655.1 319.1 L655.4 319.1 L655.7 319.6 L656.0 319.6 L656.3 318.3 L656.6 320.0 L656.9 319.9 L657.3 319.7 L657.6 319.7 L657.9 320.0 L658.2 320.4 L658.5 320.6 L658.8 320.1 L659.1 321.0 L659.5 320.7 L659.8 321.6 L660.1 322.1 L660.4 322.0 L660.7 321.5 L661.0 320.9 L661.4 322.4 L661.7 322.0 L662.0 322.1 L662.3 325.3 L662.6 322.7 L662.9 323.0 L663.2 323.2 L663.6 323.4 L663.9 323.8 L664.2 323.2 L664.5 322.8 L664.8 323.0 L665.2 323.1 L665.5 323.1 L665.8 321.8 L666.1 323.1 L666.5 324.7 L666.8 322.9 L667.1 323.6 L667.4 323.7 L667.8 323.6 L668.1 323.5 L668.4 323.5 L668.7 323.6 L669.1 323.4 L669.4 322.8 L669.7 322.1 L670.0 321.8 L670.4 322.5 L670.7 322.4 L671.0 321.7 L671.3 322.2 L671.6 322.4 L672.0 323.1 L672.3 322.8 L672.6 322.8 L672.9 322.8 L673.3 319.5 L673.6 323.8 L673.9 324.3 L674.2 323.6 L674.6 323.6 L674.9 323.2 L675.2 323.8 L675.5 324.0 L675.9 323.8 L676.2 324.9 L676.5 323.2 L676.8 325.2 L677.2 324.9 L677.5 323.2 L677.8 324.3 L678.1 325.1 L678.5 324.8 L678.8 326.2 L679.1 326.8 L679.4 327.1 L679.7 327.5 L680.1 327.0 L680.4 326.9 L680.7 326.9 L681.0 326.3 L681.3 325.2 L681.6 325.9 L682.0 325.6 L682.3 325.8 L682.6 325.0 L682.9 324.1 L683.2 323.9 L683.5 323.7 L683.8 323.7 L684.2 323.7 L684.5 323.2 L684.8 323.7 L685.1 322.8 L685.4 322.3 L685.8 322.3 L686.1 320.2 L686.4 320.4 L686.8 319.3 L687.1 318.4 L687.5 317.8 L687.8 315.8 L688.1 315.1 L688.5 315.1 L688.8 313.9 L689.2 314.3 L689.5 315.4 L689.8 315.7 L690.2 316.0 L690.5 316.7 L690.9 317.2 L691.2 319.0 L691.5 318.6 L691.9 320.2 L692.2 319.5 L692.6 320.6 L692.9 321.0 L693.2 320.5 L693.6 319.9 L693.9 319.0 L694.3 320.4 L694.6 320.1 L694.9 320.7 L695.3 321.1 L695.6 321.4 L695.9 321.0 L696.2 320.3 L696.6 320.5 L696.9 320.5 L697.2 319.8 L697.5 319.9 L697.8 319.4 L698.1 317.5 L698.5 318.4 L698.8 317.4 L699.1 316.6 L699.4 316.3 L699.7 318.1 L700.0 317.7 L700.3 314.9 L700.7 314.9 L701.0 314.2 L701.3 313.7 L701.6 313.0 L702.0 312.2 L702.3 311.4 L702.6 310.1 L703.0 308.7 L703.3 307.9 L703.7 307.4 L704.0 305.6 L704.3 304.3 L704.7 302.6 L705.0 304.4 L705.4 306.1 L705.7 307.2 L706.0 309.2 L706.4 311.5 L706.7 312.8 L707.1 314.8 L707.4 317.7 L707.7 317.0 L708.0 316.1 L708.4 315.7 L708.7 315.4 L709.0 315.3 L709.3 315.1 L709.6 315.6 L709.9 316.3 L710.2 315.2 L710.6 314.5 L710.9 314.6 L711.2 314.8 L711.5 314.2 L711.8 313.9 L712.1 313.9 L712.5 312.1 L712.8 311.6 L713.1 312.4 L713.4 310.6 L713.8 310.9 L714.1 309.6 L714.4 309.3 L714.7 307.7 L715.1 307.5 L715.4 307.0 L715.7 306.6 L716.0 307.6 L716.4 304.3 L716.7 303.2 L717.0 302.4 L717.3 300.3 L717.6 299.3 L718.0 297.3 L718.3 293.4 L718.6 296.7 L719.0 298.6 L719.3 300.5 L719.7 302.7 L720.0 302.3 L720.3 304.3 L720.7 306.4 L721.0 306.9 L721.3 306.0 L721.6 306.5 L722.0 306.1 L722.3 305.7 L722.6 305.2 L722.9 305.2 L723.2 304.8 L723.5 303.7 L723.8 303.7 L724.2 303.4 L724.5 303.1 L724.8 303.0 L725.1 302.7 L725.4 301.9 L725.8 302.5 L726.1 302.4 L726.5 302.5 L726.8 303.5 L727.1 302.2 L727.5 303.8 L727.8 303.5 L728.2 303.5 L728.5 303.4 L728.8 304.2 L729.2 300.4 L729.5 306.6 L729.9 306.9 L730.2 308.7 L730.5 308.7 L730.9 310.6 L731.2 309.1 L731.6 311.0 L731.9 312.3 L732.2 311.9 L732.5 313.0 L732.9 315.5 L733.2 314.6 L733.5 314.4 L733.8 314.1 L734.2 316.1 L734.5 314.9 L734.8 314.4 L735.1 315.7 L735.5 317.0 L735.8 316.2 L736.1 316.6 L736.4 316.4 L736.8 315.9 L737.1 314.9 L737.5 313.8 L737.8 312.8 L738.1 312.5 L738.5 312.3 L738.8 311.5 L739.2 310.9 L739.5 309.6 L739.8 307.8 L740.2 310.4 L740.5 308.2 L740.8 308.8 L741.1 309.2 L741.5 309.5 L741.8 309.1 L742.1 309.6 L742.4 308.7 L742.8 310.3 L743.1 310.6 L743.4 310.6 L743.7 310.5 L744.0 310.6 L744.4 310.2 L744.7 311.8 L745.0 309.3 L745.3 311.8 L745.6 313.2 L745.9 311.0 L746.3 312.9 L746.6 313.5 L746.9 313.5 L747.2 314.4 L747.5 313.6 L747.8 313.5 L748.2 314.2 L748.5 314.0 L748.8 315.7 L749.1 315.0 L749.4 314.6 L749.7 314.8 L750.0 315.0 L750.4 314.9 L750.7 315.0 L751.0 314.3 L751.3 314.1 L751.7 314.6 L752.0 314.5 L752.3 314.9 L752.6 313.7 L753.0 313.7 L753.3 315.0 L753.6 313.5 L753.9 310.7 L754.3 313.7 L754.6 313.4 L754.9 313.2 L755.2 314.0 L755.5 312.7 L755.8 312.8 L756.1 312.3 L756.4 313.1 L756.8 312.1 L757.1 313.0 L757.4 312.6 L757.8 311.2 L758.1 311.2 L758.4 309.2 L758.8 309.4 L759.1 308.8 L759.5 308.7 L759.8 308.1 L760.1 308.0 L760.5 307.2 L760.8 307.0 L761.1 306.4 L761.4 303.7 L761.8 305.8 L762.1 304.8 L762.4 304.6 L762.7 303.3 L763.1 304.8 L763.4 304.4 L763.7 305.0 L764.0 305.5 L764.4 304.4 L764.7 306.2 L765.0 306.8 L765.3 306.0 L765.7 304.6 L766.0 304.7 L766.4 303.4 L766.7 303.5 L767.0 302.9 L767.4 302.0 L767.7 302.6 L768.1 302.0 L768.4 302.0 L768.7 304.6 L769.1 301.2 L769.4 300.6 L769.7 300.9 L770.0 300.7 L770.4 299.9 L770.7 299.8 L771.0 298.6 L771.4 298.1 L771.7 295.8 L772.0 295.0 L772.4 293.3 L772.7 290.7 L773.1 290.7 L773.4 290.1 L773.7 291.6 L774.0 292.0 L774.4 292.4 L774.7 293.3 L775.0 293.4 L775.3 294.8 L775.7 296.1 L776.0 297.3 L776.3 296.4 L776.6 296.6 L777.0 296.9 L777.3 296.8 L777.6 297.6 L778.0 297.4 L778.3 299.6 L778.6 298.5 L779.0 296.5 L779.3 294.3 L779.6 292.8 L780.0 291.3 L780.3 288.3 L780.7 286.1 L781.0 284.5 L781.3 282.3 L781.7 282.1 L782.0 283.3 L782.3 281.7 L782.7 283.3 L783.0 285.0 L783.3 285.6 L783.6 289.2 L784.0 289.8 L784.3 290.8 L784.6 292.2 L784.9 292.5 L785.3 293.1 L785.6 294.0 L785.9 292.8 L786.2 293.1 L786.5 297.4 L786.9 296.0 L787.2 296.1 L787.6 297.3 L787.9 295.9 L788.2 297.1 L788.6 300.1 L788.9 299.6 L789.3 301.0 L789.6 299.7 L789.9 298.1 L790.3 297.3 L790.6 297.2 L790.9 296.7 L791.2 294.9 L791.6 293.8 L791.9 292.1 L792.2 293.2 L792.6 292.7 L792.9 293.7 L793.2 292.2 L793.6 293.1 L793.9 293.4 L794.3 292.3 L794.6 291.5 L794.9 292.1 L795.3 291.5 L795.6 291.9 L796.0 289.8 L796.3 288.2 L796.6 289.8 L797.0 285.6 L797.3 284.2 L797.7 282.6 L798.0 280.8 L798.3 278.3 L798.7 275.9 L799.0 277.6 L799.3 278.5 L799.6 279.6 L800.0 277.0 L800.3 277.6 L800.6 277.9 L801.0 279.8 L801.3 282.7 L801.7 282.9 L802.1 284.5 L802.4 287.3 L802.7 285.7 L803.1 284.4 L803.4 284.4 L803.7 283.4 L804.0 282.3 L804.4 276.9 L804.7 275.5 L805.1 274.8 L805.4 273.7 L805.8 271.1 L806.1 270.6 L806.5 267.9 L806.8 269.7 L807.1 271.4 L807.5 273.8 L807.8 274.8 L808.1 277.1 L808.4 274.5 L808.7 271.2 L809.1 269.1 L809.4 268.7 L809.7 265.8 L810.1 263.4 L810.4 261.8 L810.7 260.0 L811.0 256.7 L811.4 258.4 L811.7 261.3 L812.0 263.3 L812.3 265.5 L812.7 266.6 L813.0 267.7 L813.3 269.7 L813.6 271.9 L813.9 272.6 L814.3 274.3 L814.6 275.8 L814.9 278.7 L815.2 281.4 L815.5 283.1 L815.8 282.9 L816.2 287.7 L816.5 289.4 L816.8 289.6 L817.1 292.4 L817.5 291.4 L817.8 292.3 L818.1 291.8 L818.4 291.6 L818.8 293.8 L819.1 294.1 L819.4 296.5 L819.7 295.0 L820.1 293.5 L820.4 292.2 L820.7 290.3 L821.0 290.9 L821.3 285.2 L821.7 287.9 L822.0 288.0 L822.3 289.9 L822.7 289.6 L823.0 289.1 L823.3 289.4 L823.6 290.0 L824.0 289.1 L824.3 291.2 L824.6 290.4 L824.9 290.8 L825.3 291.6 L825.6 296.5 L825.9 294.7 L826.3 296.5 L826.6 297.6 L826.9 299.5 L827.2 298.9 L827.5 298.8 L827.9 297.4 L828.2 296.4 L828.5 296.2 L828.8 294.8 L829.1 293.8 L829.5 293.3 L829.8 291.9 L830.1 290.8 L830.4 291.8 L830.7 292.3 L831.1 294.1 L831.4 295.1 L831.7 295.0 L832.1 295.2 L832.4 295.5 L832.7 296.0 L833.0 297.4 L833.4 301.7 L833.7 298.4 L834.1 298.3 L834.4 299.0 L834.7 299.4 L835.1 300.4 L835.4 299.1 L835.8 299.4 L836.1 299.5 L836.4 301.2 L836.8 297.8 L837.1 298.0 L837.4 297.5 L837.7 296.6 L838.1 295.5 L838.4 295.1 L838.7 293.7 L839.0 293.9 L839.4 289.2 L839.7 290.9 L840.0 290.9 L840.3 291.0 L840.6 290.8 L841.0 289.4 L841.3 290.1 L841.6 291.0 L841.9 293.0 L842.3 294.2 L842.6 295.5 L842.9 296.8 L843.2 298.1 L843.6 298.9 L843.9 300.2 L844.3 301.3 L844.6 301.9 L844.9 304.2 L845.3 305.3 L845.6 306.1 L846.0 306.9 L846.3 306.7 L846.6 306.8 L846.9 305.5 L847.3 305.1 L847.6 304.2 L847.9 304.2 L848.3 303.5 L848.6 303.0 L848.9 300.4 L849.2 302.9 L849.6 303.6 L849.9 306.3 L850.2 304.6 L850.5 305.5 L850.9 304.8 L851.2 306.3 L851.5 310.1 L851.9 310.4 L852.2 309.5 L852.5 309.6 L852.8 309.2 L853.1 309.8 L853.5 307.9 L853.8 309.8 L854.1 309.9 L854.4 310.1 L854.7 309.3 L855.1 309.5 L855.4 309.3 L855.7 310.6 L856.0 311.6 L856.4 309.4 L856.7 308.5 L857.1 309.3 L857.4 308.8 L857.8 308.7 L858.1 308.3 L858.4 307.6 L858.8 307.5 L859.1 307.0 L859.4 307.7 L859.8 308.0 L860.1 308.1 L860.4 308.2 L860.7 308.9 L861.1 310.7 L861.4 309.5 L861.7 310.0 L862.0 310.0 L862.4 310.5 L862.7 310.0 L863.0 310.3 L863.3 310.4 L863.6 310.7 L864.0 310.4 L864.3 310.8 L864.6 310.7 L864.9 311.2 L865.3 311.7 L865.6 312.4 L865.9 312.1 L866.3 310.7 L866.6 311.0 L866.9 310.2 L867.3 309.1 L867.6 309.3 L868.0 308.6 L868.3 307.8 L868.6 307.2 L869.0 307.2 L869.3 306.6 L869.6 307.0 L870.0 306.8 L870.3 306.5 L870.6 308.0 L871.0 308.2 L871.3 308.0 L871.6 308.3 L871.9 308.9 L872.3 307.8 L872.6 308.4 L872.9 309.4 L873.3 310.6 L873.6 310.1 L874.0 310.3 L874.3 311.8 L874.6 311.9 L875.0 312.4 L875.3 312.9 L875.6 313.6 L875.9 314.9 L876.2 316.6 L876.5 317.8 L876.9 316.8 L877.2 318.4 L877.6 317.5 L877.9 318.9 L878.2 318.3 L878.6 319.2 L878.9 319.3 L879.3 320.7 L879.6 320.2 L880.0 320.1 L880.3 320.8 L880.6 321.8 L880.9 321.9 L881.2 322.1 L881.6 323.8 L881.9 322.0 L882.2 321.9 L882.5 320.9 L882.9 322.1 L883.2 321.4 L883.5 321.1 L883.8 321.2 L884.2 322.1 L884.5 322.6 L884.8 322.2 L885.1 322.9 L885.5 323.2 L885.8 323.5 L886.1 323.4 L886.4 323.7 L886.8 323.4 L887.1 324.0 L887.4 323.9 L887.7 321.8 L888.0 324.0 L888.4 324.5 L888.7 324.4 L889.0 324.3 L889.3 325.0 L889.7 325.7 L890.0 324.6 L890.3 324.5 L890.6 324.0 L891.0 324.9 L891.3 324.9 L891.6 323.2 L891.9 323.6 L892.3 323.4 L892.6 323.8 L892.9 324.0 L893.2 324.1 L893.6 324.6 L893.9 324.2 L894.2 325.0 L894.5 325.2 L894.9 327.5 L895.2 325.4 L895.5 325.6 L895.8 325.9 L896.2 326.4 L896.5 327.2 L896.8 326.2 L897.2 324.3 L897.5 322.9 L897.9 321.3 L898.2 321.1 L898.5 319.8 L898.9 319.2 L899.2 317.9 L899.6 322.0 L899.9 318.5 L900.2 322.1 L900.6 318.7 L900.9 321.2 L901.3 321.2 L901.6 321.0 L901.9 321.8 L902.3 322.7 L902.6 325.4 L903.0 324.3 L903.3 323.6 L903.6 324.0 L904.0 322.8 L904.3 321.8 L904.7 322.2 L905.0 322.3 L905.3 322.9 L905.7 321.0 L906.0 321.2 L906.4 321.6 L906.7 320.6 L907.0 323.1 L907.4 323.2 L907.7 323.7 L908.1 324.8 L908.4 325.1 L908.7 326.4 L909.1 326.0 L909.4 326.2 L909.8 326.5 L910.1 326.1 L910.4 326.3 L910.7 325.8 L911.0 326.9 L911.4 327.8 L911.7 327.6 L912.0 327.2 L912.3 327.4 L912.7 327.4 L913.0 327.2 L913.3 327.6 L913.6 327.9 L914.0 328.1 L914.3 328.5 L914.6 327.9 L914.9 328.8 L915.3 329.2 L915.6 329.1 L915.9 328.2 L916.2 324.7 L916.6 328.8 L916.9 329.7 L917.2 330.0 L917.5 329.7 L917.9 327.9 L918.2 329.6 L918.5 328.6 L918.8 328.7 L919.1 329.1 L919.5 328.4 L919.8 328.6 L920.1 328.2 L920.4 327.8 L920.8 327.8 L921.1 328.6 L921.4 326.3 L921.7 329.7 L922.1 327.3 L922.4 327.7 L922.7 328.2 L923.0 328.1 L923.4 327.7 L923.7 328.1 L924.0 329.2 L924.3 328.5 L924.7 328.9 L925.0 329.2 L925.3 329.3 L925.6 328.9 L925.9 329.2 L926.3 329.7 L926.6 329.4 L926.9 330.0 L927.2 329.9 L927.6 330.3 L927.9 329.2 L928.2 329.3 L928.6 328.4 L928.9 327.9 L929.3 327.8 L929.6 327.3 L930.0 327.2 L930.3 326.3 L930.6 325.3 L931.0 324.8 L931.3 324.9 L931.6 324.8 L931.9 325.0 L932.3 325.2 L932.6 324.4 L932.9 325.3 L933.2 325.4 L933.6 324.2 L933.9 325.7 L934.2 325.7 L934.5 324.5 L934.9 326.7 L935.2 327.3 L935.5 327.6 L935.8 327.3 L936.2 328.0 L936.5 327.9 L936.8 328.8 L937.1 327.7 L937.4 329.6 L937.8 329.7 L938.1 329.1 L938.4 328.4 L938.7 330.2 L939.1 330.8 L939.4 330.8 L939.7 331.7 L940.0 331.9 L940.4 329.8 L940.7 331.4 L941.0 331.2 L941.3 331.8 L941.7 331.3 L942.0 331.8 L942.3 332.9 L942.6 331.2 L943.0 330.6 L943.3 330.7 L943.6 332.0 L943.9 330.4 L944.3 330.0 L944.6 330.2 L944.9 330.2 L945.3 330.6 L945.6 331.3 L945.9 331.6 L946.3 332.0 L946.6 333.3 L947.0 333.9 L947.3 334.4 L947.6 334.8 L948.0 334.5 L948.3 334.3 L948.7 334.4 L949.0 333.2 L949.3 332.3 L949.7 332.5 L950.0 332.1 L950.4 330.9 L950.7 332.3 L951.0 331.8 L951.4 328.7 L951.7 328.5 L952.0 328.7 L952.4 328.6 L952.7 329.8 L953.0 329.7 L953.3 329.7 L953.6 329.3 L954.0 328.6 L954.3 331.2 L954.6 330.7 L954.9 330.1 L955.3 330.9 L955.6 331.0 L955.9 330.3 L956.2 330.9 L956.5 332.1 L956.9 331.3 L957.2 332.1 L957.5 331.0 L957.8 331.5 L958.1 332.9 L958.4 332.3 L958.7 332.4 L959.1 331.8 L959.4 333.4 L959.7 332.1 L960.0 331.0 L960.3 332.4 L960.6 334.1 L961.0 332.6 L961.3 332.1 L961.6 332.2 L961.9 331.4 L962.2 333.2 L962.6 332.8 L962.9 333.1 L963.2 332.4 L963.5 333.1 L963.9 333.6 L964.2 333.8 L964.5 334.3 L964.8 333.6 L965.1 333.2 L965.5 333.2 L965.8 333.5 L966.1 334.1 L966.4 334.5 L966.8 334.1 L967.1 333.8 L967.4 333.8 L967.7 334.5 L968.1 335.2 L968.4 335.5 L968.7 331.3 L969.1 334.0 L969.4 333.6 L969.7 333.2 L970.1 332.2 L970.4 335.4 L970.8 332.1 L971.1 329.8 L971.4 329.3 L971.8 329.1 L972.1 328.3 L972.4 328.5 L972.8 329.3 L973.1 328.9 L973.4 329.1 L973.7 330.7 L974.1 329.7 L974.4 329.8 L974.7 329.5 L975.0 328.6 L975.4 329.3 L975.7 329.8 L976.0 330.0 L976.3 330.2 L976.7 329.6 L977.0 329.4 L977.3 325.9 L977.7 328.0 L978.0 328.2 L978.4 328.0 L978.7 327.7 L979.0 328.5 L979.4 327.8 L979.7 327.8 L980.1 327.2 L980.4 326.2 L980.7 326.7 L981.1 326.0 L981.4 326.0 L981.8 325.7 L982.1 325.3 L982.4 324.0 L982.8 324.0 L983.1 323.8 L983.5 325.4 L983.8 326.2 L984.1 326.7 L984.5 327.5 L984.8 327.9 L985.2 328.5 L985.5 328.8 L985.8 328.9 L986.2 329.6 L986.5 331.0 L986.9 331.6 L987.2 331.3 L987.5 330.7 L987.8 330.6 L988.1 330.3 L988.5 330.3 L988.8 329.9 L989.1 327.6 L989.4 329.5 L989.8 328.6 L990.1 329.8 L990.4 329.5 L990.7 327.5 L991.1 328.5 L991.4 329.6 L991.7 327.1 L992.0 326.1 L992.4 326.9 L992.7 325.4 L993.0 326.0 L993.3 325.6 L993.7 325.8 L994.0 324.9 L994.3 324.5 L994.6 324.3 L994.9 324.2 L995.3 325.0 L995.6 323.2 L995.9 324.0 L996.3 324.6 L996.6 324.1 L997.0 327.1 L997.3 326.9 L997.6 325.8 L998.0 325.9 L998.3 326.6 L998.7 325.9 L999.0 327.2 L999.3 326.5 L999.6 325.3 L999.9 325.6 L1000.3 325.5 L1000.6 325.0 L1000.9 324.1 L1001.2 324.3 L1001.5 323.2 L1001.8 323.9 L1002.1 322.5 L1002.5 322.4 L1002.8 319.0 L1003.1 317.1 L1003.4 322.2 L1003.7 321.7 L1004.0 322.9 L1004.4 323.5 L1004.7 324.0 L1005.0 323.8 L1005.3 323.8 L1005.6 323.8 L1006.0 324.6 L1006.3 325.5 L1006.6 327.4 L1006.9 325.6 L1007.3 327.2 L1007.6 326.2 L1007.9 325.8 L1008.2 326.6 L1008.6 327.7 L1008.9 327.9 L1009.2 329.7 L1009.5 328.3 L1009.8 327.8 L1010.2 328.5 L1010.5 327.3 L1010.8 329.2 L1011.1 329.5 L1011.5 330.0 L1011.8 329.4 L1012.1 329.6 L1012.4 330.1 L1012.8 329.0 L1013.1 328.8 L1013.4 327.3 L1013.7 328.1 L1014.1 328.2 L1014.4 328.0 L1014.7 328.0 L1015.0 327.5 L1015.4 326.4 L1015.7 327.5 L1016.0 327.5 L1016.3 328.3 L1016.7 325.7 L1017.0 327.9 L1017.4 329.3 L1017.7 328.9 L1018.0 328.5 L1018.4 330.1 L1018.7 329.8 L1019.1 329.7 L1019.4 330.4 L1019.7 330.0 L1020.1 330.1 L1020.4 330.4 L1020.8 329.6 L1021.1 330.4 L1021.4 328.3 L1021.8 331.5 L1022.1 331.4 L1022.5 331.1 L1022.8 331.2 L1023.1 331.4 L1023.5 329.7 L1023.8 328.9 L1024.2 328.6 L1024.5 326.6 L1024.8 327.3 L1025.2 326.6 L1025.5 326.3 L1025.9 323.8 L1026.2 324.8 L1026.5 324.6 L1026.9 325.7 L1027.2 325.4 L1027.6 325.3 L1027.9 325.8 L1028.2 326.6 L1028.6 326.7 L1028.9 325.7 L1029.3 327.7 L1029.6 329.9 L1030.0 325.7 L1030.3 325.4 L1030.6 324.9 L1031.0 324.1 L1031.3 322.7 L1031.7 321.4 L1032.0 320.4 L1032.3 320.0 L1032.7 316.1 L1033.0 319.1 L1033.3 318.7 L1033.6 317.4 L1033.9 318.7 L1034.3 317.7 L1034.6 317.7 L1034.9 317.2 L1035.2 317.5 L1035.5 316.6 L1035.8 317.4 L1036.1 316.8 L1036.4 315.6 L1036.7 316.0 L1037.1 316.6 L1037.4 316.0 L1037.7 315.6 L1038.0 315.0 L1038.3 315.5 L1038.6 316.3 L1039.0 313.1 L1039.3 310.3 L1039.7 306.6 L1040.0 307.0 L1040.3 305.9 L1040.7 304.3 L1041.0 302.2 L1041.3 301.3 L1041.7 302.4 L1042.0 299.9 L1042.3 301.5 L1042.6 300.7 L1043.0 304.0 L1043.3 301.4 L1043.6 302.6 L1043.9 305.6 L1044.3 307.2 L1044.6 309.2 L1044.9 311.5 L1045.2 312.6 L1045.6 315.5 L1045.9 315.7 L1046.2 315.8 L1046.5 316.6 L1046.8 317.0 L1047.1 317.3 L1047.4 317.7 L1047.7 317.4 L1048.1 318.7 L1048.4 321.4 L1048.7 320.0 L1049.0 320.0 L1049.3 320.3 L1049.6 320.3 L1050.0 320.6 L1050.3 321.6 L1050.7 322.0 L1051.0 322.2 L1051.3 322.6 L1051.7 322.9 L1052.0 323.1 L1052.4 323.7 L1052.7 324.9 L1053.0 325.7 L1053.4 325.2 L1053.7 325.3 L1054.0 325.3 L1054.3 324.5 L1054.7 324.4 L1055.0 324.4 L1055.3 325.7 L1055.6 324.8 L1055.9 324.1 L1056.3 323.9 L1056.6 323.1 L1056.9 323.5 L1057.2 324.1 L1057.6 324.0 L1057.9 324.4 L1058.2 324.5 L1058.5 323.9 L1058.9 323.6 L1059.2 324.2 L1059.5 324.0 L1059.8 324.0 L1060.2 324.0 L1060.5 322.7 L1060.8 324.6 L1061.1 325.3 L1061.5 325.2 L1061.8 325.9 L1062.1 326.1 L1062.4 326.4 L1062.7 326.4 L1063.1 327.7 L1063.4 328.3 L1063.7 327.8 L1064.0 328.4 L1064.4 329.2 L1064.7 329.7 L1065.0 330.5 L1065.3 330.3 L1065.6 331.0 L1066.0 329.9 L1066.3 330.4 L1066.6 329.7 L1066.9 330.0 L1067.2 330.9 L1067.5 329.1 L1067.8 329.9 L1068.2 327.4 L1068.5 328.3 L1068.8 327.8 L1069.1 328.3 L1069.4 328.3 L1069.7 327.9 L1070.0 326.7 L1070.4 325.9 L1070.7 327.1 L1071.1 324.5 L1071.4 324.7 L1071.7 324.4 L1072.1 323.0 L1072.4 323.7 L1072.8 322.5 L1073.1 321.9 L1073.4 321.4 L1073.8 320.3 L1074.1 319.3 L1074.5 319.1 L1074.8 318.3 L1075.1 317.3 L1075.5 315.9 L1075.8 315.4 L1076.2 313.6 L1076.5 315.1 L1076.8 317.6 L1077.1 318.6 L1077.5 319.0 L1077.8 319.5 L1078.1 320.1 L1078.5 321.1 L1078.8 322.5 L1079.1 323.3 L1079.4 324.0 L1079.8 323.8 L1080.1 324.1 L1080.4 324.4 L1080.7 325.1 L1081.1 324.9 L1081.4 325.2 L1081.7 325.2 L1082.0 324.8 L1082.4 325.4 L1082.7 326.0 L1083.0 327.7 L1083.3 328.6 L1083.6 328.3 L1084.0 328.2 L1084.3 328.2 L1084.7 328.5 L1085.0 328.1 L1085.3 326.7 L1085.7 328.4 L1086.0 327.7 L1086.4 327.9 L1086.7 328.2 L1087.0 328.7 L1087.4 327.8 L1087.7 327.2 L1088.1 329.0 L1088.4 325.1 L1088.7 324.2 L1089.1 322.3 L1089.4 321.4 L1089.8 322.2 L1090.1 320.2 L1090.4 319.4 L1090.8 319.7 L1091.1 320.0 L1091.5 320.5 L1091.8 320.8 L1092.1 321.0 L1092.5 322.2 L1092.8 320.1 L1093.2 321.7 L1093.5 322.4 L1093.9 320.7 L1094.2 322.6 L1094.5 323.1 L1094.9 323.0 L1095.2 324.9 L1095.6 325.1 L1095.9 325.3 L1096.2 326.6 L1096.6 327.5 L1096.9 327.2 L1097.3 328.5 L1097.6 327.9 L1097.9 328.8 L1098.3 329.6 L1098.6 329.3 L1099.0 329.7 L1099.3 330.0 L1099.6 329.7 L1100.0 330.4 L1100.3 329.9 L1100.7 330.1 L1101.0 330.2 L1101.3 329.0 L1101.6 328.5 L1102.0 326.1 L1102.3 324.8 L1102.6 324.6 L1102.9 322.1 L1103.3 321.6 L1103.6 317.4 L1103.9 322.3 L1104.3 320.8 L1104.6 321.0 L1105.0 325.1 L1105.3 325.8 L1105.6 327.3 L1106.0 328.5 L1106.3 328.7 L1106.7 328.3 L1107.0 329.0 L1107.3 329.2 L1107.7 329.1 L1108.0 327.7 L1108.4 329.8 L1108.7 329.6 L1109.0 330.2 L1109.4 330.6 L1109.7 329.6 L1110.1 331.1 L1110.4 330.2 L1110.7 329.5 L1111.1 331.8 L1111.4 328.4 L1111.8 327.9 L1112.1 327.9 L1112.4 328.8 L1112.8 327.7 L1113.1 327.4 L1113.5 323.8 L1113.8 328.5 L1114.1 328.7 L1114.5 328.6 L1114.8 329.0 L1115.2 329.0 L1115.5 330.0 L1115.8 329.8 L1116.2 330.8 L1116.5 330.3 L1116.8 329.0 L1117.2 333.7 L1117.5 331.5 L1117.8 331.0 L1118.1 333.1 L1118.5 335.9 L1118.8 334.7 L1119.1 334.9 L1119.4 335.4 L1119.7 336.4 L1120.1 338.5 L1120.4 337.2 L1124.0 334.0 L1126.5 336.0 L1128.0 331.0 L1129.5 324.5 L1131.0 331.0 L1133.0 334.0 L1134.0 330.0 L1135.0 320.0 L1136.0 307.0 L1137.0 295.0 L1137.5 290.0 L1138.5 275.0 L1139.5 245.0 L1140.3 225.0 L1141.0 205.5 L1141.8 225.0 L1142.6 240.0 L1143.3 238.0 L1144.0 234.5 L1144.5 245.0 L1145.2 261.0 M1145.6 268.0 L1146.2 273.5 L1147.5 262.5" stroke="#89a54e"/>
</g>
<rect x="80" y="374" width="1068" height="2" fill="#000"/>
<rect x="123" y="19.0" width="16" height="2" fill="#4572a7"/>
<text x="144.2" y="23.6" class="lg">ICE BofA BBB US Corporate Index Option-Adjusted Spread</text>
<rect x="123" y="33.0" width="16" height="2" fill="#aa4643"/>
<text x="144.2" y="37.6" class="lg">Moody's Seasoned Aaa Corporate Bond Yield Relative to Yield on 10-Year Treasury Constant Maturity</text>
<rect x="123" y="47.0" width="16" height="2" fill="#89a54e"/>
<text x="144.2" y="51.6" class="lg">ICE BofA BB US High Yield Index Option-Adjusted Spread</text>
<text transform="translate(0,30.6) scale(1.05,1)" x="8.92 26.16 45.35 63.97" y="0" class="logo">FRED</text>
<text x="85" y="31.2" style="font:4.6px 'Liberation Sans',sans-serif;fill:#231f20">®</text>
<rect x="92.1" y="10.9" width="21.8" height="19.8" rx="2" fill="url(#ig)"/>
<path d="M92.1 24.9 L96 20.7 L99.7 23.7 L104.7 17 L108 18.3 L113 12 L113.9 11.5 L113.9 28.7 Q113.9 30.7 111.9 30.7 L94.1 30.7 Q92.1 30.7 92.1 28.7 Z" fill="#d6d6d6" opacity="0.85"/>
<path d="M92.4 24.7 L96 20.7 L99.7 23.7 L104.7 17 L108 18.3 L113.2 11.8" fill="none" stroke="#5487ae" stroke-width="1.15" stroke-linejoin="round"/>
<path d="M92.4 27.3 L96.3 25.3 L100.3 27.3 L105 24.3 L108.3 25.3 L113.6 17.6" fill="none" stroke="#68a247" stroke-width="1.15" stroke-linejoin="round"/>
<text x="33" y="429.5" class="ft" fill="#4572a7">Shaded areas indicate U.S. recessions</text>
<text x="372" y="429.5" class="ft" fill="#666">Sources: Federal Reserve Bank of St. Louis, Ice Data Indices, LLC</text>
<text x="1006" y="429.5" class="ft" fill="#666">fred.stlouisfed.org</text>
</svg>
</body></html>
